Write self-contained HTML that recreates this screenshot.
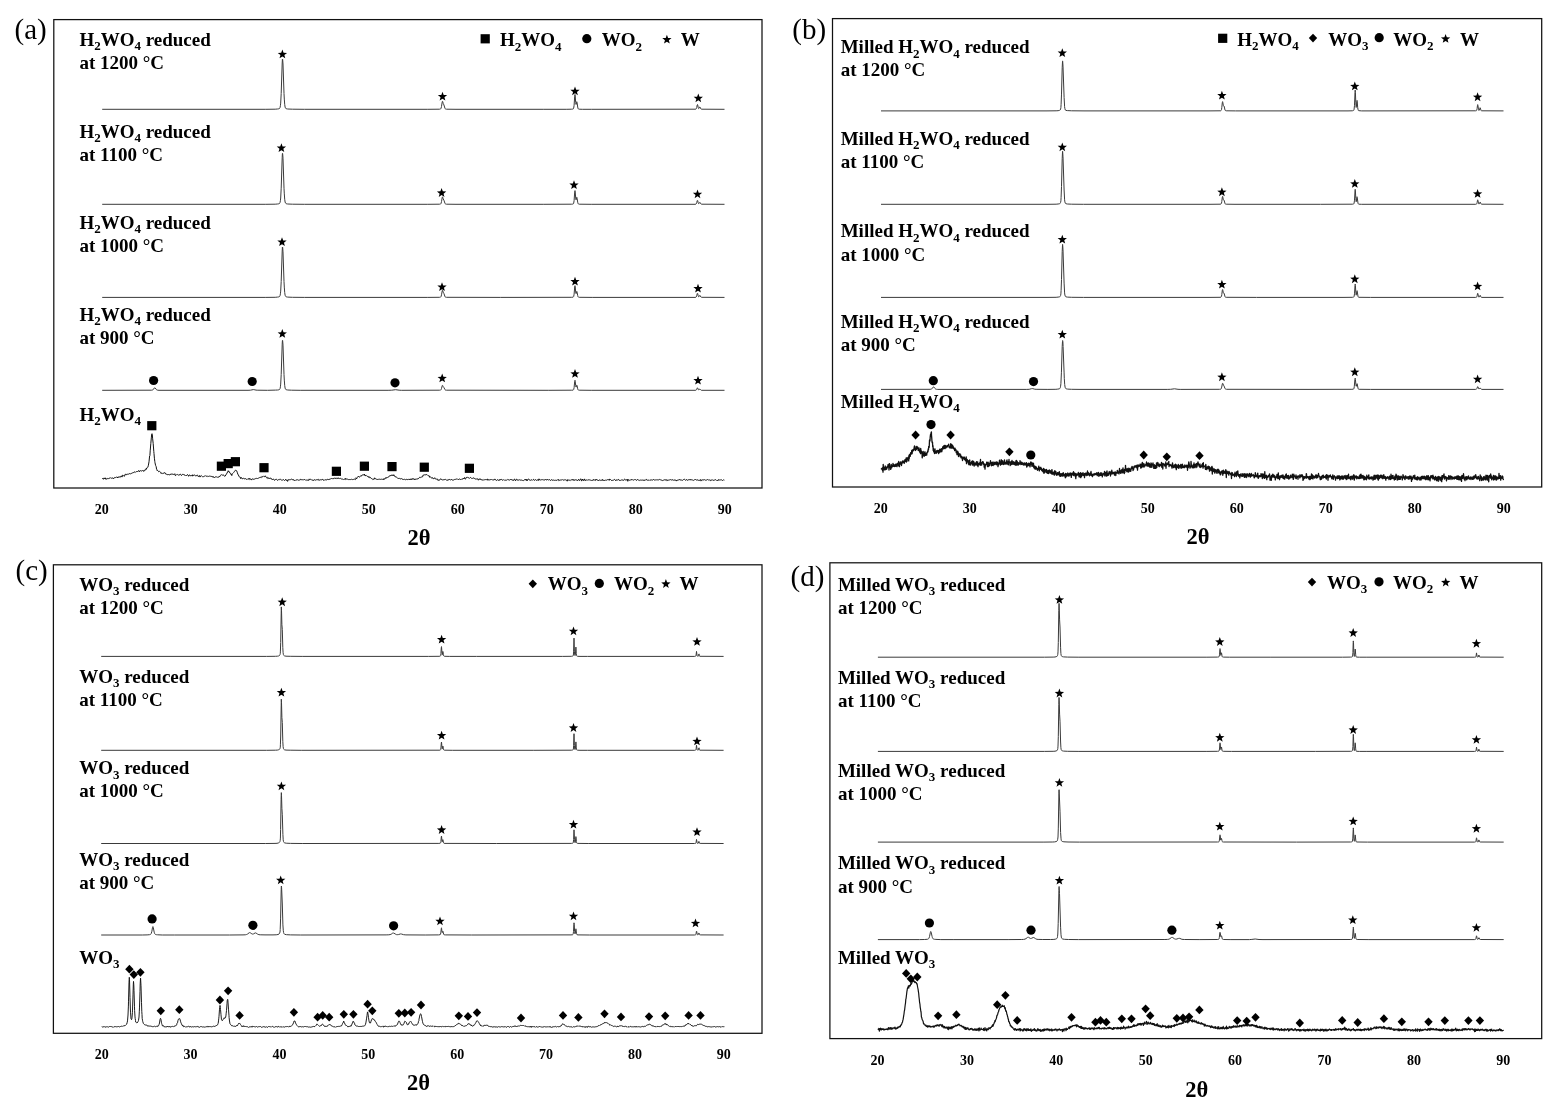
<!DOCTYPE html>
<html><head><meta charset="utf-8"><style>
html,body{margin:0;padding:0;background:#fff;width:1562px;height:1115px;overflow:hidden}
svg{display:block;will-change:transform}
text{font-family:"Liberation Serif",serif;fill:#000}
.lb{font-size:19px;font-weight:bold}
.sb{font-size:13px}
.tk{font-size:14px;font-weight:bold;text-anchor:middle}
.ax{font-size:22.5px;font-weight:bold;text-anchor:middle}
.tag{font-size:29px}
.fr{fill:none;stroke:#111;stroke-width:1.25}
.tr{fill:none;stroke:#3a3a3a;stroke-width:1.0;stroke-linejoin:round}
.tr2{fill:none;stroke:#111;stroke-width:1.2;stroke-linejoin:round}
path,circle,rect{fill:#000}
</style></head><body>
<svg width="1562" height="1115" viewBox="0 0 1562 1115">
<rect class="fr" x="53.8" y="19.6" width="708.2" height="468.4"/>
<text class="tag" x="14.5" y="39.2">(a)</text>
<text class="tk" x="101.8" y="514.0">20</text>
<text class="tk" x="190.8" y="514.0">30</text>
<text class="tk" x="279.8" y="514.0">40</text>
<text class="tk" x="368.8" y="514.0">50</text>
<text class="tk" x="457.8" y="514.0">60</text>
<text class="tk" x="546.8" y="514.0">70</text>
<text class="tk" x="635.8" y="514.0">80</text>
<text class="tk" x="724.8" y="514.0">90</text>
<text class="ax" x="419.0" y="544.7">2θ</text>
<rect x="480.6" y="34.2" width="9.2" height="9.2"/>
<text class="lb" x="500.0" y="46.1">H<tspan class="sb" dy="4.5">2</tspan><tspan dy="-4.5">WO</tspan><tspan class="sb" dy="4.5">4</tspan><tspan dy="-4.5"> </tspan></text>
<circle cx="586.8" cy="38.7" r="4.60"/>
<text class="lb" x="601.7" y="46.1">WO<tspan class="sb" dy="4.5">2</tspan><tspan dy="-4.5"> </tspan></text>
<path d="M666.90,34.70 668.10,37.94 671.56,38.09 668.85,40.23 669.78,43.56 666.90,41.65 664.02,43.56 664.95,40.23 662.24,38.09 665.70,37.94Z"/>
<text class="lb" x="680.8" y="46.1">W</text>
<text class="lb" x="79.4" y="45.5">H<tspan class="sb" dy="4.5">2</tspan><tspan dy="-4.5">WO</tspan><tspan class="sb" dy="4.5">4</tspan><tspan dy="-4.5"> reduced</tspan></text>
<text class="lb" x="79.4" y="68.7">at 1200 °C</text>
<text class="lb" x="79.4" y="137.8">H<tspan class="sb" dy="4.5">2</tspan><tspan dy="-4.5">WO</tspan><tspan class="sb" dy="4.5">4</tspan><tspan dy="-4.5"> reduced</tspan></text>
<text class="lb" x="79.4" y="161.0">at 1100 °C</text>
<text class="lb" x="79.4" y="228.9">H<tspan class="sb" dy="4.5">2</tspan><tspan dy="-4.5">WO</tspan><tspan class="sb" dy="4.5">4</tspan><tspan dy="-4.5"> reduced</tspan></text>
<text class="lb" x="79.4" y="252.1">at 1000 °C</text>
<text class="lb" x="79.4" y="320.5">H<tspan class="sb" dy="4.5">2</tspan><tspan dy="-4.5">WO</tspan><tspan class="sb" dy="4.5">4</tspan><tspan dy="-4.5"> reduced</tspan></text>
<text class="lb" x="79.4" y="343.7">at 900 °C</text>
<text class="lb" x="79.4" y="420.8">H<tspan class="sb" dy="4.5">2</tspan><tspan dy="-4.5">WO</tspan><tspan class="sb" dy="4.5">4</tspan><tspan dy="-4.5"> </tspan></text>
<path class="tr" d="M102.2,109.3 265.2,109.3 275.2,109.2 277.4,109.0 278.8,108.8 279.6,108.4 280.0,107.7 280.4,105.7 280.7,103.1 281.2,93.4 282.2,63.0 282.4,59.4 282.6,59.1 282.7,59.9 283.0,64.0 284.0,93.5 284.3,99.1 284.7,104.3 285.1,107.1 285.5,108.1 285.8,108.5 286.2,108.7 287.7,109.0 292.4,109.2 304.7,109.3 427.2,109.3 439.4,109.2 440.2,109.1 440.6,109.0 440.8,108.7 441.1,108.1 441.5,106.4 442.2,102.1 442.4,101.3 442.6,101.3 442.7,101.6 443.2,103.4 443.9,104.9 445.0,108.4 445.2,108.8 445.5,109.0 446.4,109.2 456.0,109.3 543.2,109.3 566.2,109.3 571.7,109.2 572.7,109.1 573.2,109.0 573.4,108.7 573.7,108.0 574.1,105.3 574.7,96.2 575.0,94.5 575.2,95.8 575.7,102.5 576.0,104.4 576.1,104.5 576.2,104.3 576.6,102.2 576.7,101.8 576.9,101.7 577.1,102.8 577.7,107.0 578.0,108.4 578.4,109.0 579.2,109.2 582.3,109.3 591.7,109.3 695.1,109.2 696.0,109.1 696.3,108.7 696.7,107.6 697.2,105.0 697.5,104.5 697.7,104.9 698.2,107.4 698.6,108.5 698.7,108.6 699.0,108.4 699.6,107.1 699.9,106.9 700.1,107.2 700.9,108.9 701.2,109.1 701.5,109.2 724.5,109.3"/>
<path d="M282.40,49.50 283.60,52.74 287.06,52.89 284.35,55.03 285.28,58.36 282.40,56.45 279.52,58.36 280.45,55.03 277.74,52.89 281.20,52.74Z"/>
<path d="M442.50,91.70 443.70,94.94 447.16,95.09 444.45,97.23 445.38,100.56 442.50,98.65 439.62,100.56 440.55,97.23 437.84,95.09 441.30,94.94Z"/>
<path d="M575.00,86.40 576.20,89.64 579.66,89.79 576.95,91.93 577.88,95.26 575.00,93.35 572.12,95.26 573.05,91.93 570.34,89.79 573.80,89.64Z"/>
<path d="M698.30,93.40 699.50,96.64 702.96,96.79 700.25,98.93 701.18,102.26 698.30,100.35 695.42,102.26 696.35,98.93 693.64,96.79 697.10,96.64Z"/>
<path class="tr" d="M102.2,204.3 265.2,204.3 275.2,204.2 277.4,204.0 278.8,203.8 279.6,203.4 280.0,202.6 280.4,200.7 280.7,198.0 281.2,188.2 282.2,157.3 282.4,153.6 282.6,153.3 282.7,154.1 283.0,158.2 284.0,188.2 284.3,193.9 284.7,199.2 285.1,202.0 285.5,203.1 285.8,203.4 286.2,203.7 287.7,204.0 292.4,204.2 304.7,204.3 427.2,204.3 439.4,204.2 440.2,204.2 440.6,204.0 440.8,203.8 441.1,203.2 441.5,201.6 442.2,197.6 442.4,196.9 442.6,196.9 442.7,197.2 443.2,198.9 443.9,200.2 445.0,203.4 445.2,203.8 445.5,204.0 446.4,204.2 456.0,204.3 543.2,204.3 571.7,204.2 572.7,204.1 573.2,204.0 573.4,203.8 573.7,203.1 574.1,200.6 574.7,192.1 575.0,190.6 575.2,191.8 575.7,198.0 576.0,199.8 576.1,199.9 576.2,199.7 576.6,197.7 576.7,197.3 576.9,197.3 577.1,198.3 577.7,202.2 578.0,203.4 578.4,204.0 579.2,204.2 591.2,204.3 695.1,204.3 696.0,204.1 696.3,203.8 696.7,202.8 697.2,200.7 697.5,200.3 697.7,200.6 698.2,202.8 698.6,203.6 698.7,203.7 699.0,203.6 699.6,202.5 699.9,202.3 700.1,202.5 700.9,203.9 701.2,204.1 701.5,204.2 724.5,204.3"/>
<path d="M281.40,143.20 282.60,146.44 286.06,146.59 283.35,148.73 284.28,152.06 281.40,150.15 278.52,152.06 279.45,148.73 276.74,146.59 280.20,146.44Z"/>
<path d="M441.60,188.10 442.80,191.34 446.26,191.49 443.55,193.63 444.48,196.96 441.60,195.05 438.72,196.96 439.65,193.63 436.94,191.49 440.40,191.34Z"/>
<path d="M574.00,180.20 575.20,183.44 578.66,183.59 575.95,185.73 576.88,189.06 574.00,187.15 571.12,189.06 572.05,185.73 569.34,183.59 572.80,183.44Z"/>
<path d="M697.50,189.40 698.70,192.64 702.16,192.79 699.45,194.93 700.38,198.26 697.50,196.35 694.62,198.26 695.55,194.93 692.84,192.79 696.30,192.64Z"/>
<path class="tr" d="M102.2,297.4 265.2,297.4 275.2,297.3 277.4,297.1 278.8,296.9 279.6,296.5 280.0,295.8 280.4,293.8 280.7,291.1 281.2,281.5 282.2,251.0 282.4,247.3 282.6,247.0 282.7,247.8 283.0,251.9 284.0,281.5 284.3,287.1 284.7,292.4 285.1,295.2 285.5,296.2 285.8,296.6 286.2,296.8 287.7,297.1 292.4,297.3 304.7,297.4 427.2,297.4 439.4,297.3 440.2,297.3 440.6,297.1 440.8,296.9 441.1,296.4 441.5,294.8 442.2,291.0 442.4,290.3 442.6,290.3 442.7,290.6 443.2,292.2 443.9,293.5 445.0,296.6 445.2,297.0 445.5,297.2 446.4,297.3 500.7,297.4 571.7,297.3 573.2,297.1 573.4,296.9 573.7,296.4 574.1,294.2 574.7,287.0 575.0,285.7 575.2,286.7 575.7,292.0 576.0,293.6 576.1,293.6 576.2,293.5 576.6,291.8 576.7,291.5 576.9,291.4 577.1,292.2 577.7,295.6 578.0,296.7 578.4,297.1 579.2,297.3 592.2,297.4 695.1,297.4 696.0,297.2 696.3,296.9 696.7,295.9 697.2,293.7 697.5,293.2 697.7,293.6 698.2,295.8 698.6,296.7 698.7,296.8 699.0,296.7 699.6,295.5 699.9,295.3 700.1,295.5 700.9,297.0 701.2,297.2 701.5,297.3 724.5,297.4"/>
<path d="M282.00,237.20 283.20,240.44 286.66,240.59 283.95,242.73 284.88,246.06 282.00,244.15 279.12,246.06 280.05,242.73 277.34,240.59 280.80,240.44Z"/>
<path d="M442.00,282.20 443.20,285.44 446.66,285.59 443.95,287.73 444.88,291.06 442.00,289.15 439.12,291.06 440.05,287.73 437.34,285.59 440.80,285.44Z"/>
<path d="M575.00,276.70 576.20,279.94 579.66,280.09 576.95,282.23 577.88,285.56 575.00,283.65 572.12,285.56 573.05,282.23 570.34,280.09 573.80,279.94Z"/>
<path d="M698.00,283.70 699.20,286.94 702.66,287.09 699.95,289.23 700.88,292.56 698.00,290.65 695.12,292.56 696.05,289.23 693.34,287.09 696.80,286.94Z"/>
<path class="tr" d="M102.2,390.3 151.4,390.2 152.3,390.1 152.9,389.9 153.4,389.3 154.3,388.0 154.7,387.8 155.2,388.0 156.2,389.4 156.9,390.0 157.7,390.2 159.0,390.3 248.0,390.3 250.4,390.2 253.3,389.6 254.1,389.7 256.0,390.1 257.2,390.2 267.5,390.3 275.6,390.1 277.6,390.0 278.8,389.8 279.6,389.4 280.1,388.5 280.4,386.8 280.7,384.1 281.2,374.5 282.2,344.2 282.4,340.6 282.6,340.3 282.7,341.1 283.0,345.1 284.0,374.6 284.3,380.1 284.7,385.3 285.1,388.1 285.5,389.1 285.8,389.5 286.2,389.7 287.7,390.0 291.5,390.2 300.2,390.3 388.1,390.3 391.7,390.2 395.6,389.7 399.1,390.2 401.3,390.3 439.4,390.2 440.6,390.1 440.8,389.9 441.1,389.6 441.5,388.5 442.2,385.8 442.4,385.3 442.7,385.5 443.2,386.6 443.9,387.5 445.0,389.7 445.5,390.1 446.4,390.2 548.2,390.3 571.7,390.2 573.2,390.1 573.4,389.9 573.7,389.4 574.1,387.6 574.7,381.4 575.0,380.3 575.2,381.2 575.7,385.7 576.0,387.0 576.1,387.1 576.2,386.9 576.6,385.5 576.7,385.2 576.9,385.2 577.1,385.9 577.7,388.8 578.0,389.7 578.4,390.1 579.2,390.2 591.2,390.3 695.1,390.3 696.0,390.2 696.3,390.0 696.7,389.4 697.2,388.1 697.5,387.8 697.7,388.0 698.2,389.3 698.6,389.9 699.0,389.9 699.6,389.1 699.9,389.0 700.1,389.2 700.9,390.1 701.5,390.3 724.5,390.3"/>
<circle cx="153.6" cy="380.5" r="4.60"/>
<circle cx="252.2" cy="381.5" r="4.60"/>
<circle cx="395.0" cy="382.8" r="4.60"/>
<path d="M282.30,329.00 283.50,332.24 286.96,332.39 284.25,334.53 285.18,337.86 282.30,335.95 279.42,337.86 280.35,334.53 277.64,332.39 281.10,332.24Z"/>
<path d="M442.20,373.50 443.40,376.74 446.86,376.89 444.15,379.03 445.08,382.36 442.20,380.45 439.32,382.36 440.25,379.03 437.54,376.89 441.00,376.74Z"/>
<path d="M575.00,369.00 576.20,372.24 579.66,372.39 576.95,374.53 577.88,377.86 575.00,375.95 572.12,377.86 573.05,374.53 570.34,372.39 573.80,372.24Z"/>
<path d="M698.00,375.70 699.20,378.94 702.66,379.09 699.95,381.23 700.88,384.56 698.00,382.65 695.12,384.56 696.05,381.23 693.34,379.09 696.80,378.94Z"/>
<path class="tr2" style="stroke-width:1.00" d="M102.2,478.5 102.8,478.5 103.4,479.3 104.0,477.9 104.6,478.8 105.2,477.8 105.8,479.3 106.4,478.8 107.0,479.3 107.6,478.4 108.2,478.7 108.8,478.4 109.4,478.1 110.0,478.4 110.6,477.7 111.2,478.1 111.8,478.4 112.4,478.1 113.0,477.8 113.6,478.8 114.2,477.8 114.8,477.4 115.4,477.6 116.0,477.2 116.6,477.1 117.2,477.0 117.8,478.0 118.4,476.9 119.0,476.9 119.6,476.9 120.2,477.4 120.8,476.2 121.4,475.9 122.0,477.1 122.6,475.2 123.2,475.5 123.8,475.8 124.4,476.3 125.0,474.7 125.6,473.9 126.2,475.1 126.8,474.3 127.4,474.2 128.0,474.4 128.6,474.1 129.2,473.9 129.8,473.4 130.4,474.0 131.0,473.9 131.6,473.1 132.2,472.7 132.8,473.0 133.4,472.7 134.0,471.9 134.6,472.0 135.2,472.5 135.8,471.8 136.4,471.6 137.0,471.7 137.6,471.5 138.2,471.3 138.8,470.4 139.4,471.9 140.0,471.1 140.6,470.5 141.2,471.2 141.8,470.8 142.4,470.5 143.0,470.9 143.6,471.3 143.8,470.4 144.2,470.8 144.8,470.8 145.4,469.1 146.0,469.0 146.4,469.3 146.6,468.0 147.2,467.9 147.8,467.3 148.4,465.2 149.0,461.8 149.6,456.0 149.9,455.5 150.2,450.8 150.8,443.7 151.4,437.1 151.7,434.1 152.0,433.7 152.3,434.4 152.6,438.2 153.2,443.7 153.8,451.4 154.0,453.5 154.4,458.2 154.8,461.4 155.0,462.8 155.6,465.4 156.2,466.7 156.5,469.0 156.8,469.6 157.2,470.7 157.4,470.3 158.0,470.7 158.6,471.7 159.2,471.2 159.8,471.7 160.4,472.0 160.8,472.7 161.0,473.6 161.6,473.2 162.2,473.6 162.7,473.3 162.8,473.4 163.4,473.2 164.0,473.4 164.6,472.5 164.9,473.1 165.2,473.1 165.8,474.2 166.4,474.2 167.0,474.5 167.6,474.8 168.2,474.0 168.8,474.7 169.4,475.1 170.0,474.3 170.6,474.9 170.8,474.3 171.2,473.7 171.8,474.5 172.4,474.1 173.0,474.6 173.6,474.4 174.2,474.7 174.8,473.7 175.4,475.6 176.0,475.3 176.6,474.6 177.2,474.3 177.8,474.8 178.4,475.1 179.0,475.0 179.6,475.0 180.2,474.0 180.8,474.4 181.4,475.5 182.0,475.1 182.6,474.3 183.2,474.6 183.8,474.4 184.4,474.6 185.0,475.6 185.6,475.0 186.2,475.7 186.8,475.3 187.4,474.5 188.0,475.0 188.6,476.3 189.2,475.0 189.8,474.9 190.4,475.9 191.0,475.5 191.6,475.4 192.2,476.2 192.8,474.7 193.4,475.7 194.0,475.1 194.6,475.0 195.2,475.3 195.8,476.2 196.4,475.7 197.0,474.9 197.6,475.3 198.2,476.6 198.8,476.4 199.4,475.5 200.0,477.1 200.6,475.9 201.2,475.5 201.8,476.1 202.4,476.6 203.0,477.0 203.6,476.7 204.2,476.1 204.8,476.1 205.4,475.7 206.0,476.4 206.6,476.2 207.2,476.6 207.8,476.0 208.4,476.4 209.0,476.2 209.6,476.1 210.2,476.2 210.8,476.3 211.4,476.3 212.0,477.1 212.6,476.9 213.0,476.3 213.2,477.2 213.8,477.1 214.4,477.7 215.0,476.9 215.6,476.9 216.2,476.7 216.8,477.1 217.4,477.3 217.7,477.1 218.0,476.9 218.6,477.2 218.7,476.9 219.2,476.8 219.6,476.0 219.8,476.5 220.4,475.4 221.0,474.8 221.6,474.7 222.2,475.3 222.8,474.9 223.4,475.0 224.0,475.4 224.2,476.0 224.6,476.3 225.2,476.1 225.8,474.9 226.1,474.8 226.4,474.1 227.0,473.1 227.6,471.9 227.8,471.9 228.2,470.7 228.3,471.1 228.8,471.9 229.1,471.5 229.4,472.6 230.0,472.6 230.6,473.8 230.9,474.4 231.2,473.9 231.5,474.2 231.8,475.6 231.9,474.1 232.4,473.9 233.0,473.3 233.6,472.6 234.2,471.6 234.8,471.2 235.1,470.8 235.4,470.2 236.0,470.4 236.4,470.5 236.6,470.7 237.2,472.2 237.8,474.1 238.4,475.0 239.0,476.3 239.6,477.1 240.2,477.2 240.8,478.7 240.9,477.5 241.4,477.7 242.0,478.0 242.6,478.9 243.2,478.4 243.8,478.2 244.4,478.8 245.0,479.2 245.2,478.7 245.6,478.6 246.2,479.3 246.8,479.3 247.4,479.3 248.0,478.6 248.6,479.1 248.9,479.1 249.2,478.2 249.8,479.6 250.4,479.1 251.0,478.9 251.6,480.1 252.2,479.1 252.6,478.7 252.8,479.0 253.4,479.3 254.0,479.4 254.6,479.0 255.2,478.6 255.8,478.6 256.4,478.4 257.0,478.2 257.6,478.6 258.0,478.2 258.2,478.4 258.8,477.8 259.4,477.6 260.0,477.7 260.6,477.3 261.2,477.7 261.8,476.5 262.4,476.8 263.0,476.5 263.6,475.9 264.2,476.8 264.8,476.6 265.4,475.8 266.0,477.2 266.6,477.7 267.2,477.2 267.8,478.6 268.4,478.2 269.0,477.8 269.2,478.7 269.6,478.4 270.2,478.2 270.8,478.0 271.4,479.2 271.6,478.8 272.0,479.5 272.6,479.5 273.2,479.2 273.8,479.2 274.4,480.3 274.8,480.3 275.0,479.9 275.6,479.4 276.2,479.2 276.8,479.5 277.4,480.4 278.0,479.9 278.6,479.6 279.2,479.2 279.8,479.8 280.4,479.3 281.0,479.8 281.6,480.1 282.2,480.3 282.8,479.8 283.4,479.6 284.0,479.9 284.6,480.6 285.2,480.0 285.8,479.2 286.4,480.5 287.0,479.9 287.6,481.4 288.2,479.6 288.8,479.8 289.4,479.7 290.0,480.0 290.6,479.6 291.2,479.2 291.8,479.0 292.4,479.8 293.0,479.6 293.6,479.6 294.2,480.8 294.8,480.2 295.4,480.4 296.0,479.7 296.6,480.0 297.2,479.8 297.8,479.8 298.4,480.2 299.0,480.2 299.6,480.0 300.2,480.0 300.8,479.2 301.4,479.6 302.0,480.1 302.6,479.7 303.2,479.5 303.8,480.1 304.4,479.5 305.0,479.6 305.6,480.3 306.2,479.7 306.8,480.5 307.4,480.1 308.0,480.3 308.6,480.4 309.2,478.9 309.8,479.8 310.4,479.3 311.0,479.7 311.6,479.8 312.2,480.4 312.8,479.8 313.4,480.6 314.0,479.6 314.6,479.8 315.2,479.9 315.8,480.3 316.4,479.8 317.0,479.6 317.6,479.7 318.2,479.2 318.8,480.4 319.4,480.1 320.0,480.0 320.6,479.9 320.8,479.5 321.2,479.6 321.8,480.1 322.4,479.4 323.0,479.3 323.6,480.4 324.2,480.4 324.8,479.7 325.4,479.8 326.0,479.6 326.6,480.1 327.2,479.2 327.8,479.4 328.4,479.5 329.0,479.9 329.6,479.0 330.2,479.1 330.8,478.7 331.4,478.5 332.0,478.5 332.6,478.7 333.2,479.0 333.8,478.2 334.4,478.2 335.0,478.2 335.6,478.5 336.0,478.7 336.2,477.8 336.8,478.5 337.4,478.0 338.0,478.8 338.2,478.0 338.6,478.0 339.2,478.3 339.8,478.6 340.4,478.3 341.0,478.9 341.6,479.0 342.2,479.0 342.8,479.2 343.4,479.5 344.0,478.9 344.6,479.2 345.2,479.3 345.5,478.4 345.8,479.5 346.4,479.0 347.0,479.1 347.6,479.2 348.2,479.5 348.8,479.6 349.4,479.6 350.0,479.1 350.6,479.7 350.9,479.6 351.2,479.2 351.8,479.3 352.4,479.6 353.0,479.3 353.6,479.4 354.2,479.0 354.8,479.3 355.4,479.6 355.8,478.7 356.0,477.7 356.6,478.9 357.2,477.6 357.8,477.0 358.4,476.2 359.0,477.1 359.6,477.0 360.2,476.6 360.8,475.6 361.4,476.1 361.7,475.3 362.0,474.9 362.6,475.0 363.2,475.0 363.6,474.9 363.8,475.0 364.4,474.0 365.0,475.8 365.4,475.0 365.6,475.7 366.2,475.4 366.8,476.1 367.4,476.4 368.0,476.1 368.6,477.3 369.2,477.8 369.3,477.1 369.8,476.8 370.4,477.8 371.0,477.9 371.6,478.6 372.2,478.7 372.8,479.6 373.4,479.3 374.0,478.9 374.2,479.2 374.6,477.8 375.2,478.8 375.8,478.8 376.4,479.2 377.0,479.5 377.4,479.4 377.6,479.7 378.2,479.0 378.8,479.4 379.4,479.2 380.0,479.3 380.6,479.4 380.9,479.1 381.2,479.3 381.8,479.1 382.4,479.4 383.0,478.8 383.6,478.9 383.8,479.8 384.2,478.8 384.8,478.6 385.4,478.6 386.0,477.4 386.1,478.1 386.6,477.9 387.2,477.5 387.8,477.4 388.4,477.0 389.0,476.8 389.6,475.7 390.2,475.9 390.8,475.3 391.1,476.0 391.4,475.4 392.0,474.7 392.6,475.4 392.8,475.0 393.2,476.0 393.7,475.5 393.8,474.7 394.4,475.8 395.0,476.8 395.6,476.8 396.2,476.7 396.8,477.6 397.4,477.9 398.0,478.6 398.5,478.5 398.6,478.3 399.2,478.0 399.8,478.7 400.1,478.8 400.4,478.8 401.0,479.1 401.6,478.5 402.2,479.4 402.8,479.2 403.4,479.5 404.0,479.3 404.6,479.3 405.2,479.5 405.8,479.8 406.4,479.3 406.8,479.6 407.0,479.1 407.6,479.7 408.2,479.5 408.8,478.9 409.4,480.0 410.0,479.1 410.6,479.5 410.8,478.9 411.2,478.7 411.8,479.8 412.4,478.8 413.0,478.5 413.6,479.3 413.8,478.6 414.2,479.2 414.8,480.0 415.4,479.0 416.0,479.2 416.2,479.2 416.6,479.0 417.2,478.7 417.8,479.2 418.2,478.4 418.4,478.5 419.0,478.2 419.6,477.3 420.2,477.7 420.8,477.2 421.4,477.1 422.0,476.8 422.6,476.8 423.2,474.9 423.8,475.2 423.9,475.2 424.4,474.8 425.0,475.2 425.6,474.9 425.8,475.0 426.2,474.2 426.6,474.6 426.8,475.0 427.4,475.1 427.5,475.0 428.0,475.5 428.6,475.8 429.2,475.8 429.8,477.4 430.4,476.7 431.0,477.6 431.6,477.9 432.0,478.3 432.2,477.7 432.8,477.8 433.4,478.7 434.0,478.8 434.6,477.8 434.7,477.7 435.2,478.8 435.8,479.0 436.4,479.1 437.0,479.5 437.6,479.0 438.2,480.6 438.8,479.9 439.4,480.1 440.0,479.7 440.6,478.7 441.2,479.7 441.8,479.4 442.4,479.9 443.0,479.6 443.6,480.0 444.0,479.3 444.2,479.5 444.8,479.7 445.4,479.4 446.0,479.5 446.6,480.0 447.2,480.6 447.8,479.6 448.4,480.1 449.0,479.2 449.6,479.5 450.2,479.9 450.8,480.0 451.4,479.3 452.0,480.0 452.3,479.8 452.6,480.3 453.2,480.1 453.8,479.9 454.4,479.5 455.0,479.8 455.6,479.3 456.2,479.3 456.8,478.8 457.4,479.0 457.6,479.0 458.0,479.5 458.6,479.5 459.2,478.8 459.8,479.3 460.4,479.5 461.0,479.6 461.4,479.1 461.6,479.2 462.2,478.8 462.8,479.3 463.4,478.1 464.0,478.8 464.6,477.5 465.2,479.2 465.8,478.7 466.4,477.3 467.0,477.9 467.3,477.5 467.6,477.3 468.2,477.8 468.8,477.6 469.4,478.4 470.0,477.7 470.6,477.5 471.2,478.0 471.5,478.3 471.8,478.5 472.4,478.5 473.0,477.7 473.6,478.1 474.2,478.5 474.8,478.3 475.4,479.2 476.0,478.8 476.6,479.0 477.0,479.0 477.2,479.2 477.8,478.6 478.4,480.2 479.0,479.1 479.6,479.1 480.2,478.7 480.4,479.5 480.8,479.0 481.4,479.8 482.0,480.2 482.6,480.0 483.2,479.5 483.8,480.3 484.4,479.7 484.6,479.7 485.0,479.8 485.6,479.6 486.2,480.0 486.8,479.3 487.4,479.0 488.0,480.4 488.6,479.5 489.2,479.7 489.8,480.0 490.4,479.7 491.0,479.4 491.4,479.8 491.6,479.5 492.2,480.1 492.8,479.7 493.4,479.8 494.0,480.2 494.6,479.2 495.2,479.2 495.8,480.2 496.4,480.5 497.0,480.0 497.6,479.6 498.2,480.5 498.8,480.1 499.4,480.4 500.0,479.1 500.6,479.9 501.2,479.5 501.8,479.4 502.4,480.2 503.0,480.3 503.6,479.7 504.2,479.8 504.8,480.5 505.4,480.2 506.0,479.9 506.6,480.2 507.2,480.0 507.8,479.4 508.4,479.7 509.0,480.1 509.6,480.2 510.2,479.4 510.8,479.6 511.4,479.7 512.0,479.3 512.6,480.4 513.2,480.2 513.8,480.5 514.4,479.0 515.0,479.6 515.6,480.8 516.2,479.3 516.8,479.1 517.4,480.1 518.0,480.7 518.6,480.2 519.2,479.5 519.8,480.2 520.4,480.1 521.0,480.1 521.6,480.1 522.2,480.3 522.8,480.5 523.4,480.6 524.0,480.4 524.6,479.9 525.2,479.1 525.8,480.2 526.4,479.3 527.0,481.0 527.6,479.5 528.2,479.1 528.8,479.1 529.4,480.1 530.0,480.1 530.6,480.3 531.2,480.1 531.8,479.6 532.4,480.3 533.0,479.7 533.6,479.3 534.2,480.4 534.8,480.2 535.4,479.6 536.0,479.9 536.6,480.4 537.2,480.4 537.8,479.5 538.4,480.5 539.0,478.8 539.6,480.0 540.2,480.1 540.8,479.9 541.4,480.0 542.0,479.3 542.6,479.9 543.2,480.2 543.8,479.6 544.4,480.0 545.0,479.9 545.6,479.0 546.2,479.7 546.8,480.2 547.4,479.3 548.0,480.0 548.6,480.1 549.2,479.4 549.8,479.9 550.4,480.4 551.0,480.3 551.6,479.5 552.2,480.4 552.8,480.1 553.4,480.0 554.0,480.6 554.6,480.3 555.2,480.1 555.8,480.4 556.4,480.3 557.0,480.5 557.6,479.9 558.2,479.2 558.8,480.7 559.4,480.3 560.0,480.2 560.6,480.0 561.2,479.9 561.8,480.0 562.4,479.6 563.0,480.3 563.6,480.0 564.2,479.6 564.8,480.1 565.4,479.8 566.0,480.0 566.6,480.2 567.2,481.2 567.8,479.5 568.4,480.2 569.0,480.3 569.6,480.2 570.2,480.6 570.8,479.8 571.4,479.8 572.0,480.0 572.6,479.4 573.2,480.5 573.8,479.4 574.4,480.2 575.0,480.5 575.6,479.6 576.2,479.9 576.8,479.9 577.4,480.8 578.0,480.1 578.6,479.2 579.2,480.5 579.8,480.4 580.4,479.1 581.0,478.8 581.6,481.1 582.2,480.0 582.8,479.0 583.4,480.5 584.0,480.6 584.6,478.9 585.2,480.6 585.8,480.3 586.4,480.0 587.0,479.7 587.6,480.2 588.2,479.6 588.8,480.1 589.4,479.9 590.0,479.8 590.6,480.2 591.2,480.4 591.8,480.4 592.4,480.2 593.0,480.7 593.6,479.4 594.2,480.0 594.8,480.1 595.4,480.5 596.0,479.0 596.6,479.8 597.2,479.8 597.8,480.1 598.4,481.0 599.0,480.1 599.6,479.9 600.2,480.2 600.8,480.4 601.4,479.9 602.0,480.7 602.6,479.4 603.2,480.5 603.8,480.3 604.4,480.4 605.0,480.7 605.6,479.9 606.2,480.2 606.8,480.1 607.4,479.7 608.0,479.6 608.6,479.6 609.2,480.4 609.8,479.0 610.4,479.4 611.0,480.0 611.6,480.6 612.2,479.9 612.8,480.6 613.4,480.0 614.0,479.8 614.6,479.3 615.2,480.1 615.8,480.8 616.4,480.0 617.0,479.5 617.6,480.3 618.2,479.4 618.8,479.5 619.4,480.5 620.0,480.2 620.6,480.4 621.2,480.1 621.8,479.9 622.4,480.1 623.0,479.8 623.6,480.5 624.2,479.4 624.8,479.1 625.4,479.6 626.0,480.4 626.6,479.8 627.2,479.0 627.8,481.3 628.4,479.6 629.0,479.9 629.6,480.3 630.2,480.2 630.8,479.9 631.4,479.3 632.0,480.2 632.6,479.6 633.2,479.9 633.8,480.3 634.4,479.8 635.0,479.2 635.6,479.7 636.2,480.3 636.8,480.3 637.4,479.4 638.0,480.0 638.6,480.1 639.2,480.5 639.8,480.2 640.4,480.1 641.0,479.9 641.6,480.2 642.2,480.3 642.8,479.9 643.4,479.9 644.0,480.8 644.6,480.0 645.2,479.6 645.8,480.3 646.4,479.4 647.0,479.5 647.6,480.4 648.2,480.0 648.8,480.3 649.4,480.3 650.0,479.7 650.6,480.2 651.2,479.8 651.8,480.1 652.4,480.1 653.0,480.0 653.6,479.4 654.2,480.1 654.8,480.0 655.4,480.2 656.0,479.5 656.6,480.1 657.2,479.9 657.8,479.8 658.4,479.9 659.0,479.9 659.6,479.4 660.2,479.8 660.8,479.8 661.4,480.2 662.0,479.9 662.6,480.6 663.2,480.3 663.8,480.1 664.4,480.1 665.0,479.4 665.6,480.2 666.2,480.6 666.8,479.5 667.4,480.6 668.0,480.3 668.6,480.1 669.2,479.8 669.8,480.0 670.4,479.6 671.0,480.0 671.6,480.0 672.2,480.0 672.8,479.5 673.4,480.4 674.0,479.7 674.6,480.2 675.2,480.3 675.8,479.9 676.4,481.1 677.0,480.0 677.6,480.2 678.2,479.9 678.8,480.1 679.4,479.4 680.0,480.3 680.6,479.8 681.2,479.8 681.8,480.3 682.4,480.4 683.0,479.8 683.6,479.5 684.2,479.1 684.8,479.6 685.4,480.2 686.0,480.3 686.6,479.4 687.2,480.0 687.8,480.5 688.4,479.7 689.0,479.8 689.6,479.6 690.2,480.2 690.8,479.2 691.4,479.9 692.0,480.2 692.6,480.0 693.2,480.4 693.8,480.3 694.4,479.8 695.0,479.6 695.6,479.5 696.2,480.2 696.8,479.9 697.4,480.0 698.0,479.6 698.6,480.5 699.2,480.4 699.8,480.3 700.4,479.5 701.0,481.1 701.6,480.4 702.2,479.5 702.8,480.4 703.4,479.9 704.0,479.7 704.6,479.7 705.2,480.2 705.8,480.1 706.4,480.1 707.0,479.9 707.6,479.5 708.2,480.1 708.8,479.9 709.4,479.9 710.0,480.3 710.6,480.7 711.2,479.7 711.8,480.4 712.4,479.7 713.0,480.4 713.6,480.3 714.2,480.0 714.8,480.1 715.4,479.7 716.0,479.8 716.6,480.4 717.2,480.3 717.8,481.0 718.4,479.6 719.0,479.8 719.6,480.0 720.2,480.0 720.8,479.8 721.4,479.8 722.0,480.0 722.6,480.6 723.2,480.0 723.8,479.7 724.4,480.1"/>
<rect x="147.2" y="421.1" width="9.2" height="9.2"/>
<rect x="216.8" y="461.6" width="9.2" height="9.2"/>
<rect x="223.6" y="459.0" width="9.2" height="9.2"/>
<rect x="230.8" y="457.1" width="9.2" height="9.2"/>
<rect x="259.4" y="463.1" width="9.2" height="9.2"/>
<rect x="331.8" y="466.7" width="9.2" height="9.2"/>
<rect x="359.8" y="461.6" width="9.2" height="9.2"/>
<rect x="387.4" y="462.0" width="9.2" height="9.2"/>
<rect x="419.7" y="462.6" width="9.2" height="9.2"/>
<rect x="464.8" y="463.7" width="9.2" height="9.2"/>
<rect class="fr" x="832.5" y="18.6" width="709.2" height="468.4"/>
<text class="tag" x="792.3" y="39.2">(b)</text>
<text class="tk" x="880.8" y="513.0">20</text>
<text class="tk" x="969.8" y="513.0">30</text>
<text class="tk" x="1058.8" y="513.0">40</text>
<text class="tk" x="1147.8" y="513.0">50</text>
<text class="tk" x="1236.8" y="513.0">60</text>
<text class="tk" x="1325.8" y="513.0">70</text>
<text class="tk" x="1414.8" y="513.0">80</text>
<text class="tk" x="1503.8" y="513.0">90</text>
<text class="ax" x="1198.0" y="543.8">2θ</text>
<rect x="1218.1" y="33.7" width="9.2" height="9.2"/>
<text class="lb" x="1237.2" y="45.7">H<tspan class="sb" dy="4.5">2</tspan><tspan dy="-4.5">WO</tspan><tspan class="sb" dy="4.5">4</tspan><tspan dy="-4.5"> </tspan></text>
<path d="M1313.0,33.7 L1317.2,38.1 L1313.0,42.5 L1308.8,38.1Z"/>
<text class="lb" x="1328.3" y="45.7">WO<tspan class="sb" dy="4.5">3</tspan><tspan dy="-4.5"> </tspan></text>
<circle cx="1379.2" cy="37.7" r="4.60"/>
<text class="lb" x="1393.2" y="45.7">WO<tspan class="sb" dy="4.5">2</tspan><tspan dy="-4.5"> </tspan></text>
<path d="M1445.60,34.00 1446.80,37.24 1450.26,37.39 1447.55,39.53 1448.48,42.86 1445.60,40.95 1442.72,42.86 1443.65,39.53 1440.94,37.39 1444.40,37.24Z"/>
<text class="lb" x="1460.0" y="45.7">W</text>
<text class="lb" x="840.7" y="53.2">Milled H<tspan class="sb" dy="4.5">2</tspan><tspan dy="-4.5">WO</tspan><tspan class="sb" dy="4.5">4</tspan><tspan dy="-4.5"> reduced</tspan></text>
<text class="lb" x="840.7" y="76.4">at 1200 °C</text>
<text class="lb" x="840.7" y="144.6">Milled H<tspan class="sb" dy="4.5">2</tspan><tspan dy="-4.5">WO</tspan><tspan class="sb" dy="4.5">4</tspan><tspan dy="-4.5"> reduced</tspan></text>
<text class="lb" x="840.7" y="167.8">at 1100 °C</text>
<text class="lb" x="840.7" y="237.4">Milled H<tspan class="sb" dy="4.5">2</tspan><tspan dy="-4.5">WO</tspan><tspan class="sb" dy="4.5">4</tspan><tspan dy="-4.5"> reduced</tspan></text>
<text class="lb" x="840.7" y="260.6">at 1000 °C</text>
<text class="lb" x="840.7" y="327.5">Milled H<tspan class="sb" dy="4.5">2</tspan><tspan dy="-4.5">WO</tspan><tspan class="sb" dy="4.5">4</tspan><tspan dy="-4.5"> reduced</tspan></text>
<text class="lb" x="840.7" y="350.7">at 900 °C</text>
<text class="lb" x="840.7" y="407.8">Milled H<tspan class="sb" dy="4.5">2</tspan><tspan dy="-4.5">WO</tspan><tspan class="sb" dy="4.5">4</tspan><tspan dy="-4.5"> </tspan></text>
<path class="tr" d="M881.0,110.9 1047.0,110.9 1056.1,110.8 1058.1,110.7 1059.4,110.4 1059.9,110.2 1060.2,110.0 1060.6,109.2 1060.9,107.6 1061.1,104.3 1061.5,94.1 1062.2,67.7 1062.5,61.7 1062.6,60.9 1062.7,61.5 1063.0,66.1 1064.1,97.4 1064.6,106.7 1064.9,108.6 1065.3,109.9 1065.5,110.2 1065.9,110.4 1067.3,110.6 1071.7,110.8 1084.0,110.9 1209.0,110.9 1220.0,110.8 1220.6,110.8 1221.0,110.6 1221.2,110.4 1221.5,109.7 1221.8,107.4 1222.3,102.7 1222.6,101.6 1222.7,101.8 1222.8,102.3 1223.3,105.5 1223.5,105.9 1223.9,105.9 1224.1,106.1 1225.0,110.0 1225.4,110.6 1226.2,110.8 1235.5,110.9 1332.0,110.9 1348.0,110.9 1352.3,110.8 1353.3,110.6 1353.7,110.4 1353.9,110.1 1354.1,109.1 1354.5,105.3 1355.0,92.4 1355.2,90.1 1355.4,92.3 1355.8,102.8 1356.1,107.2 1356.2,107.5 1356.4,106.6 1356.8,101.7 1357.0,100.4 1357.1,100.5 1357.2,101.2 1357.7,107.7 1358.0,109.3 1358.3,110.4 1358.5,110.6 1359.0,110.7 1361.7,110.9 1370.0,110.9 1475.7,110.8 1476.4,110.7 1476.6,110.5 1476.8,110.1 1477.1,108.5 1477.5,105.3 1477.7,104.6 1477.9,105.3 1478.5,109.5 1478.7,110.3 1479.0,110.5 1479.2,110.4 1479.4,110.1 1479.9,108.2 1480.1,107.7 1480.3,108.0 1481.0,110.4 1481.2,110.7 1481.6,110.8 1503.5,110.9"/>
<path d="M1062.30,48.20 1063.50,51.44 1066.96,51.59 1064.25,53.73 1065.18,57.06 1062.30,55.15 1059.42,57.06 1060.35,53.73 1057.64,51.59 1061.10,51.44Z"/>
<path d="M1221.90,90.70 1223.10,93.94 1226.56,94.09 1223.85,96.23 1224.78,99.56 1221.90,97.65 1219.02,99.56 1219.95,96.23 1217.24,94.09 1220.70,93.94Z"/>
<path d="M1354.80,81.50 1356.00,84.74 1359.46,84.89 1356.75,87.03 1357.68,90.36 1354.80,88.45 1351.92,90.36 1352.85,87.03 1350.14,84.89 1353.60,84.74Z"/>
<path d="M1477.60,92.30 1478.80,95.54 1482.26,95.69 1479.55,97.83 1480.48,101.16 1477.60,99.25 1474.72,101.16 1475.65,97.83 1472.94,95.69 1476.40,95.54Z"/>
<path class="tr" d="M881.0,204.3 1047.0,204.3 1056.1,204.2 1058.1,204.0 1059.4,203.8 1059.9,203.6 1060.2,203.3 1060.6,202.4 1060.9,200.8 1061.1,197.3 1061.5,186.5 1062.2,158.5 1062.5,152.1 1062.6,151.3 1062.7,152.0 1063.0,156.8 1064.1,190.0 1064.6,199.8 1064.9,201.9 1065.3,203.2 1065.5,203.5 1065.9,203.7 1067.3,204.0 1071.7,204.2 1083.5,204.3 1209.0,204.3 1220.0,204.2 1221.0,204.0 1221.2,203.8 1221.5,203.3 1221.8,201.4 1222.3,197.3 1222.6,196.4 1222.7,196.5 1222.8,197.0 1223.3,199.7 1223.5,200.0 1223.9,200.0 1224.1,200.2 1225.0,203.5 1225.4,204.1 1226.2,204.2 1235.0,204.3 1320.5,204.3 1352.3,204.2 1353.3,204.1 1353.7,204.0 1353.9,203.7 1354.1,203.0 1354.5,200.2 1355.0,191.0 1355.2,189.3 1355.4,190.9 1355.8,198.5 1356.1,201.6 1356.2,201.8 1356.4,201.2 1356.8,197.7 1357.0,196.7 1357.1,196.8 1357.2,197.3 1358.0,203.2 1358.3,203.9 1358.5,204.1 1359.0,204.2 1361.7,204.3 1370.0,204.3 1475.7,204.3 1476.4,204.2 1476.6,204.0 1476.8,203.7 1477.1,202.6 1477.5,200.3 1477.7,199.8 1477.9,200.3 1478.5,203.3 1478.7,203.9 1479.0,204.0 1479.2,204.0 1479.4,203.7 1479.9,202.4 1480.1,202.0 1480.3,202.2 1481.0,203.9 1481.2,204.1 1481.6,204.2 1503.5,204.3"/>
<path d="M1062.30,142.40 1063.50,145.64 1066.96,145.79 1064.25,147.93 1065.18,151.26 1062.30,149.35 1059.42,151.26 1060.35,147.93 1057.64,145.79 1061.10,145.64Z"/>
<path d="M1221.90,187.30 1223.10,190.54 1226.56,190.69 1223.85,192.83 1224.78,196.16 1221.90,194.25 1219.02,196.16 1219.95,192.83 1217.24,190.69 1220.70,190.54Z"/>
<path d="M1354.80,179.00 1356.00,182.24 1359.46,182.39 1356.75,184.53 1357.68,187.86 1354.80,185.95 1351.92,187.86 1352.85,184.53 1350.14,182.39 1353.60,182.24Z"/>
<path d="M1477.60,189.00 1478.80,192.24 1482.26,192.39 1479.55,194.53 1480.48,197.86 1477.60,195.95 1474.72,197.86 1475.65,194.53 1472.94,192.39 1476.40,192.24Z"/>
<path class="tr" d="M881.0,297.4 1047.0,297.4 1056.1,297.3 1058.1,297.1 1059.4,296.9 1059.9,296.7 1060.2,296.4 1060.6,295.5 1060.9,293.9 1061.1,290.4 1061.5,279.6 1062.2,251.6 1062.5,245.2 1062.6,244.4 1062.7,245.1 1063.0,249.9 1064.1,283.1 1064.6,292.9 1064.9,295.0 1065.3,296.3 1065.5,296.6 1065.9,296.8 1067.3,297.1 1071.7,297.3 1083.5,297.4 1209.0,297.4 1220.0,297.3 1221.0,297.1 1221.2,296.9 1221.5,296.4 1221.8,294.5 1222.3,290.4 1222.6,289.5 1222.7,289.6 1222.8,290.1 1223.3,292.8 1223.5,293.1 1223.9,293.1 1224.1,293.3 1225.0,296.6 1225.4,297.2 1226.2,297.3 1256.5,297.4 1343.0,297.4 1352.3,297.3 1353.3,297.2 1353.7,297.1 1353.9,296.9 1354.1,296.3 1354.5,293.8 1355.0,285.6 1355.2,284.1 1355.4,285.5 1355.8,292.2 1356.1,295.0 1356.2,295.2 1356.4,294.6 1356.8,291.5 1357.0,290.7 1357.1,290.7 1357.2,291.2 1358.0,296.4 1358.3,297.1 1358.5,297.2 1359.0,297.3 1370.5,297.4 1475.7,297.4 1476.4,297.3 1476.6,297.2 1476.8,296.9 1477.1,295.8 1477.5,293.7 1477.7,293.2 1477.9,293.7 1478.5,296.5 1478.7,297.0 1479.0,297.1 1479.2,297.1 1479.4,296.8 1479.9,295.6 1480.1,295.3 1480.3,295.4 1481.0,297.1 1481.2,297.3 1481.6,297.4 1503.5,297.4"/>
<path d="M1062.30,234.70 1063.50,237.94 1066.96,238.09 1064.25,240.23 1065.18,243.56 1062.30,241.65 1059.42,243.56 1060.35,240.23 1057.64,238.09 1061.10,237.94Z"/>
<path d="M1221.90,279.70 1223.10,282.94 1226.56,283.09 1223.85,285.23 1224.78,288.56 1221.90,286.65 1219.02,288.56 1219.95,285.23 1217.24,283.09 1220.70,282.94Z"/>
<path d="M1354.80,274.30 1356.00,277.54 1359.46,277.69 1356.75,279.83 1357.68,283.16 1354.80,281.25 1351.92,283.16 1352.85,279.83 1350.14,277.69 1353.60,277.54Z"/>
<path d="M1477.60,281.50 1478.80,284.74 1482.26,284.89 1479.55,287.03 1480.48,290.36 1477.60,288.45 1474.72,290.36 1475.65,287.03 1472.94,284.89 1476.40,284.74Z"/>
<path class="tr" d="M881.0,389.4 930.2,389.3 931.2,389.2 931.7,389.0 932.2,388.4 933.2,387.1 933.6,386.9 934.0,387.1 935.0,388.5 935.7,389.1 936.5,389.3 937.8,389.4 1026.8,389.4 1029.2,389.3 1031.5,388.7 1032.1,388.6 1032.9,388.7 1034.8,389.2 1036.1,389.3 1047.9,389.4 1055.9,389.3 1057.8,389.1 1059.1,388.9 1059.5,388.7 1059.9,388.5 1060.3,387.7 1060.6,386.2 1060.9,383.7 1061.4,372.8 1062.2,346.5 1062.5,341.4 1062.6,340.5 1062.7,340.6 1062.9,341.8 1063.1,346.5 1064.1,372.9 1064.3,378.7 1064.7,384.5 1065.1,387.2 1065.5,388.3 1065.8,388.6 1066.2,388.8 1067.7,389.1 1071.4,389.3 1080.0,389.4 1167.2,389.4 1170.6,389.3 1174.5,388.8 1178.0,389.3 1180.2,389.4 1219.6,389.3 1220.8,389.2 1221.1,389.0 1221.3,388.5 1221.7,387.1 1222.4,383.6 1222.5,383.3 1222.7,383.2 1222.9,383.7 1223.5,385.2 1224.1,386.1 1224.8,388.0 1225.2,388.8 1225.7,389.2 1226.5,389.3 1307.0,389.4 1351.9,389.3 1353.5,389.1 1353.7,389.0 1354.0,388.3 1354.3,386.4 1354.9,379.4 1355.2,378.2 1355.4,379.4 1355.9,384.7 1356.1,386.1 1356.3,386.3 1356.4,386.1 1356.9,384.0 1357.0,383.7 1357.1,383.7 1358.1,388.5 1358.4,389.1 1359.2,389.3 1370.5,389.4 1475.4,389.4 1476.3,389.3 1476.6,389.0 1477.0,388.3 1477.5,386.9 1477.7,386.6 1478.0,386.9 1478.6,388.6 1478.8,389.0 1479.0,389.1 1479.3,388.9 1479.9,388.1 1480.1,388.0 1480.4,388.2 1481.1,389.1 1481.5,389.3 1481.8,389.4 1503.5,389.4"/>
<circle cx="933.3" cy="380.7" r="4.60"/>
<circle cx="1033.5" cy="381.6" r="4.60"/>
<path d="M1062.30,329.70 1063.50,332.94 1066.96,333.09 1064.25,335.23 1065.18,338.56 1062.30,336.65 1059.42,338.56 1060.35,335.23 1057.64,333.09 1061.10,332.94Z"/>
<path d="M1221.90,372.30 1223.10,375.54 1226.56,375.69 1223.85,377.83 1224.78,381.16 1221.90,379.25 1219.02,381.16 1219.95,377.83 1217.24,375.69 1220.70,375.54Z"/>
<path d="M1354.80,367.30 1356.00,370.54 1359.46,370.69 1356.75,372.83 1357.68,376.16 1354.80,374.25 1351.92,376.16 1352.85,372.83 1350.14,370.69 1353.60,370.54Z"/>
<path d="M1477.60,374.40 1478.80,377.64 1482.26,377.79 1479.55,379.93 1480.48,383.26 1477.60,381.35 1474.72,383.26 1475.65,379.93 1472.94,377.79 1476.40,377.64Z"/>
<path class="tr2" style="stroke-width:1.30" d="M881.0,469.4 881.2,469.1 881.5,469.0 881.8,468.3 882.0,469.2 882.2,468.9 882.5,470.4 882.8,467.4 883.0,472.2 883.2,464.3 883.5,468.7 883.7,469.8 884.0,468.2 884.2,467.4 884.5,468.3 884.7,469.3 885.0,470.0 885.2,466.0 885.5,468.4 885.7,467.1 886.0,469.4 886.2,467.2 886.5,468.0 886.7,469.2 887.0,467.2 887.2,467.9 887.5,466.4 887.7,467.0 888.0,464.6 888.2,466.0 888.5,466.4 888.7,466.1 889.0,470.0 889.2,463.7 889.5,463.7 889.7,467.1 890.0,467.6 890.2,466.9 890.5,468.2 890.7,469.4 891.0,465.8 891.2,464.5 891.5,466.0 891.7,467.9 892.0,466.7 892.2,465.8 892.5,466.4 892.7,466.3 893.0,463.4 893.2,466.4 893.5,464.5 893.7,465.3 894.0,464.8 894.2,465.6 894.5,466.7 894.7,465.0 895.0,465.5 895.2,466.4 895.5,465.7 895.7,464.1 896.0,466.0 896.2,464.3 896.5,464.4 896.7,465.0 897.0,466.7 897.2,463.3 897.5,463.9 897.7,464.6 898.0,463.1 898.2,464.4 898.5,465.9 898.7,461.5 899.0,464.0 899.2,462.9 899.5,466.6 899.7,464.5 900.0,464.5 900.2,463.3 900.5,462.0 900.7,463.4 901.0,463.7 901.2,463.2 901.5,465.5 901.7,464.0 902.0,461.6 902.2,462.2 902.5,463.0 902.7,460.8 903.0,462.1 903.2,461.3 903.5,462.3 903.7,462.1 904.0,460.9 904.2,463.4 904.5,460.6 904.7,462.2 905.0,459.6 905.2,459.5 905.5,459.8 905.7,459.9 906.0,461.4 906.2,457.9 906.5,462.0 906.7,457.8 907.0,461.3 907.2,459.2 907.5,457.9 907.7,459.5 908.0,457.3 908.2,457.6 908.5,457.4 908.7,460.9 909.0,455.2 909.2,458.8 909.5,455.4 909.7,454.4 910.0,454.3 910.2,456.3 910.5,453.9 910.7,452.6 911.0,454.2 911.2,453.3 911.5,454.0 911.7,450.5 912.0,453.8 912.2,453.0 912.5,449.9 912.7,450.1 913.0,450.9 913.2,449.6 913.5,450.7 913.7,450.1 914.0,449.0 914.2,447.2 914.5,445.8 914.7,448.8 915.0,446.5 915.2,449.7 915.5,450.5 915.7,448.1 916.0,449.1 916.2,449.6 916.5,449.1 916.7,446.4 917.0,446.6 917.2,447.4 917.5,448.3 917.7,447.2 918.0,448.8 918.2,450.5 918.5,448.4 918.7,449.2 919.0,448.0 919.2,449.4 919.5,451.1 919.7,452.0 920.0,450.7 920.2,449.6 920.5,453.7 920.7,448.3 921.0,450.9 921.2,450.7 921.5,452.0 921.7,453.1 922.0,451.9 922.2,457.8 922.5,455.9 922.7,454.4 923.0,452.7 923.2,451.5 923.5,455.5 923.7,455.2 924.0,454.8 924.2,456.3 924.5,455.0 924.7,452.4 925.0,451.8 925.2,454.0 925.4,454.7 925.5,455.4 925.7,454.9 926.0,454.3 926.2,453.3 926.5,455.1 926.7,455.1 927.0,453.0 927.2,452.1 927.5,452.4 927.7,450.9 928.0,451.8 928.2,448.8 928.5,449.6 928.7,446.4 929.0,446.6 929.2,447.3 929.5,440.2 929.7,439.7 930.0,440.9 930.2,437.0 930.5,434.6 930.7,434.5 931.0,433.5 931.2,432.8 931.4,431.9 931.5,435.3 931.7,437.4 932.0,441.8 932.2,442.7 932.5,442.0 932.7,446.6 933.0,445.7 933.2,450.4 933.5,448.3 933.7,451.8 934.0,451.4 934.2,451.0 934.5,453.5 934.7,451.9 935.0,448.9 935.2,453.0 935.5,451.1 935.7,451.8 936.0,452.7 936.2,453.4 936.5,452.5 936.7,450.7 937.0,451.1 937.2,450.3 937.5,451.5 937.7,450.7 938.0,452.6 938.2,450.4 938.5,452.6 938.7,453.7 939.0,451.6 939.2,450.5 939.5,452.3 939.7,449.2 940.0,450.2 940.2,452.0 940.5,450.7 940.7,449.5 941.0,449.2 941.2,448.7 941.5,451.3 941.7,451.8 942.0,450.9 942.2,448.7 942.5,449.0 942.7,447.1 943.0,446.6 943.2,448.9 943.5,448.8 943.7,445.9 944.0,445.8 944.2,447.8 944.5,445.3 944.7,448.6 945.0,448.7 945.2,445.3 945.5,446.3 945.7,447.9 946.0,447.9 946.2,446.4 946.5,446.2 946.7,445.9 947.0,447.0 947.2,447.0 947.5,445.8 947.7,445.4 948.0,445.9 948.2,445.7 948.5,445.4 948.7,444.2 949.0,446.2 949.2,447.3 949.5,446.3 949.7,447.9 950.0,446.8 950.2,447.4 950.5,447.7 950.7,443.7 951.0,447.7 951.2,448.3 951.5,445.3 951.7,444.5 952.0,445.8 952.2,446.9 952.5,448.0 952.7,445.5 953.0,447.7 953.2,446.5 953.5,448.7 953.7,448.4 954.0,449.0 954.2,448.2 954.5,448.6 954.7,450.7 955.0,448.1 955.2,449.9 955.5,449.4 955.7,450.1 956.0,449.7 956.2,452.7 956.5,452.7 956.7,451.2 957.0,454.7 957.2,452.4 957.5,454.6 957.7,451.2 958.0,452.2 958.2,452.4 958.5,456.5 958.7,455.2 959.0,453.6 959.2,454.8 959.5,454.5 959.7,454.8 960.0,453.9 960.2,456.8 960.5,456.3 960.7,454.9 961.0,456.8 961.2,457.8 961.5,457.1 961.7,456.6 962.0,458.1 962.2,458.5 962.5,460.5 962.7,457.2 963.0,458.7 963.2,458.4 963.5,457.9 963.7,458.9 964.0,457.0 964.2,458.0 964.5,457.4 964.7,459.8 965.0,459.1 965.2,458.5 965.5,459.4 965.7,460.9 966.0,459.7 966.2,456.8 966.5,463.7 966.7,460.3 967.0,462.2 967.2,459.5 967.5,460.6 967.7,461.4 968.0,461.8 968.2,460.8 968.5,464.2 968.7,460.7 969.0,461.3 969.2,464.9 969.5,462.2 969.7,459.8 970.0,463.2 970.2,463.1 970.5,464.3 970.7,465.2 971.0,462.7 971.2,464.2 971.5,462.8 971.7,461.5 972.0,461.7 972.2,461.6 972.5,460.8 972.7,465.2 973.0,462.1 973.2,461.3 973.5,463.1 973.7,461.5 974.0,464.8 974.2,466.1 974.5,464.1 974.7,463.3 975.0,463.0 975.2,464.2 975.5,464.8 975.7,465.0 976.0,463.0 976.2,464.0 976.5,461.7 976.7,464.0 977.0,465.1 977.2,465.3 977.5,462.5 977.7,461.8 978.0,466.7 978.2,463.9 978.5,463.6 978.7,464.4 979.0,463.6 979.2,464.8 979.5,464.8 979.7,463.0 980.0,462.1 980.2,463.3 980.5,459.5 980.7,465.3 981.0,463.2 981.2,462.6 981.5,464.7 981.7,465.0 982.0,463.6 982.2,462.8 982.5,461.7 982.7,462.9 983.0,463.0 983.2,461.9 983.5,463.9 983.7,464.6 984.0,463.7 984.2,467.1 984.5,464.2 984.7,464.9 985.0,469.2 985.2,466.5 985.5,464.3 985.7,464.7 986.0,463.9 986.2,464.5 986.5,463.9 986.7,462.1 987.0,462.2 987.2,465.1 987.5,466.5 987.7,464.4 988.0,462.7 988.2,462.3 988.5,466.1 988.7,466.6 989.0,465.6 989.2,463.9 989.5,463.3 989.7,465.4 990.0,463.6 990.2,462.5 990.5,460.7 990.7,463.0 991.0,463.5 991.2,462.6 991.5,465.8 991.7,462.5 992.0,465.3 992.2,464.0 992.5,463.4 992.7,464.8 993.0,461.9 993.2,465.5 993.5,462.9 993.7,463.0 994.0,464.3 994.2,463.9 994.5,462.3 994.7,464.7 995.0,462.1 995.2,463.5 995.5,462.3 995.7,463.2 996.0,464.3 996.2,463.1 996.5,462.0 996.7,464.8 997.0,464.0 997.2,462.1 997.5,462.5 997.7,462.4 998.0,466.7 998.2,463.4 998.5,465.2 998.7,464.0 999.0,464.2 999.2,463.3 999.5,460.1 999.7,462.7 1000.0,463.3 1000.2,461.9 1000.5,465.2 1000.7,463.0 1001.0,462.8 1001.2,459.7 1001.5,464.2 1001.7,464.3 1002.0,460.7 1002.2,460.9 1002.5,464.1 1002.7,460.8 1003.0,463.0 1003.2,462.2 1003.5,464.5 1003.7,462.5 1004.0,463.2 1004.2,462.1 1004.5,459.8 1004.7,462.3 1005.0,464.4 1005.2,462.1 1005.5,462.8 1005.7,462.3 1006.0,463.3 1006.2,463.1 1006.5,464.0 1006.7,460.9 1007.0,459.8 1007.2,463.8 1007.5,461.7 1007.7,462.4 1008.0,464.5 1008.2,461.6 1008.5,464.8 1008.7,462.3 1009.0,459.5 1009.2,462.3 1009.5,462.5 1009.7,462.5 1010.0,462.1 1010.2,465.7 1010.5,464.3 1010.7,463.6 1011.0,461.7 1011.2,462.3 1011.5,463.0 1011.7,464.5 1012.0,460.3 1012.2,464.2 1012.5,464.2 1012.7,463.0 1013.0,463.1 1013.2,461.7 1013.5,462.2 1013.7,464.3 1014.0,463.5 1014.2,464.3 1014.5,463.7 1014.7,462.1 1015.0,464.0 1015.2,465.1 1015.5,465.2 1015.7,463.6 1016.0,460.6 1016.2,463.9 1016.5,460.4 1016.7,465.2 1017.0,461.9 1017.2,461.4 1017.5,464.5 1017.8,463.8 1018.0,463.2 1018.2,465.2 1018.5,462.7 1018.8,464.0 1019.0,463.8 1019.3,464.0 1019.5,464.0 1019.8,464.0 1020.0,460.7 1020.3,462.8 1020.5,463.6 1020.8,462.2 1021.0,464.6 1021.3,463.0 1021.5,462.1 1021.8,464.4 1022.0,462.4 1022.3,462.8 1022.5,463.3 1022.8,463.1 1023.0,464.2 1023.3,465.1 1023.5,463.1 1023.8,464.5 1024.0,463.6 1024.3,464.0 1024.5,462.9 1024.8,465.0 1025.0,463.8 1025.3,463.9 1025.5,463.6 1025.8,463.3 1026.0,465.2 1026.3,464.3 1026.5,462.7 1026.6,466.1 1026.8,467.0 1027.0,463.8 1027.3,465.9 1027.5,463.9 1027.8,465.0 1028.0,465.9 1028.3,463.5 1028.5,463.3 1028.8,464.0 1029.0,465.2 1029.3,465.5 1029.5,463.7 1029.8,464.7 1030.0,466.9 1030.3,464.6 1030.5,462.1 1030.8,464.5 1031.0,462.0 1031.3,462.7 1031.5,462.7 1031.8,465.0 1032.0,466.3 1032.3,465.4 1032.5,465.2 1032.8,463.0 1033.0,466.2 1033.3,466.3 1033.5,463.3 1033.8,467.8 1034.0,465.8 1034.3,465.8 1034.5,467.0 1034.8,468.8 1035.0,466.2 1035.3,468.1 1035.5,469.1 1035.8,467.0 1036.0,469.2 1036.3,467.6 1036.5,467.1 1036.8,468.0 1037.0,468.5 1037.3,469.8 1037.5,470.4 1037.8,469.4 1038.0,468.5 1038.3,468.6 1038.5,468.3 1038.8,466.1 1039.0,469.3 1039.3,470.9 1039.5,467.6 1039.8,469.3 1040.0,469.2 1040.3,469.0 1040.5,467.7 1040.8,467.3 1041.0,469.5 1041.3,469.8 1041.5,468.5 1041.8,470.7 1042.0,469.4 1042.3,470.2 1042.5,469.5 1042.8,471.7 1043.0,470.4 1043.3,470.1 1043.5,468.3 1043.8,473.1 1044.0,471.6 1044.3,473.0 1044.5,469.1 1044.8,470.5 1045.0,470.5 1045.3,469.9 1045.5,471.1 1045.8,471.0 1046.0,472.4 1046.3,472.2 1046.5,469.5 1046.8,472.4 1047.0,471.0 1047.3,473.3 1047.5,472.7 1047.8,472.6 1048.0,470.4 1048.3,471.7 1048.5,473.5 1048.8,471.6 1049.0,473.1 1049.3,470.0 1049.5,470.7 1049.8,471.9 1050.0,471.3 1050.3,470.7 1050.5,473.0 1050.8,472.0 1051.0,472.7 1051.3,472.2 1051.5,473.8 1051.8,469.8 1052.0,469.6 1052.3,473.0 1052.5,474.2 1052.8,472.8 1053.0,473.3 1053.3,472.4 1053.5,474.1 1053.8,473.5 1054.0,471.9 1054.3,475.1 1054.5,472.2 1054.8,470.7 1055.0,474.6 1055.3,473.0 1055.5,473.4 1055.8,471.3 1056.0,473.7 1056.3,473.2 1056.5,473.1 1056.8,475.4 1057.0,473.6 1057.3,474.8 1057.5,472.7 1057.8,473.6 1058.0,472.7 1058.3,474.5 1058.5,474.8 1058.8,474.3 1059.0,473.5 1059.3,471.7 1059.5,473.3 1059.8,476.2 1060.0,474.2 1060.3,474.7 1060.5,476.3 1060.8,473.6 1061.0,473.7 1061.3,474.3 1061.5,475.4 1061.8,476.1 1062.0,474.8 1062.3,473.5 1062.5,474.5 1062.8,474.6 1063.0,476.2 1063.3,472.7 1063.5,474.9 1063.8,474.6 1064.0,475.3 1064.3,474.4 1064.5,475.8 1064.8,474.5 1065.0,474.6 1065.3,477.8 1065.5,473.4 1065.8,477.2 1066.0,475.1 1066.3,474.0 1066.5,476.1 1066.8,474.0 1067.0,474.5 1067.3,473.8 1067.5,475.8 1067.8,473.0 1068.0,474.1 1068.3,473.5 1068.5,475.8 1068.8,476.2 1069.0,476.1 1069.3,473.9 1069.5,474.2 1069.8,473.1 1070.0,475.1 1070.3,473.7 1070.5,474.8 1070.8,473.0 1071.0,474.9 1071.3,477.4 1071.5,474.5 1071.8,474.9 1072.0,473.5 1072.3,473.6 1072.5,474.7 1072.8,472.8 1073.0,473.5 1073.3,475.5 1073.5,471.6 1073.8,475.0 1074.0,472.5 1074.3,473.9 1074.5,475.1 1074.8,473.7 1075.0,476.0 1075.3,473.3 1075.5,475.1 1075.8,478.7 1076.0,475.2 1076.3,474.0 1076.5,475.7 1076.8,475.6 1077.0,473.8 1077.3,475.0 1077.5,474.3 1077.8,474.5 1078.0,474.8 1078.3,472.5 1078.5,474.8 1078.8,474.7 1079.0,476.8 1079.3,474.8 1079.5,473.5 1079.8,475.8 1080.0,476.8 1080.3,477.1 1080.5,472.6 1080.8,477.6 1081.0,474.6 1081.3,473.4 1081.5,476.6 1081.8,475.3 1082.0,473.4 1082.3,475.4 1082.5,474.4 1082.8,474.8 1083.0,472.7 1083.3,474.9 1083.5,475.5 1083.8,474.6 1084.0,474.3 1084.3,473.8 1084.5,477.6 1084.8,474.7 1085.0,473.5 1085.3,473.8 1085.5,475.2 1085.8,474.7 1086.0,473.0 1086.3,474.1 1086.5,474.1 1086.8,475.7 1087.0,474.3 1087.3,473.4 1087.5,471.0 1087.8,475.0 1088.0,474.4 1088.3,472.6 1088.5,474.1 1088.8,473.7 1089.0,475.0 1089.3,474.9 1089.5,475.9 1089.8,473.7 1090.0,473.2 1090.3,475.2 1090.5,473.7 1090.8,472.7 1091.0,471.5 1091.3,473.8 1091.5,475.7 1091.8,474.3 1092.0,475.0 1092.3,475.3 1092.5,476.7 1092.8,474.1 1093.0,475.4 1093.3,474.5 1093.5,474.3 1093.8,474.0 1094.0,475.2 1094.3,473.9 1094.5,474.9 1094.8,474.1 1095.0,473.3 1095.3,474.0 1095.5,473.7 1095.8,474.7 1096.0,473.8 1096.3,474.4 1096.5,473.5 1096.8,472.6 1097.0,475.0 1097.3,475.6 1097.5,475.1 1097.8,473.2 1098.0,473.1 1098.3,474.0 1098.5,472.5 1098.8,476.3 1099.0,474.7 1099.3,474.8 1099.5,473.9 1099.8,474.9 1100.0,475.6 1100.3,473.0 1100.5,472.9 1100.8,474.6 1101.0,475.4 1101.3,473.0 1101.5,475.3 1101.8,475.2 1102.0,473.2 1102.3,476.9 1102.5,473.8 1102.8,474.2 1103.0,475.3 1103.3,474.3 1103.5,474.3 1103.8,473.3 1104.0,473.5 1104.3,473.8 1104.5,471.5 1104.8,475.9 1105.0,473.3 1105.3,474.2 1105.5,472.5 1105.8,474.5 1106.0,473.4 1106.3,476.1 1106.5,471.9 1106.8,473.5 1107.0,471.0 1107.3,474.1 1107.5,475.7 1107.8,473.6 1108.0,474.2 1108.3,475.4 1108.5,474.5 1108.8,473.3 1109.0,471.8 1109.3,473.9 1109.5,473.3 1109.8,473.9 1110.0,471.3 1110.3,472.5 1110.5,476.0 1110.8,472.7 1111.0,472.9 1111.3,474.2 1111.5,472.8 1111.8,470.1 1112.0,473.6 1112.3,473.8 1112.5,472.4 1112.8,473.6 1113.0,472.1 1113.3,473.3 1113.5,472.8 1113.8,473.6 1114.0,474.1 1114.3,472.3 1114.5,475.2 1114.8,472.2 1115.0,472.9 1115.3,471.9 1115.5,472.5 1115.8,475.5 1116.0,472.6 1116.3,472.9 1116.5,472.7 1116.8,472.3 1117.0,473.0 1117.3,470.4 1117.5,473.0 1117.8,470.9 1118.0,473.2 1118.3,472.9 1118.5,472.3 1118.8,471.9 1119.0,473.9 1119.3,471.8 1119.5,468.5 1119.8,471.0 1120.0,472.0 1120.3,471.0 1120.5,472.8 1120.8,473.4 1121.0,470.6 1121.3,470.1 1121.5,471.8 1121.8,471.4 1122.0,469.4 1122.3,472.9 1122.5,470.7 1122.8,471.6 1123.0,467.9 1123.3,472.0 1123.5,470.8 1123.8,472.9 1124.0,470.9 1124.3,473.5 1124.5,469.4 1124.8,472.5 1125.0,469.1 1125.3,470.4 1125.5,465.3 1125.8,469.9 1126.0,470.2 1126.3,469.1 1126.5,469.8 1126.8,471.6 1127.0,469.0 1127.3,468.5 1127.5,471.5 1127.8,469.4 1128.0,470.4 1128.3,472.1 1128.5,469.7 1128.8,468.1 1129.0,468.6 1129.3,468.5 1129.5,469.3 1129.8,471.5 1130.0,470.3 1130.3,469.3 1130.5,471.3 1130.8,471.1 1131.0,468.1 1131.3,469.1 1131.5,468.5 1131.8,467.3 1132.0,466.5 1132.3,466.8 1132.5,468.3 1132.8,468.0 1133.0,470.5 1133.3,468.3 1133.5,469.9 1133.8,468.3 1134.0,466.4 1134.3,467.3 1134.5,467.2 1134.8,465.9 1135.0,466.8 1135.3,467.1 1135.5,466.5 1135.8,465.6 1136.0,466.8 1136.3,466.2 1136.5,466.6 1136.8,467.8 1137.0,465.1 1137.3,465.2 1137.5,470.2 1137.8,465.4 1138.0,465.4 1138.3,465.0 1138.5,466.7 1138.8,465.9 1139.0,466.5 1139.3,466.1 1139.5,465.9 1139.8,465.0 1140.0,464.2 1140.3,464.4 1140.5,466.2 1140.8,468.1 1141.0,464.2 1141.3,464.8 1141.5,467.0 1141.8,467.5 1142.0,464.3 1142.3,462.3 1142.5,465.0 1142.8,465.1 1143.0,466.7 1143.3,464.5 1143.5,466.7 1143.8,463.4 1144.0,467.2 1144.3,465.3 1144.5,465.3 1144.8,464.9 1145.0,466.0 1145.3,465.2 1145.5,464.7 1145.8,464.5 1146.0,464.8 1146.3,463.8 1146.5,462.0 1146.8,465.9 1147.0,464.2 1147.3,463.4 1147.5,466.0 1147.8,464.5 1148.0,464.8 1148.3,462.8 1148.5,466.2 1148.8,464.7 1149.0,465.9 1149.3,463.5 1149.5,467.0 1149.8,464.2 1150.0,466.0 1150.3,465.1 1150.5,465.9 1150.8,467.4 1151.0,462.9 1151.3,465.8 1151.5,463.6 1151.8,464.6 1152.0,467.1 1152.3,464.4 1152.5,465.1 1152.8,464.4 1153.0,463.0 1153.3,464.9 1153.5,464.5 1153.8,468.4 1154.0,464.8 1154.3,464.9 1154.5,464.8 1154.8,466.3 1155.0,468.4 1155.3,465.6 1155.5,466.3 1155.8,465.3 1156.0,468.3 1156.3,466.9 1156.5,463.0 1156.8,467.4 1157.0,464.3 1157.3,463.7 1157.5,464.2 1157.8,462.3 1158.0,464.2 1158.3,465.5 1158.5,465.9 1158.8,465.6 1159.0,463.8 1159.3,466.7 1159.5,464.5 1159.8,464.7 1160.0,464.9 1160.3,464.5 1160.5,465.6 1160.8,465.8 1161.0,465.2 1161.3,464.2 1161.5,462.4 1161.8,467.3 1162.0,465.9 1162.3,463.5 1162.5,464.5 1162.8,469.0 1163.0,465.8 1163.3,464.3 1163.5,464.1 1163.8,463.5 1164.0,464.7 1164.3,464.4 1164.5,465.1 1164.8,466.1 1165.0,464.3 1165.3,465.3 1165.5,465.3 1165.8,462.0 1166.0,468.3 1166.3,463.4 1166.5,464.0 1166.8,464.8 1167.0,464.5 1167.3,464.5 1167.5,464.3 1167.8,462.9 1168.0,464.0 1168.3,464.3 1168.5,463.0 1168.8,461.3 1169.0,466.6 1169.3,465.2 1169.5,464.6 1169.8,465.7 1170.0,465.2 1170.3,464.5 1170.5,465.7 1170.8,465.1 1171.0,465.7 1171.3,465.1 1171.5,466.3 1171.8,466.9 1172.0,468.1 1172.3,465.0 1172.5,462.9 1172.8,465.0 1173.0,466.2 1173.3,466.7 1173.5,467.6 1173.8,465.9 1174.0,466.6 1174.3,465.0 1174.5,466.8 1174.8,465.7 1175.0,467.5 1175.3,466.3 1175.5,464.2 1175.8,466.0 1176.0,467.6 1176.3,469.6 1176.5,465.0 1176.8,465.7 1177.0,467.1 1177.3,466.8 1177.5,467.7 1177.8,466.9 1178.0,466.0 1178.3,464.3 1178.5,465.8 1178.8,468.4 1179.0,467.2 1179.3,467.3 1179.5,467.1 1179.8,465.3 1180.0,466.8 1180.3,466.3 1180.5,467.2 1180.8,464.3 1181.0,468.1 1181.3,467.2 1181.5,465.4 1181.8,468.0 1182.0,467.6 1182.3,464.1 1182.5,466.5 1182.8,465.2 1183.0,466.4 1183.3,467.6 1183.5,466.9 1183.8,466.9 1184.0,466.8 1184.3,466.0 1184.5,467.7 1184.8,465.0 1185.0,466.9 1185.3,466.8 1185.5,466.4 1185.8,466.9 1186.0,466.6 1186.3,465.1 1186.5,467.2 1186.8,466.0 1187.0,465.9 1187.3,466.3 1187.5,470.3 1187.8,465.1 1188.0,465.2 1188.3,467.5 1188.5,464.3 1188.8,461.9 1189.0,462.9 1189.3,464.5 1189.5,466.7 1189.8,465.8 1190.0,468.1 1190.3,466.2 1190.5,467.2 1190.8,466.9 1191.0,461.4 1191.3,464.2 1191.5,464.8 1191.8,465.4 1192.0,466.6 1192.3,467.9 1192.5,467.2 1192.8,467.0 1193.0,467.5 1193.3,464.7 1193.5,465.5 1193.8,467.9 1194.0,462.9 1194.3,467.6 1194.5,467.0 1194.8,465.8 1195.0,466.6 1195.3,464.4 1195.5,465.5 1195.8,465.5 1196.0,467.6 1196.3,463.6 1196.5,464.4 1196.8,466.0 1197.0,466.9 1197.3,463.1 1197.5,465.2 1197.8,463.6 1198.0,461.9 1198.3,463.9 1198.5,463.7 1198.8,464.9 1199.0,465.9 1199.3,466.4 1199.5,465.0 1199.8,467.1 1200.0,464.0 1200.3,467.5 1200.5,467.0 1200.8,465.8 1201.0,466.9 1201.3,466.2 1201.5,466.9 1201.8,465.6 1202.0,464.4 1202.3,466.3 1202.5,463.6 1202.8,465.4 1203.0,468.2 1203.3,462.6 1203.5,467.0 1203.8,466.5 1204.0,465.8 1204.3,466.2 1204.5,466.2 1204.8,466.5 1205.0,466.3 1205.3,468.4 1205.5,469.4 1205.8,464.4 1206.0,466.4 1206.3,468.9 1206.5,467.4 1206.8,469.7 1207.0,468.3 1207.3,466.8 1207.5,468.4 1207.8,467.4 1208.0,468.3 1208.3,466.2 1208.5,467.2 1208.8,469.0 1209.0,466.6 1209.3,466.7 1209.5,471.2 1209.8,470.7 1210.0,468.1 1210.3,469.6 1210.5,468.3 1210.8,469.6 1211.0,467.3 1211.3,470.6 1211.5,469.9 1211.8,467.0 1212.0,466.3 1212.3,474.0 1212.5,467.6 1212.8,470.8 1213.0,469.8 1213.3,471.5 1213.5,469.3 1213.8,470.3 1214.0,468.6 1214.3,469.5 1214.5,470.6 1214.8,473.1 1215.0,469.7 1215.3,469.7 1215.5,471.8 1215.8,471.8 1216.0,469.9 1216.3,471.2 1216.5,472.0 1216.8,471.9 1217.0,473.4 1217.3,469.6 1217.5,469.7 1217.8,469.3 1218.0,471.6 1218.3,469.4 1218.5,472.8 1218.8,470.7 1219.0,470.1 1219.3,472.9 1219.5,471.1 1219.8,473.7 1220.0,471.6 1220.3,474.9 1220.5,473.5 1220.8,474.5 1221.0,472.6 1221.3,473.2 1221.5,471.1 1221.8,472.7 1222.0,472.6 1222.3,470.8 1222.5,471.7 1222.8,475.3 1223.0,471.0 1223.3,470.2 1223.5,473.5 1223.8,471.6 1224.0,473.1 1224.3,472.2 1224.5,473.0 1224.8,471.1 1225.0,473.3 1225.3,473.4 1225.5,473.5 1225.8,469.6 1226.0,470.8 1226.3,477.5 1226.5,471.3 1226.8,472.2 1227.0,471.2 1227.3,473.5 1227.5,471.6 1227.8,472.0 1228.0,473.1 1228.3,473.6 1228.5,472.4 1228.8,475.1 1229.0,471.3 1229.3,473.7 1229.5,472.4 1229.8,472.6 1230.0,473.2 1230.3,473.3 1230.5,473.8 1230.8,474.9 1231.0,473.9 1231.3,475.2 1231.5,478.5 1231.8,472.5 1232.0,474.5 1232.3,475.4 1232.5,473.0 1232.8,474.8 1233.0,474.8 1233.3,475.1 1233.5,474.9 1233.8,474.5 1234.0,475.3 1234.3,474.0 1234.5,476.7 1234.8,474.9 1235.0,472.2 1235.3,474.3 1235.5,475.0 1235.8,473.5 1236.0,474.6 1236.3,476.5 1236.5,473.9 1236.8,471.6 1237.0,475.3 1237.3,474.7 1237.5,474.8 1237.8,470.9 1238.0,473.9 1238.3,473.9 1238.5,476.1 1238.8,475.2 1239.0,476.1 1239.3,474.6 1239.5,474.7 1239.8,477.9 1240.0,475.4 1240.3,475.7 1240.5,474.3 1240.8,475.9 1241.0,473.7 1241.3,475.4 1241.5,475.1 1241.8,476.0 1242.0,476.5 1242.3,476.4 1242.5,476.0 1242.8,473.6 1243.0,474.5 1243.3,475.2 1243.5,475.9 1243.8,474.4 1244.0,476.6 1244.3,473.6 1244.5,477.4 1244.8,476.2 1245.0,475.0 1245.3,476.9 1245.5,474.3 1245.8,474.0 1246.0,475.0 1246.3,477.5 1246.5,475.1 1246.8,475.5 1247.0,473.8 1247.3,474.2 1247.5,475.3 1247.8,473.9 1248.0,476.8 1248.3,475.5 1248.5,474.8 1248.8,475.8 1249.0,476.1 1249.3,475.9 1249.5,473.3 1249.8,474.8 1250.0,475.8 1250.3,477.1 1250.5,474.9 1250.8,476.5 1251.0,474.9 1251.3,473.5 1251.5,476.1 1251.8,475.2 1252.0,475.9 1252.3,475.4 1252.5,475.5 1252.8,475.1 1253.0,474.3 1253.3,475.3 1253.5,475.0 1253.8,476.1 1254.0,477.1 1254.3,477.9 1254.5,475.6 1254.8,476.3 1255.0,476.8 1255.3,472.7 1255.5,474.5 1255.8,475.0 1256.0,475.2 1256.3,476.7 1256.5,475.7 1256.8,476.3 1257.0,476.9 1257.3,475.7 1257.5,473.5 1257.8,473.2 1258.0,477.6 1258.3,478.4 1258.5,476.8 1258.8,476.8 1259.0,475.8 1259.3,476.0 1259.5,476.9 1259.8,475.7 1260.0,476.7 1260.3,476.2 1260.5,476.5 1260.8,476.5 1261.0,473.6 1261.3,474.2 1261.5,475.1 1261.8,474.6 1262.0,475.4 1262.3,478.5 1262.5,473.9 1262.8,475.8 1263.0,477.8 1263.3,474.7 1263.5,474.2 1263.8,477.1 1264.0,476.0 1264.3,475.0 1264.5,478.4 1264.8,471.7 1265.0,476.2 1265.3,476.1 1265.5,477.6 1265.8,476.7 1266.0,477.7 1266.3,475.2 1266.5,475.6 1266.8,479.7 1267.0,476.2 1267.3,476.2 1267.5,477.4 1267.8,477.4 1268.0,476.8 1268.3,477.0 1268.5,475.5 1268.8,476.0 1269.0,475.1 1269.3,475.5 1269.5,473.9 1269.8,475.8 1270.0,480.1 1270.3,476.8 1270.5,477.0 1270.8,478.3 1271.0,478.5 1271.3,480.3 1271.5,475.3 1271.8,477.8 1272.0,475.3 1272.3,476.9 1272.5,475.4 1272.8,474.1 1273.0,476.7 1273.3,477.0 1273.5,475.1 1273.8,475.0 1274.0,475.3 1274.3,475.6 1274.5,477.4 1274.8,476.0 1275.0,476.7 1275.3,479.9 1275.5,478.7 1275.8,477.2 1276.0,478.2 1276.3,476.7 1276.5,477.3 1276.8,475.6 1277.0,474.4 1277.3,476.3 1277.5,475.5 1277.8,478.7 1278.0,477.7 1278.3,472.8 1278.5,478.3 1278.8,478.3 1279.0,476.1 1279.3,478.4 1279.5,479.7 1279.8,477.3 1280.0,476.0 1280.3,477.1 1280.5,477.6 1280.8,477.2 1281.0,475.7 1281.3,477.3 1281.5,476.4 1281.8,477.0 1282.0,475.2 1282.3,475.7 1282.5,477.4 1282.8,477.9 1283.0,475.0 1283.3,478.4 1283.5,476.7 1283.8,477.5 1284.0,476.1 1284.3,479.2 1284.5,477.6 1284.8,478.9 1285.0,476.2 1285.3,476.9 1285.5,476.2 1285.8,474.5 1286.0,477.4 1286.3,473.8 1286.5,476.3 1286.8,477.4 1287.0,478.4 1287.3,476.3 1287.5,475.7 1287.8,478.0 1288.0,476.2 1288.3,476.8 1288.5,475.4 1288.8,479.2 1289.0,477.6 1289.3,478.6 1289.5,477.7 1289.8,477.9 1290.0,476.5 1290.3,477.9 1290.5,475.1 1290.8,477.1 1291.0,476.4 1291.3,476.1 1291.5,477.2 1291.8,476.3 1292.0,477.7 1292.3,474.1 1292.5,476.4 1292.8,475.8 1293.0,477.0 1293.3,479.4 1293.5,476.6 1293.8,474.1 1294.0,476.3 1294.3,475.6 1294.5,476.1 1294.8,476.1 1295.0,476.7 1295.3,478.0 1295.5,476.8 1295.8,476.7 1296.0,475.0 1296.3,478.7 1296.5,476.3 1296.8,477.1 1297.0,477.0 1297.3,476.1 1297.5,477.3 1297.8,476.3 1298.0,479.3 1298.3,476.0 1298.5,476.1 1298.8,476.0 1299.0,476.0 1299.3,476.8 1299.5,475.8 1299.8,477.9 1300.0,474.7 1300.3,476.6 1300.5,477.0 1300.8,475.6 1301.0,476.1 1301.3,476.5 1301.5,476.0 1301.8,474.6 1302.0,476.7 1302.3,475.0 1302.5,475.9 1302.8,477.7 1303.0,480.4 1303.3,476.4 1303.5,479.3 1303.8,477.0 1304.0,478.0 1304.3,478.5 1304.5,476.6 1304.8,476.7 1305.0,477.8 1305.3,477.6 1305.5,477.0 1305.8,476.8 1306.0,478.0 1306.3,473.6 1306.5,474.0 1306.8,478.0 1307.0,476.9 1307.3,477.2 1307.5,476.6 1307.8,477.3 1308.0,476.7 1308.3,477.6 1308.5,478.2 1308.8,477.0 1309.0,479.2 1309.3,476.8 1309.5,476.4 1309.8,479.7 1310.0,476.6 1310.3,476.8 1310.5,479.1 1310.8,476.1 1311.0,477.6 1311.3,478.2 1311.5,473.8 1311.8,475.6 1312.0,478.2 1312.3,478.5 1312.5,475.0 1312.8,477.2 1313.0,478.8 1313.3,476.7 1313.5,477.7 1313.8,475.8 1314.0,477.4 1314.3,476.3 1314.5,476.6 1314.8,478.1 1315.0,476.8 1315.3,477.2 1315.5,476.3 1315.8,474.8 1316.0,476.8 1316.3,475.0 1316.5,478.0 1316.8,476.2 1317.0,477.7 1317.3,475.4 1317.5,477.2 1317.8,477.6 1318.0,476.5 1318.3,475.2 1318.5,473.5 1318.8,475.8 1319.0,475.9 1319.3,475.9 1319.5,476.7 1319.8,476.8 1320.0,478.1 1320.3,479.7 1320.5,477.7 1320.8,479.5 1321.0,476.6 1321.3,479.3 1321.5,476.6 1321.8,477.1 1322.0,478.5 1322.3,475.3 1322.5,476.3 1322.8,476.0 1323.0,476.5 1323.3,475.1 1323.5,477.9 1323.8,476.0 1324.0,476.7 1324.3,477.3 1324.5,477.0 1324.8,477.3 1325.0,476.7 1325.3,477.2 1325.5,477.9 1325.8,475.4 1326.0,476.3 1326.3,479.0 1326.5,474.6 1326.8,475.4 1327.0,477.2 1327.3,477.3 1327.5,477.7 1327.8,475.1 1328.0,480.3 1328.3,476.4 1328.5,477.2 1328.8,476.5 1329.0,476.2 1329.3,475.7 1329.5,476.2 1329.8,477.1 1330.0,476.1 1330.3,475.0 1330.5,476.0 1330.8,476.4 1331.0,476.4 1331.3,477.0 1331.5,477.8 1331.8,478.8 1332.0,477.2 1332.3,476.1 1332.5,477.9 1332.8,474.8 1333.0,477.1 1333.3,479.3 1333.5,478.4 1333.8,477.9 1334.0,476.2 1334.3,475.8 1334.5,476.5 1334.8,476.4 1335.0,476.6 1335.3,477.3 1335.5,480.1 1335.8,477.6 1336.0,477.4 1336.3,478.2 1336.5,477.7 1336.8,477.3 1337.0,476.2 1337.3,477.1 1337.5,478.7 1337.8,475.9 1338.0,476.4 1338.3,477.9 1338.5,476.6 1338.8,478.3 1339.0,475.6 1339.3,476.1 1339.5,476.3 1339.8,479.9 1340.0,476.9 1340.3,477.5 1340.5,479.0 1340.8,476.4 1341.0,478.8 1341.3,476.2 1341.5,477.0 1341.8,476.2 1342.0,477.6 1342.3,479.1 1342.5,476.8 1342.8,476.0 1343.0,478.0 1343.3,477.0 1343.5,479.1 1343.8,477.6 1344.0,478.3 1344.3,475.7 1344.5,477.8 1344.8,477.2 1345.0,476.7 1345.3,476.6 1345.5,478.4 1345.8,475.5 1346.0,477.8 1346.3,479.7 1346.5,478.5 1346.8,476.0 1347.0,479.1 1347.3,475.6 1347.5,477.1 1347.8,478.1 1348.0,477.7 1348.3,477.7 1348.5,474.1 1348.8,478.5 1349.0,476.7 1349.3,477.9 1349.5,478.1 1349.8,477.6 1350.0,477.7 1350.3,479.1 1350.5,476.3 1350.8,479.8 1351.0,477.9 1351.3,476.5 1351.5,477.7 1351.8,476.5 1352.0,476.1 1352.3,478.7 1352.5,479.2 1352.8,477.5 1353.0,478.0 1353.3,475.6 1353.5,477.6 1353.8,474.6 1354.0,478.9 1354.3,480.1 1354.5,478.1 1354.8,475.9 1355.0,477.7 1355.3,476.4 1355.5,477.2 1355.8,476.1 1356.0,477.8 1356.3,475.8 1356.5,477.2 1356.8,478.9 1357.0,477.7 1357.3,476.7 1357.5,478.2 1357.8,477.7 1358.0,477.3 1358.3,477.2 1358.5,478.5 1358.8,477.3 1359.0,478.4 1359.3,476.0 1359.5,478.5 1359.8,475.2 1360.0,477.8 1360.3,478.1 1360.5,474.4 1360.8,478.3 1361.0,474.1 1361.3,476.7 1361.5,477.9 1361.8,477.3 1362.0,475.7 1362.3,478.2 1362.5,476.2 1362.8,476.8 1363.0,475.3 1363.3,477.0 1363.5,476.1 1363.8,479.8 1364.0,477.6 1364.3,476.4 1364.5,478.4 1364.8,479.6 1365.0,477.7 1365.3,477.0 1365.5,477.4 1365.8,477.9 1366.0,478.9 1366.3,479.3 1366.5,479.8 1366.8,475.1 1367.0,478.1 1367.3,476.8 1367.5,476.5 1367.8,477.4 1368.0,478.0 1368.3,478.5 1368.5,476.2 1368.8,474.9 1369.0,477.3 1369.3,479.2 1369.5,478.0 1369.8,478.8 1370.0,478.0 1370.3,477.4 1370.5,477.2 1370.8,477.3 1371.0,478.6 1371.3,477.1 1371.5,478.8 1371.8,477.0 1372.0,476.8 1372.3,477.2 1372.5,477.7 1372.8,478.1 1373.0,480.1 1373.3,479.5 1373.5,477.8 1373.8,476.4 1374.0,475.7 1374.3,475.2 1374.5,479.3 1374.8,475.7 1375.0,477.2 1375.3,479.1 1375.5,476.3 1375.8,475.7 1376.0,475.2 1376.3,477.4 1376.5,476.0 1376.8,478.2 1377.0,475.9 1377.3,475.5 1377.5,478.9 1377.8,474.9 1378.0,474.9 1378.3,480.2 1378.5,475.4 1378.8,478.8 1379.0,477.6 1379.3,476.0 1379.5,478.4 1379.8,476.6 1380.0,476.2 1380.3,477.2 1380.5,475.1 1380.8,477.5 1381.0,475.7 1381.3,476.9 1381.5,477.9 1381.8,475.2 1382.0,477.0 1382.3,477.6 1382.5,478.1 1382.8,478.7 1383.0,478.0 1383.3,475.3 1383.5,476.1 1383.8,474.7 1384.0,476.7 1384.3,478.4 1384.5,477.5 1384.8,477.5 1385.0,476.5 1385.3,476.8 1385.5,478.2 1385.8,480.1 1386.0,477.2 1386.3,478.3 1386.5,478.4 1386.8,477.3 1387.0,478.3 1387.3,477.2 1387.5,476.8 1387.8,478.2 1388.0,476.8 1388.3,477.9 1388.5,478.2 1388.8,477.9 1389.0,479.6 1389.3,478.8 1389.5,476.1 1389.8,476.4 1390.0,478.3 1390.3,476.6 1390.5,479.5 1390.8,476.7 1391.0,474.2 1391.3,478.9 1391.5,478.6 1391.8,477.2 1392.0,477.6 1392.3,475.6 1392.5,476.4 1392.8,478.5 1393.0,475.3 1393.3,478.1 1393.5,478.3 1393.8,477.8 1394.0,478.4 1394.3,480.0 1394.5,477.8 1394.8,476.6 1395.0,476.1 1395.3,478.0 1395.5,479.4 1395.8,476.6 1396.0,474.2 1396.3,477.2 1396.5,474.9 1396.8,476.0 1397.0,477.8 1397.3,480.2 1397.5,479.3 1397.8,476.1 1398.0,479.0 1398.3,476.9 1398.5,475.8 1398.8,479.5 1399.0,478.7 1399.3,476.3 1399.5,478.8 1399.8,479.4 1400.0,477.1 1400.3,479.3 1400.5,476.6 1400.8,477.5 1401.0,476.2 1401.3,476.6 1401.5,477.0 1401.8,477.8 1402.0,478.1 1402.3,479.9 1402.5,478.3 1402.8,477.1 1403.0,474.6 1403.3,476.7 1403.5,478.0 1403.8,476.2 1404.0,477.6 1404.3,477.0 1404.5,477.1 1404.8,479.3 1405.0,479.5 1405.3,478.0 1405.5,475.9 1405.8,476.0 1406.0,476.4 1406.3,476.7 1406.5,477.8 1406.8,478.4 1407.0,477.7 1407.3,477.8 1407.5,477.5 1407.8,476.6 1408.0,477.3 1408.3,479.1 1408.5,476.8 1408.8,476.8 1409.0,476.7 1409.3,478.9 1409.5,477.0 1409.8,475.9 1410.0,477.6 1410.3,476.6 1410.5,478.6 1410.8,477.8 1411.0,476.2 1411.3,477.6 1411.5,481.4 1411.8,479.3 1412.0,477.3 1412.3,479.3 1412.5,477.7 1412.8,477.2 1413.0,477.8 1413.3,476.0 1413.5,475.8 1413.8,476.8 1414.0,477.2 1414.3,478.9 1414.5,477.8 1414.8,475.2 1415.0,478.2 1415.3,479.1 1415.5,478.3 1415.8,478.1 1416.0,477.8 1416.3,479.5 1416.5,479.0 1416.8,477.9 1417.0,477.1 1417.3,479.9 1417.5,477.1 1417.8,476.8 1418.0,479.5 1418.3,477.3 1418.5,477.6 1418.8,478.5 1419.0,478.5 1419.3,478.1 1419.5,477.9 1419.8,480.0 1420.0,477.2 1420.3,477.4 1420.5,478.2 1420.8,478.8 1421.0,480.0 1421.3,477.8 1421.5,476.4 1421.8,478.9 1422.0,478.1 1422.3,476.6 1422.5,476.3 1422.8,476.7 1423.0,478.7 1423.3,478.2 1423.5,478.4 1423.8,477.4 1424.0,476.1 1424.3,478.9 1424.5,477.4 1424.8,476.3 1425.0,476.9 1425.3,478.6 1425.5,479.1 1425.8,479.7 1426.0,479.1 1426.3,476.7 1426.5,479.1 1426.8,475.6 1427.0,476.7 1427.3,476.1 1427.5,479.0 1427.8,477.9 1428.0,479.8 1428.3,475.6 1428.5,477.8 1428.8,478.1 1429.0,479.5 1429.3,477.9 1429.5,477.8 1429.8,477.3 1430.0,480.8 1430.3,478.4 1430.5,476.5 1430.8,475.9 1431.0,475.7 1431.3,477.9 1431.5,476.8 1431.8,477.4 1432.0,475.7 1432.3,477.4 1432.5,477.3 1432.8,478.9 1433.0,475.2 1433.2,478.6 1433.5,476.4 1433.8,477.7 1434.0,477.7 1434.2,477.5 1434.5,479.8 1434.8,479.9 1435.0,477.8 1435.2,477.9 1435.5,476.3 1435.7,479.0 1436.0,479.0 1436.2,479.1 1436.5,480.7 1436.7,477.3 1437.0,480.2 1437.2,478.3 1437.5,477.0 1437.7,478.4 1438.0,480.7 1438.2,481.4 1438.5,477.0 1438.7,476.4 1439.0,478.3 1439.2,476.9 1439.5,479.1 1439.7,477.0 1440.0,477.5 1440.2,480.6 1440.5,477.3 1440.7,477.8 1441.0,478.6 1441.2,478.9 1441.5,476.8 1441.7,481.6 1442.0,475.6 1442.2,475.7 1442.5,479.2 1442.7,476.6 1443.0,477.5 1443.2,475.4 1443.5,476.8 1443.7,476.9 1444.0,474.0 1444.2,477.4 1444.5,479.0 1444.7,476.6 1445.0,476.5 1445.2,478.0 1445.5,477.8 1445.7,477.1 1446.0,476.7 1446.2,478.6 1446.5,480.8 1446.7,478.2 1447.0,477.8 1447.2,478.2 1447.5,477.9 1447.7,478.9 1448.0,477.3 1448.2,477.7 1448.5,479.2 1448.7,475.7 1449.0,476.0 1449.2,479.4 1449.5,478.5 1449.7,476.4 1450.0,477.5 1450.2,478.0 1450.5,475.9 1450.7,476.8 1451.0,479.5 1451.2,476.5 1451.5,476.5 1451.7,476.8 1452.0,477.6 1452.2,476.9 1452.5,479.0 1452.7,478.0 1453.0,477.4 1453.2,477.3 1453.5,478.5 1453.7,478.0 1454.0,477.8 1454.2,479.0 1454.5,478.8 1454.7,476.9 1455.0,477.8 1455.2,476.6 1455.5,478.4 1455.7,477.9 1456.0,477.9 1456.2,477.2 1456.5,479.0 1456.7,476.2 1457.0,478.2 1457.2,477.6 1457.5,479.3 1457.7,475.8 1458.0,476.3 1458.2,478.5 1458.5,475.9 1458.7,479.7 1459.0,478.7 1459.2,479.8 1459.5,477.4 1459.7,476.6 1460.0,477.9 1460.2,479.4 1460.5,479.7 1460.7,479.1 1461.0,477.5 1461.2,476.4 1461.5,481.4 1461.7,477.6 1462.0,475.4 1462.2,477.3 1462.5,475.7 1462.7,478.3 1463.0,477.9 1463.2,476.9 1463.5,473.7 1463.7,475.7 1464.0,476.4 1464.2,479.3 1464.5,477.9 1464.7,478.7 1465.0,480.7 1465.2,478.8 1465.5,477.0 1465.7,477.2 1466.0,478.9 1466.2,477.8 1466.5,476.7 1466.7,479.8 1467.0,478.5 1467.2,477.3 1467.5,478.8 1467.7,478.1 1468.0,476.4 1468.2,478.0 1468.5,475.8 1468.7,476.8 1469.0,478.8 1469.2,477.7 1469.5,478.0 1469.7,479.2 1470.0,477.6 1470.2,478.3 1470.5,478.7 1470.7,476.9 1471.0,479.5 1471.2,477.9 1471.5,478.2 1471.7,478.4 1472.0,477.8 1472.2,476.8 1472.5,479.3 1472.7,478.3 1473.0,478.1 1473.2,478.5 1473.5,479.1 1473.7,476.2 1474.0,478.8 1474.2,477.9 1474.5,477.1 1474.7,477.8 1475.0,475.5 1475.2,477.7 1475.5,476.9 1475.7,474.7 1476.0,476.3 1476.2,476.5 1476.5,478.3 1476.7,478.9 1477.0,478.4 1477.2,478.4 1477.5,476.9 1477.7,479.0 1478.0,478.5 1478.2,477.6 1478.5,476.5 1478.7,478.5 1479.0,479.0 1479.2,478.7 1479.5,477.8 1479.7,480.7 1480.0,478.5 1480.2,475.0 1480.5,478.7 1480.7,477.4 1481.0,476.8 1481.2,476.4 1481.5,480.5 1481.7,480.0 1482.0,477.9 1482.2,478.0 1482.5,479.1 1482.7,479.8 1483.0,477.9 1483.2,480.1 1483.5,476.8 1483.7,479.9 1484.0,477.4 1484.2,476.5 1484.5,478.1 1484.7,479.1 1485.0,479.0 1485.2,478.1 1485.5,479.8 1485.7,477.0 1486.0,475.1 1486.2,478.0 1486.5,479.0 1486.7,475.6 1487.0,478.4 1487.2,480.2 1487.5,475.3 1487.7,479.8 1488.0,476.4 1488.2,478.3 1488.5,479.0 1488.7,481.8 1489.0,477.8 1489.2,475.5 1489.5,477.1 1489.7,476.4 1490.0,475.5 1490.2,475.9 1490.5,478.1 1490.7,474.0 1491.0,476.4 1491.2,477.0 1491.5,476.2 1491.7,479.8 1492.0,477.7 1492.2,477.5 1492.5,477.8 1492.7,477.6 1493.0,478.9 1493.2,476.7 1493.5,475.4 1493.7,480.0 1494.0,478.4 1494.2,479.7 1494.5,477.9 1494.7,476.0 1495.0,476.3 1495.2,479.0 1495.5,475.9 1495.7,475.9 1496.0,477.4 1496.2,480.2 1496.5,476.9 1496.7,479.9 1497.0,478.9 1497.2,479.1 1497.5,477.2 1497.7,478.7 1498.0,478.0 1498.2,477.9 1498.5,478.9 1498.7,478.2 1499.0,473.4 1499.2,477.3 1499.5,478.0 1499.7,478.3 1500.0,475.8 1500.2,475.6 1500.5,475.8 1500.7,480.2 1501.0,477.7 1501.2,477.3 1501.5,477.2 1501.7,477.4 1502.0,478.3 1502.2,476.0 1502.5,477.9 1502.7,476.4 1503.0,478.4 1503.2,479.1 1503.5,480.1"/>
<path d="M915.6,430.6 L919.8,435.0 L915.6,439.4 L911.4,435.0Z"/>
<circle cx="931.0" cy="424.6" r="4.60"/>
<path d="M950.6,430.6 L954.8,435.0 L950.6,439.4 L946.4,435.0Z"/>
<path d="M1009.4,447.4 L1013.6,451.8 L1009.4,456.2 L1005.2,451.8Z"/>
<circle cx="1030.8" cy="455.0" r="4.60"/>
<path d="M1143.7,450.6 L1147.9,455.0 L1143.7,459.4 L1139.5,455.0Z"/>
<path d="M1166.8,452.4 L1171.0,456.8 L1166.8,461.2 L1162.6,456.8Z"/>
<path d="M1199.5,451.3 L1203.7,455.7 L1199.5,460.1 L1195.3,455.7Z"/>
<rect class="fr" x="53.4" y="564.8" width="708.6" height="468.5"/>
<text class="tag" x="15.5" y="579.5">(c)</text>
<text class="tk" x="101.7" y="1059.2">20</text>
<text class="tk" x="190.6" y="1059.2">30</text>
<text class="tk" x="279.4" y="1059.2">40</text>
<text class="tk" x="368.3" y="1059.2">50</text>
<text class="tk" x="457.2" y="1059.2">60</text>
<text class="tk" x="546.1" y="1059.2">70</text>
<text class="tk" x="635.0" y="1059.2">80</text>
<text class="tk" x="723.8" y="1059.2">90</text>
<text class="ax" x="418.6" y="1090.3">2θ</text>
<path d="M532.8,579.4 L537.0,583.8 L532.8,588.2 L528.6,583.8Z"/>
<text class="lb" x="547.7" y="590.2">WO<tspan class="sb" dy="4.5">3</tspan><tspan dy="-4.5"> </tspan></text>
<circle cx="599.3" cy="583.4" r="4.60"/>
<text class="lb" x="614.0" y="590.2">WO<tspan class="sb" dy="4.5">2</tspan><tspan dy="-4.5"> </tspan></text>
<path d="M665.90,579.10 667.10,582.34 670.56,582.49 667.85,584.63 668.78,587.96 665.90,586.05 663.02,587.96 663.95,584.63 661.24,582.49 664.70,582.34Z"/>
<text class="lb" x="679.6" y="590.2">W</text>
<text class="lb" x="79.2" y="590.7">WO<tspan class="sb" dy="4.5">3</tspan><tspan dy="-4.5"> reduced</tspan></text>
<text class="lb" x="79.2" y="613.9">at 1200 °C</text>
<text class="lb" x="79.2" y="682.8">WO<tspan class="sb" dy="4.5">3</tspan><tspan dy="-4.5"> reduced</tspan></text>
<text class="lb" x="79.2" y="706.0">at 1100 °C</text>
<text class="lb" x="79.2" y="774.2">WO<tspan class="sb" dy="4.5">3</tspan><tspan dy="-4.5"> reduced</tspan></text>
<text class="lb" x="79.2" y="797.4">at 1000 °C</text>
<text class="lb" x="79.2" y="865.8">WO<tspan class="sb" dy="4.5">3</tspan><tspan dy="-4.5"> reduced</tspan></text>
<text class="lb" x="79.2" y="889.0">at 900 °C</text>
<text class="lb" x="79.2" y="963.6">WO<tspan class="sb" dy="4.5">3</tspan><tspan dy="-4.5"> </tspan></text>
<path class="tr" d="M101.2,656.4 266.7,656.4 275.4,656.3 277.3,656.2 278.5,656.0 279.0,655.8 279.5,655.5 280.0,654.6 280.3,653.3 280.4,651.1 280.7,642.5 281.2,613.2 281.3,606.9 281.5,610.3 281.9,624.7 282.3,629.4 282.8,647.7 283.1,652.7 283.4,654.6 283.7,655.3 284.1,655.6 284.5,655.9 286.0,656.2 290.2,656.3 302.2,656.4 428.7,656.4 439.1,656.3 440.3,656.1 440.5,655.9 440.7,655.5 440.9,653.6 441.3,647.7 441.5,646.6 441.6,647.7 442.0,653.4 442.2,654.8 442.3,654.8 442.4,654.3 442.8,651.4 443.0,651.8 443.4,654.8 443.6,655.8 443.9,656.1 444.7,656.3 449.7,656.4 476.7,656.4 562.7,656.4 571.4,656.3 572.4,656.2 572.9,656.0 573.2,655.6 573.4,655.0 573.6,651.2 574.0,638.1 574.4,651.2 574.7,654.9 574.9,655.5 575.1,655.6 575.2,655.4 575.4,654.8 575.9,647.1 576.3,653.7 576.5,655.4 576.6,655.8 576.8,656.0 577.6,656.3 580.0,656.4 587.7,656.4 694.7,656.4 695.6,656.2 695.9,655.9 696.1,655.0 696.5,651.4 697.1,655.7 697.3,656.1 697.6,656.2 698.1,656.2 698.4,656.1 698.5,655.6 698.8,654.1 699.0,653.9 699.4,655.9 699.7,656.3 700.0,656.3 723.6,656.4"/>
<path d="M282.20,597.30 283.40,600.54 286.86,600.69 284.15,602.83 285.08,606.16 282.20,604.25 279.32,606.16 280.25,602.83 277.54,600.69 281.00,600.54Z"/>
<path d="M441.60,634.70 442.80,637.94 446.26,638.09 443.55,640.23 444.48,643.56 441.60,641.65 438.72,643.56 439.65,640.23 436.94,638.09 440.40,637.94Z"/>
<path d="M573.50,626.40 574.70,629.64 578.16,629.79 575.45,631.93 576.38,635.26 573.50,633.35 570.62,635.26 571.55,631.93 568.84,629.79 572.30,629.64Z"/>
<path d="M697.00,637.00 698.20,640.24 701.66,640.39 698.95,642.53 699.88,645.86 697.00,643.95 694.12,645.86 695.05,642.53 692.34,640.39 695.80,640.24Z"/>
<path class="tr" d="M101.2,750.3 266.7,750.3 275.4,750.2 277.3,750.1 278.5,749.8 279.0,749.6 279.5,749.3 279.7,749.0 280.0,748.5 280.3,747.2 280.4,744.8 280.7,736.0 281.2,705.8 281.3,699.2 281.5,702.7 281.9,717.6 282.3,722.4 282.8,741.3 283.1,746.5 283.4,748.4 283.7,749.2 284.1,749.5 284.5,749.8 286.0,750.1 290.2,750.2 301.2,750.3 439.1,750.2 440.3,750.1 440.5,749.9 440.7,749.5 440.9,747.9 441.3,743.0 441.5,742.0 441.6,742.9 442.0,747.8 442.2,748.9 442.3,748.9 442.4,748.5 442.8,746.0 443.0,746.4 443.4,748.9 443.6,749.8 443.9,750.1 444.7,750.2 452.7,750.3 533.2,750.3 571.4,750.2 572.4,750.1 572.9,749.9 573.2,749.6 573.4,749.0 573.6,745.6 574.0,733.7 574.4,745.5 574.7,749.0 574.9,749.5 575.1,749.6 575.2,749.4 575.4,748.9 575.9,741.9 576.3,747.9 576.5,749.4 576.6,749.8 576.8,750.0 577.6,750.2 580.0,750.3 587.7,750.3 694.7,750.3 695.6,750.1 695.9,749.8 696.1,748.9 696.5,745.3 697.1,749.6 697.3,750.0 697.6,750.1 698.1,750.1 698.4,750.0 698.5,749.5 698.8,748.0 699.0,747.8 699.4,749.8 699.7,750.2 700.0,750.2 723.6,750.3"/>
<path d="M281.40,687.70 282.60,690.94 286.06,691.09 283.35,693.23 284.28,696.56 281.40,694.65 278.52,696.56 279.45,693.23 276.74,691.09 280.20,690.94Z"/>
<path d="M441.60,730.70 442.80,733.94 446.26,734.09 443.55,736.23 444.48,739.56 441.60,737.65 438.72,739.56 439.65,736.23 436.94,734.09 440.40,733.94Z"/>
<path d="M573.50,723.10 574.70,726.34 578.16,726.49 575.45,728.63 576.38,731.96 573.50,730.05 570.62,731.96 571.55,728.63 568.84,726.49 572.30,726.34Z"/>
<path d="M697.00,736.50 698.20,739.74 701.66,739.89 698.95,742.03 699.88,745.36 697.00,743.45 694.12,745.36 695.05,742.03 692.34,739.89 695.80,739.74Z"/>
<path class="tr" d="M101.2,843.5 265.7,843.5 275.0,843.4 277.0,843.3 278.3,843.0 279.3,842.5 279.6,842.2 279.9,841.7 280.2,840.4 280.4,838.1 280.6,829.4 281.1,799.5 281.3,792.6 281.4,792.9 281.5,795.3 281.9,808.4 282.3,814.8 282.9,834.4 283.2,839.8 283.5,841.6 283.9,842.4 284.3,842.7 284.8,842.9 286.2,843.2 290.7,843.4 302.2,843.5 438.9,843.4 440.3,843.2 440.5,843.0 440.7,842.7 440.9,841.4 441.3,836.9 441.5,836.0 441.6,836.8 442.0,841.1 442.2,841.8 442.3,841.9 442.3,841.7 442.7,839.9 442.8,839.6 442.9,839.7 443.4,842.2 443.6,843.0 443.9,843.3 444.9,843.4 496.7,843.5 571.3,843.4 572.2,843.3 572.8,843.2 573.1,843.0 573.3,842.4 573.6,839.6 574.0,829.8 574.5,839.6 574.8,842.3 574.9,842.7 575.0,842.8 575.2,842.7 575.3,842.3 575.9,836.6 576.0,837.2 576.4,841.4 576.6,842.7 576.7,843.0 576.9,843.2 577.7,843.4 588.2,843.5 694.5,843.5 695.5,843.4 695.9,843.1 696.1,842.3 696.5,839.4 697.1,842.6 697.3,843.2 697.6,843.4 698.1,843.4 698.3,843.2 698.9,841.4 699.5,843.2 699.7,843.4 700.1,843.4 723.6,843.5"/>
<path d="M281.40,781.40 282.60,784.64 286.06,784.79 283.35,786.93 284.28,790.26 281.40,788.35 278.52,790.26 279.45,786.93 276.74,784.79 280.20,784.64Z"/>
<path d="M441.60,825.10 442.80,828.34 446.26,828.49 443.55,830.63 444.48,833.96 441.60,832.05 438.72,833.96 439.65,830.63 436.94,828.49 440.40,828.34Z"/>
<path d="M573.50,819.70 574.70,822.94 578.16,823.09 575.45,825.23 576.38,828.56 573.50,826.65 570.62,828.56 571.55,825.23 568.84,823.09 572.30,822.94Z"/>
<path d="M697.00,827.20 698.20,830.44 701.66,830.59 698.95,832.73 699.88,836.06 697.00,834.15 694.12,836.06 695.05,832.73 692.34,830.59 695.80,830.44Z"/>
<path class="tr" d="M101.2,935.0 142.3,935.0 147.1,934.9 149.5,934.7 150.2,934.5 150.7,934.3 151.1,933.8 151.3,933.3 151.9,931.2 152.5,927.4 152.7,926.8 152.8,926.6 152.9,926.5 153.1,926.7 153.3,927.7 154.2,932.2 154.7,933.7 155.1,934.2 155.6,934.5 156.4,934.7 157.7,934.8 162.3,935.0 174.7,935.0 229.6,935.0 243.0,934.9 245.3,934.8 246.6,934.5 247.6,934.0 249.1,932.8 249.7,932.6 250.3,932.8 251.8,933.8 252.6,934.1 253.5,933.9 255.0,933.0 255.6,932.9 256.1,933.1 257.4,934.0 258.1,934.4 259.0,934.7 260.2,934.8 265.0,934.9 273.0,934.9 276.2,934.8 278.0,934.5 279.0,934.0 279.6,933.3 280.0,932.0 280.2,929.6 280.6,918.1 281.2,889.6 281.3,886.5 281.4,886.0 281.6,887.6 282.3,904.0 282.9,924.9 283.3,930.7 283.6,932.6 283.8,933.3 284.0,933.7 284.3,934.0 284.9,934.4 286.6,934.7 290.7,934.9 300.7,935.0 386.1,934.9 388.8,934.8 390.1,934.6 391.2,934.2 392.7,933.1 393.3,933.0 393.9,933.2 395.8,934.3 396.4,934.6 397.2,934.7 398.4,934.6 400.2,934.0 400.8,933.9 401.4,934.0 403.6,934.7 405.9,934.9 425.2,935.0 438.6,934.9 440.0,934.7 440.3,934.6 440.5,934.2 440.8,932.9 441.3,928.6 441.5,927.8 441.6,928.6 442.0,931.8 442.2,932.5 442.3,932.6 442.4,932.4 442.7,931.5 442.9,931.2 443.7,934.4 444.1,934.8 445.2,934.9 471.7,935.0 571.0,934.9 572.1,934.8 572.7,934.7 573.0,934.4 573.2,933.9 573.5,931.5 573.9,924.2 574.0,922.8 574.2,924.2 574.6,931.4 574.9,933.8 575.0,933.9 575.1,933.9 575.3,933.4 575.8,929.4 575.9,928.8 576.5,933.3 576.7,934.3 577.0,934.7 578.0,934.9 589.7,935.0 694.3,935.0 695.4,934.9 695.8,934.6 696.0,933.9 696.4,931.5 696.5,931.1 696.7,931.5 697.2,934.2 697.4,934.7 697.7,934.8 698.0,934.8 698.3,934.6 698.9,933.0 699.1,933.2 699.6,934.6 699.8,934.9 700.2,934.9 723.6,935.0"/>
<circle cx="152.1" cy="918.9" r="4.60"/>
<circle cx="252.9" cy="925.3" r="4.60"/>
<circle cx="393.6" cy="925.8" r="4.60"/>
<path d="M280.70,875.40 281.90,878.64 285.36,878.79 282.65,880.93 283.58,884.26 280.70,882.35 277.82,884.26 278.75,880.93 276.04,878.79 279.50,878.64Z"/>
<path d="M440.00,916.40 441.20,919.64 444.66,919.79 441.95,921.93 442.88,925.26 440.00,923.35 437.12,925.26 438.05,921.93 435.34,919.79 438.80,919.64Z"/>
<path d="M573.50,911.40 574.70,914.64 578.16,914.79 575.45,916.93 576.38,920.26 573.50,918.35 570.62,920.26 571.55,916.93 568.84,914.79 572.30,914.64Z"/>
<path d="M695.50,918.50 696.70,921.74 700.16,921.89 697.45,924.03 698.38,927.36 695.50,925.45 692.62,927.36 693.55,924.03 690.84,921.89 694.30,921.74Z"/>
<path class="tr2" style="stroke-width:0.95" d="M102.0,1026.4 102.5,1027.2 103.0,1026.9 103.5,1026.7 104.0,1027.1 104.5,1026.6 105.0,1027.4 105.5,1027.0 106.0,1026.8 106.5,1027.0 107.0,1026.5 107.5,1027.0 108.0,1027.1 108.5,1027.1 109.0,1027.0 109.5,1026.5 110.0,1026.9 110.5,1026.5 111.0,1026.9 111.5,1026.6 112.0,1026.6 112.5,1027.0 113.0,1027.3 113.5,1027.2 114.0,1026.7 114.5,1026.7 115.0,1026.5 115.5,1026.6 116.0,1026.8 116.5,1026.8 117.0,1026.6 117.5,1026.7 118.0,1026.3 118.5,1026.5 119.0,1026.9 119.5,1026.9 120.0,1026.6 120.5,1026.5 121.0,1026.5 121.5,1026.2 122.0,1026.0 122.5,1026.3 123.0,1025.8 123.5,1026.1 124.0,1025.5 124.5,1025.7 125.0,1025.9 125.5,1025.3 126.0,1024.7 126.5,1024.3 126.8,1023.4 127.0,1023.5 127.2,1022.5 127.5,1020.9 128.0,1015.0 128.4,1006.1 128.5,1001.2 129.0,982.2 129.3,977.3 129.5,979.7 130.0,997.6 130.5,1012.2 131.0,1018.7 131.3,1019.2 131.5,1019.7 131.8,1018.9 132.0,1017.8 132.4,1012.7 132.5,1010.1 133.0,994.9 133.3,984.8 133.5,981.4 133.8,985.0 134.0,990.5 134.5,1006.8 134.6,1010.4 135.0,1016.9 135.2,1018.5 135.5,1020.4 135.7,1022.1 136.0,1022.4 136.5,1022.8 137.0,1022.3 137.2,1022.9 137.5,1022.4 137.7,1022.0 138.0,1021.8 138.5,1020.4 139.0,1017.0 139.3,1011.8 139.5,1007.1 140.0,991.4 140.2,983.9 140.5,978.1 140.6,978.5 141.0,985.7 141.5,1002.7 141.8,1011.7 142.0,1014.5 142.2,1018.4 142.5,1020.2 142.8,1021.7 143.0,1022.0 143.2,1023.3 143.5,1023.5 144.0,1024.0 144.2,1024.2 144.5,1024.7 145.0,1025.1 145.1,1025.1 145.5,1025.0 146.0,1025.1 146.3,1024.9 146.5,1025.3 147.0,1025.7 147.5,1025.6 147.8,1026.3 148.0,1026.1 148.5,1025.9 149.0,1026.1 149.5,1026.1 150.0,1026.0 150.5,1026.1 151.0,1025.9 151.5,1026.2 151.8,1026.6 152.0,1026.3 152.5,1026.8 153.0,1026.4 153.5,1026.6 154.0,1026.6 154.4,1026.3 154.5,1026.2 155.0,1026.6 155.5,1026.7 156.0,1026.5 156.5,1026.4 157.0,1025.7 157.5,1026.1 157.7,1026.5 158.0,1026.4 158.3,1026.0 158.5,1025.5 158.7,1025.5 159.0,1024.6 159.1,1024.4 159.5,1023.0 160.0,1019.6 160.2,1018.9 160.5,1018.3 160.9,1019.2 161.0,1019.9 161.5,1022.8 161.7,1023.6 162.0,1024.5 162.2,1025.1 162.5,1026.0 162.9,1025.8 163.0,1026.0 163.5,1025.8 164.0,1026.2 164.2,1027.0 164.5,1027.1 165.0,1026.5 165.5,1027.1 166.0,1026.8 166.5,1026.8 167.0,1026.6 167.1,1027.0 167.5,1026.3 168.0,1027.0 168.5,1026.7 169.0,1026.7 169.5,1026.2 170.0,1027.3 170.5,1026.9 171.0,1026.7 171.5,1026.6 172.0,1026.8 172.5,1026.4 173.0,1026.6 173.5,1026.7 174.0,1026.2 174.5,1026.1 175.0,1026.4 175.3,1025.8 175.5,1025.6 176.0,1025.5 176.5,1025.2 176.7,1024.7 177.0,1023.4 177.5,1022.8 178.0,1020.4 178.5,1019.2 178.9,1018.7 179.0,1018.7 179.1,1018.6 179.5,1018.7 179.8,1018.7 180.0,1019.3 180.5,1021.2 181.0,1022.9 181.1,1023.1 181.5,1023.8 182.0,1025.0 182.5,1025.8 182.9,1025.1 183.0,1026.3 183.5,1026.6 184.0,1026.5 184.2,1026.2 184.5,1026.4 185.0,1026.5 185.5,1027.1 186.0,1026.7 186.5,1026.8 187.0,1026.9 187.5,1026.7 188.0,1026.5 188.5,1026.3 189.0,1026.6 189.5,1026.9 190.0,1027.0 190.2,1026.3 190.5,1026.7 191.0,1026.8 191.5,1027.0 192.0,1026.7 192.5,1026.7 193.0,1026.8 193.5,1026.9 194.0,1026.8 194.5,1026.6 195.0,1026.7 195.5,1026.8 196.0,1026.6 196.5,1026.7 197.0,1026.7 197.5,1026.4 198.0,1027.2 198.5,1026.8 199.0,1027.0 199.5,1027.3 200.0,1026.9 200.5,1026.6 201.0,1026.8 201.5,1026.6 202.0,1026.7 202.5,1027.0 203.0,1026.6 203.5,1026.9 204.0,1026.8 204.5,1027.1 205.0,1026.9 205.5,1027.0 205.8,1026.9 206.0,1026.6 206.5,1026.7 207.0,1026.5 207.5,1026.4 208.0,1027.2 208.5,1026.4 209.0,1027.0 209.5,1026.6 210.0,1026.4 210.5,1026.6 211.0,1026.8 211.5,1026.8 212.0,1026.8 212.5,1026.5 212.7,1026.6 213.0,1026.3 213.5,1026.2 214.0,1026.6 214.5,1026.5 214.7,1026.2 215.0,1026.2 215.5,1026.0 216.0,1026.0 216.5,1025.5 217.0,1025.5 217.5,1024.9 218.0,1023.7 218.2,1023.2 218.5,1020.9 218.8,1018.2 219.0,1016.3 219.5,1009.2 219.7,1007.6 220.0,1005.4 220.2,1006.1 220.3,1007.4 220.5,1009.5 221.0,1014.7 221.3,1018.0 221.5,1019.7 221.9,1020.4 222.0,1020.2 222.5,1020.5 223.0,1019.4 223.5,1019.1 224.0,1018.3 224.3,1017.7 224.5,1018.4 225.0,1017.8 225.5,1017.7 225.9,1015.9 226.0,1015.0 226.2,1013.2 226.5,1010.5 227.0,1003.8 227.2,1000.8 227.5,999.5 227.8,999.4 228.0,1002.1 228.5,1009.2 229.0,1015.8 229.1,1017.5 229.5,1021.0 230.0,1023.8 230.5,1024.5 231.0,1024.9 231.3,1025.1 231.5,1025.7 232.0,1026.1 232.5,1025.8 232.7,1025.7 233.0,1025.7 233.5,1026.3 234.0,1025.9 234.5,1026.2 235.0,1026.1 235.5,1026.6 236.0,1025.7 236.5,1025.7 236.9,1025.7 237.0,1026.0 237.5,1025.2 237.6,1025.4 238.0,1024.5 238.5,1023.5 238.8,1023.4 239.0,1023.8 239.4,1023.2 239.5,1023.1 239.9,1023.6 240.0,1023.6 240.5,1024.5 241.0,1025.2 241.1,1025.5 241.5,1025.8 242.0,1026.7 242.5,1025.9 243.0,1026.7 243.5,1025.7 244.0,1026.7 244.5,1026.4 245.0,1026.5 245.5,1026.5 246.0,1026.8 246.5,1026.6 247.0,1026.9 247.5,1026.7 248.0,1027.0 248.5,1027.4 249.0,1026.9 249.5,1026.9 250.0,1026.6 250.5,1026.8 251.0,1026.7 251.5,1026.5 251.8,1026.6 252.0,1027.3 252.5,1026.3 253.0,1026.4 253.5,1026.5 254.0,1026.8 254.5,1026.7 255.0,1026.9 255.5,1026.9 256.0,1026.8 256.5,1026.5 257.0,1026.7 257.5,1027.1 258.0,1027.1 258.5,1026.7 259.0,1027.0 259.5,1026.6 260.0,1026.6 260.5,1026.5 261.0,1027.1 261.5,1027.3 262.0,1026.9 262.5,1027.0 263.0,1027.0 263.5,1026.8 264.0,1026.3 264.5,1027.1 265.0,1026.9 265.5,1027.2 266.0,1026.8 266.5,1026.7 267.0,1027.4 267.5,1027.3 268.0,1027.0 268.5,1026.5 269.0,1026.7 269.5,1026.6 270.0,1026.9 270.5,1026.8 271.0,1026.8 271.5,1027.0 272.0,1026.5 272.5,1026.4 273.0,1026.8 273.5,1027.0 274.0,1026.9 274.5,1027.3 275.0,1026.7 275.5,1026.7 276.0,1026.8 276.5,1026.6 277.0,1027.0 277.5,1026.9 278.0,1027.2 278.5,1026.4 279.0,1026.5 279.5,1027.1 280.0,1026.9 280.5,1026.8 281.0,1026.9 281.5,1027.0 282.0,1026.6 282.5,1027.1 283.0,1027.0 283.5,1026.8 284.0,1026.8 284.5,1027.1 285.0,1026.8 285.5,1026.6 286.0,1026.4 286.5,1026.6 287.0,1026.8 287.5,1026.5 288.0,1026.6 288.5,1027.0 289.0,1026.5 289.2,1026.8 289.5,1026.7 290.0,1025.9 290.5,1026.6 290.8,1026.3 291.0,1026.0 291.3,1026.0 291.5,1025.8 291.9,1025.6 292.0,1025.4 292.5,1025.0 292.7,1024.5 293.0,1024.0 293.5,1022.8 294.0,1021.1 294.3,1021.1 294.5,1021.0 295.0,1021.1 295.5,1022.9 296.0,1023.9 296.3,1024.4 296.5,1024.9 297.0,1025.3 297.5,1026.1 298.0,1026.6 298.5,1026.8 299.0,1026.6 299.5,1026.7 299.8,1026.6 300.0,1026.1 300.5,1026.6 301.0,1026.6 301.5,1026.9 302.0,1026.7 302.5,1026.7 303.0,1027.1 303.5,1026.9 304.0,1026.9 304.5,1026.5 305.0,1026.7 305.5,1026.5 306.0,1027.0 306.5,1026.7 307.0,1026.6 307.5,1026.7 308.0,1026.7 308.5,1027.1 309.0,1027.2 309.5,1027.0 310.0,1026.8 310.5,1027.2 311.0,1027.0 311.5,1027.0 312.0,1026.6 312.5,1026.7 313.0,1026.8 313.5,1026.3 313.8,1026.4 314.0,1026.8 314.5,1026.1 314.6,1026.6 315.0,1026.3 315.2,1026.1 315.5,1025.8 316.0,1025.3 316.5,1025.1 316.7,1024.2 317.0,1024.3 317.2,1024.4 317.5,1024.4 318.0,1024.8 318.5,1025.3 319.0,1025.9 319.5,1026.4 320.0,1026.1 320.5,1025.9 320.8,1025.6 321.0,1025.9 321.5,1024.8 322.0,1024.6 322.5,1024.2 323.0,1024.4 323.5,1025.3 324.0,1026.0 324.4,1026.0 324.5,1026.3 325.0,1026.3 325.3,1026.4 325.5,1026.2 326.0,1026.2 326.1,1026.8 326.5,1026.3 327.0,1025.7 327.5,1026.0 328.0,1025.6 328.5,1024.9 329.0,1025.0 329.5,1024.6 330.0,1024.1 330.2,1024.7 330.5,1024.9 331.0,1025.6 331.5,1025.8 332.0,1026.2 332.5,1026.3 333.0,1026.5 333.2,1026.5 333.5,1026.8 334.0,1026.7 334.5,1026.8 335.0,1026.8 335.5,1027.3 336.0,1026.6 336.5,1026.8 337.0,1026.3 337.5,1026.5 338.0,1026.8 338.5,1026.4 339.0,1026.6 339.5,1026.4 340.0,1026.4 340.5,1026.1 340.8,1026.2 341.0,1026.3 341.5,1025.9 342.0,1024.8 342.2,1024.6 342.5,1023.5 343.0,1023.1 343.3,1022.0 343.5,1022.0 343.7,1021.1 344.0,1022.2 344.2,1022.5 344.5,1022.7 345.0,1024.3 345.2,1024.4 345.5,1025.2 345.7,1025.3 346.0,1025.7 346.3,1025.6 346.5,1025.5 347.0,1026.1 347.5,1026.3 348.0,1027.1 348.5,1026.3 349.0,1026.9 349.5,1026.3 350.0,1026.0 350.2,1026.1 350.5,1026.2 350.8,1025.7 351.0,1026.2 351.5,1025.0 352.0,1024.1 352.5,1022.7 352.9,1021.9 353.0,1022.2 353.1,1021.3 353.3,1021.6 353.5,1021.5 353.8,1021.8 354.0,1022.4 354.5,1023.2 355.0,1025.0 355.2,1025.2 355.5,1025.5 356.0,1026.1 356.5,1026.0 356.9,1026.3 357.0,1026.4 357.5,1026.1 358.0,1026.5 358.5,1026.5 359.0,1026.4 359.5,1026.5 360.0,1026.8 360.5,1026.4 361.0,1027.0 361.5,1026.4 362.0,1026.4 362.5,1026.2 363.0,1026.2 363.5,1026.1 364.0,1025.8 364.5,1025.9 365.0,1025.3 365.5,1024.3 366.0,1022.1 366.5,1018.9 367.0,1015.5 367.2,1014.1 367.5,1011.9 367.8,1012.5 368.0,1013.8 368.5,1017.7 369.0,1020.9 369.5,1022.8 369.8,1023.0 370.0,1023.1 370.5,1023.0 371.0,1021.3 371.5,1019.9 372.0,1019.1 372.3,1018.6 372.5,1018.8 373.0,1018.5 373.5,1019.0 374.0,1020.1 374.5,1020.0 375.0,1020.9 375.5,1021.6 376.0,1022.2 376.5,1023.2 377.0,1024.5 377.5,1024.9 378.0,1025.8 378.5,1026.1 378.6,1026.3 379.0,1026.0 379.5,1026.3 380.0,1026.4 380.5,1026.7 381.0,1026.8 381.5,1026.6 382.0,1026.6 382.5,1026.3 383.0,1026.8 383.5,1027.1 384.0,1025.9 384.5,1026.9 385.0,1026.4 385.5,1026.2 386.0,1026.4 386.5,1026.5 387.0,1026.7 387.5,1026.8 388.0,1026.3 388.5,1026.6 389.0,1026.6 389.5,1026.3 390.0,1026.1 390.5,1026.4 390.6,1026.5 391.0,1026.2 391.5,1026.2 392.0,1026.5 392.5,1026.4 393.0,1026.5 393.5,1026.2 394.0,1025.7 394.5,1025.9 395.0,1026.4 395.5,1025.7 395.7,1025.9 396.0,1025.7 396.5,1025.1 397.0,1025.1 397.5,1024.3 398.0,1022.8 398.5,1021.5 399.0,1020.9 399.5,1021.4 400.0,1022.5 400.5,1023.8 400.9,1024.4 401.0,1024.2 401.3,1025.1 401.5,1025.2 401.8,1025.1 402.0,1025.2 402.5,1025.1 403.0,1024.7 403.2,1024.8 403.5,1024.0 403.7,1024.1 404.0,1023.5 404.5,1021.8 404.7,1021.3 405.0,1021.6 405.3,1021.7 405.5,1021.5 406.0,1022.0 406.5,1022.6 407.0,1024.5 407.5,1024.7 407.9,1024.5 408.0,1024.3 408.3,1024.6 408.5,1023.9 408.7,1023.3 409.0,1023.6 409.5,1022.4 410.0,1021.6 410.5,1021.1 411.0,1021.6 411.5,1022.6 412.0,1023.4 412.3,1024.2 412.5,1024.0 413.0,1024.8 413.5,1025.1 414.0,1025.1 414.5,1025.2 415.0,1025.0 415.5,1025.1 416.0,1024.5 416.3,1025.2 416.5,1025.1 417.0,1024.8 417.5,1024.3 418.0,1023.3 418.2,1023.0 418.5,1021.3 418.9,1020.7 419.0,1019.2 419.5,1017.0 420.0,1014.5 420.3,1014.3 420.5,1013.8 420.8,1013.9 421.0,1014.3 421.5,1016.4 422.0,1019.0 422.2,1020.1 422.5,1021.5 422.8,1022.9 423.0,1023.4 423.5,1024.4 424.0,1024.6 424.5,1025.2 425.0,1025.3 425.1,1025.8 425.5,1025.7 426.0,1026.0 426.5,1026.5 427.0,1025.7 427.5,1026.0 428.0,1026.0 428.5,1025.7 429.0,1026.4 429.5,1026.3 430.0,1026.0 430.5,1026.0 431.0,1026.4 431.5,1026.3 432.0,1025.9 432.5,1026.1 433.0,1026.5 433.5,1025.9 434.0,1026.4 434.5,1026.8 435.0,1025.9 435.5,1026.5 436.0,1026.1 436.5,1026.5 437.0,1026.3 437.5,1026.6 438.0,1026.4 438.5,1026.8 439.0,1026.2 439.5,1026.8 440.0,1027.0 440.5,1026.3 441.0,1026.8 441.5,1026.8 442.0,1026.8 442.5,1026.3 443.0,1026.7 443.5,1026.6 444.0,1026.7 444.5,1026.6 445.0,1026.1 445.5,1026.4 445.7,1026.9 446.0,1026.7 446.5,1026.5 447.0,1026.4 447.5,1026.5 448.0,1026.9 448.5,1026.3 449.0,1026.5 449.5,1026.6 450.0,1026.7 450.1,1026.7 450.5,1027.0 451.0,1026.2 451.5,1026.6 452.0,1026.9 452.5,1026.6 452.7,1026.7 453.0,1026.6 453.5,1026.6 454.0,1026.5 454.5,1026.3 455.0,1025.6 455.5,1025.5 456.0,1025.3 456.5,1024.6 457.0,1024.2 457.5,1024.2 457.9,1023.8 458.0,1024.1 458.5,1023.2 458.8,1023.4 459.0,1023.4 459.5,1023.7 459.7,1023.7 460.0,1023.8 460.5,1024.2 461.0,1024.7 461.5,1025.4 462.0,1025.2 462.3,1026.0 462.5,1025.7 463.0,1025.8 463.5,1026.3 463.9,1026.2 464.0,1026.2 464.5,1026.2 465.0,1025.8 465.5,1025.8 466.0,1025.7 466.5,1025.6 467.0,1025.1 467.5,1024.5 468.0,1024.3 468.3,1023.7 468.5,1024.1 468.8,1023.6 469.0,1024.1 469.5,1024.2 470.0,1024.5 470.5,1024.6 471.0,1025.4 471.3,1026.0 471.5,1025.2 472.0,1025.6 472.5,1026.3 472.8,1026.2 473.0,1025.5 473.5,1025.4 474.0,1025.5 474.5,1024.7 475.0,1023.9 475.2,1023.8 475.5,1023.2 476.0,1022.3 476.5,1021.1 477.0,1021.0 477.2,1020.9 477.5,1020.8 477.9,1021.3 478.0,1021.4 478.5,1022.1 479.0,1022.9 479.3,1023.5 479.5,1024.2 480.0,1024.8 480.5,1025.6 480.6,1024.8 481.0,1025.6 481.3,1025.7 481.5,1025.9 482.0,1026.1 482.5,1026.2 483.0,1025.7 483.5,1026.0 484.0,1026.0 484.5,1025.2 485.0,1025.6 485.5,1025.4 486.0,1025.6 486.1,1025.3 486.5,1025.2 486.8,1025.4 487.0,1025.5 487.5,1025.2 488.0,1026.0 488.5,1026.2 488.6,1026.3 489.0,1026.1 489.5,1026.6 489.7,1026.4 490.0,1026.5 490.5,1026.8 491.0,1026.2 491.5,1026.8 492.0,1026.7 492.5,1027.0 493.0,1027.1 493.2,1027.2 493.5,1026.8 494.0,1026.5 494.5,1027.2 495.0,1026.5 495.5,1027.2 496.0,1027.0 496.5,1026.9 497.0,1026.9 497.5,1027.1 498.0,1027.2 498.5,1026.6 499.0,1026.7 499.5,1026.9 500.0,1027.1 500.5,1027.0 501.0,1026.9 501.5,1026.6 502.0,1026.9 502.5,1026.7 503.0,1026.9 503.5,1026.9 504.0,1026.7 504.5,1026.8 505.0,1026.7 505.3,1026.4 505.5,1026.7 506.0,1027.4 506.5,1027.2 507.0,1026.8 507.5,1026.5 508.0,1026.7 508.5,1026.5 509.0,1027.2 509.5,1027.2 510.0,1026.9 510.5,1026.5 511.0,1026.8 511.5,1027.1 512.0,1027.0 512.5,1026.6 513.0,1026.8 513.5,1026.4 513.8,1026.8 514.0,1026.2 514.5,1026.1 515.0,1026.1 515.5,1025.9 516.0,1026.9 516.5,1026.5 516.7,1026.6 517.0,1026.2 517.5,1026.3 518.0,1026.2 518.5,1025.8 519.0,1026.3 519.5,1025.8 520.0,1025.8 520.5,1025.4 521.0,1025.4 521.5,1025.5 522.0,1025.6 522.5,1025.5 523.0,1025.1 523.5,1025.5 524.0,1026.0 524.5,1025.9 525.0,1026.4 525.5,1026.0 526.0,1025.9 526.5,1026.6 526.8,1026.4 527.0,1026.4 527.5,1026.7 528.0,1026.5 528.5,1026.7 529.0,1026.6 529.5,1026.8 530.0,1026.5 530.5,1027.2 531.0,1026.0 531.5,1027.3 532.0,1027.0 532.5,1026.5 533.0,1027.1 533.5,1026.6 534.0,1027.0 534.5,1026.7 535.0,1026.7 535.5,1027.3 536.0,1026.7 536.5,1026.6 537.0,1026.8 537.5,1027.1 538.0,1026.8 538.5,1026.9 539.0,1026.7 539.5,1026.5 540.0,1026.3 540.5,1026.9 541.0,1027.2 541.5,1027.0 542.0,1027.2 542.5,1027.1 543.0,1026.9 543.5,1026.8 544.0,1027.2 544.5,1026.6 545.0,1026.5 545.5,1026.9 546.0,1026.9 546.5,1026.9 547.0,1026.7 547.5,1026.8 548.0,1027.0 548.5,1027.0 549.0,1026.4 549.5,1026.8 550.0,1026.7 550.5,1026.6 551.0,1027.4 551.5,1026.9 552.0,1027.6 552.5,1026.9 553.0,1026.4 553.5,1026.9 554.0,1026.6 554.5,1026.7 555.0,1026.6 555.5,1026.4 556.0,1026.8 556.5,1027.2 557.0,1026.6 557.3,1026.9 557.5,1026.6 558.0,1027.1 558.5,1026.7 559.0,1026.8 559.5,1026.6 560.0,1026.4 560.2,1026.5 560.5,1026.0 561.0,1026.1 561.1,1025.4 561.5,1025.5 562.0,1024.7 562.5,1023.8 563.0,1024.1 563.2,1023.9 563.5,1024.3 563.8,1024.6 564.0,1024.3 564.5,1025.0 565.0,1025.3 565.5,1025.9 565.8,1025.9 566.0,1026.4 566.5,1026.2 566.7,1026.3 567.0,1026.6 567.5,1026.7 567.8,1026.5 568.0,1026.5 568.5,1026.4 569.0,1026.4 569.5,1026.8 570.0,1026.7 570.5,1026.8 571.0,1026.7 571.5,1026.9 572.0,1026.8 572.5,1027.3 573.0,1027.0 573.5,1026.6 573.8,1026.7 574.0,1026.7 574.5,1026.9 575.0,1026.7 575.2,1026.5 575.5,1026.8 576.0,1026.1 576.5,1026.2 577.0,1026.6 577.5,1026.1 578.0,1025.7 578.5,1026.2 579.0,1025.9 579.5,1026.1 580.0,1026.3 580.5,1026.2 581.0,1026.5 581.2,1026.6 581.5,1026.1 582.0,1026.8 582.5,1026.8 582.9,1026.8 583.0,1026.4 583.5,1026.9 584.0,1026.6 584.5,1027.0 585.0,1026.7 585.5,1027.4 586.0,1026.4 586.5,1027.2 587.0,1026.7 587.5,1027.4 588.0,1026.2 588.5,1026.2 589.0,1026.8 589.5,1026.8 590.0,1026.8 590.5,1026.7 591.0,1026.6 591.5,1027.3 592.0,1027.0 592.5,1026.9 593.0,1026.7 593.5,1026.9 594.0,1026.8 594.5,1027.0 595.0,1026.7 595.5,1026.8 596.0,1026.8 596.5,1026.7 596.8,1026.6 597.0,1026.2 597.5,1026.4 598.0,1025.8 598.5,1025.7 599.0,1025.4 599.5,1025.9 600.0,1025.4 600.5,1024.7 601.0,1025.0 601.5,1024.4 602.0,1024.2 602.5,1023.8 603.0,1023.4 603.5,1023.5 604.0,1022.7 604.5,1023.0 604.7,1022.4 605.0,1022.1 605.5,1022.7 606.0,1022.3 606.5,1022.6 606.7,1022.8 607.0,1023.1 607.5,1023.1 608.0,1023.4 608.5,1023.9 609.0,1024.2 609.5,1024.3 609.8,1025.2 610.0,1025.3 610.5,1024.8 611.0,1025.0 611.5,1025.5 612.0,1025.7 612.5,1025.7 613.0,1026.3 613.3,1026.5 613.5,1026.3 614.0,1025.9 614.5,1026.2 615.0,1026.4 615.5,1026.3 615.6,1026.3 616.0,1026.4 616.5,1026.8 617.0,1026.5 617.5,1026.2 617.8,1027.0 618.0,1026.5 618.5,1026.6 619.0,1026.1 619.5,1025.9 620.0,1025.9 620.5,1025.8 621.0,1025.6 621.5,1025.7 621.8,1026.1 622.0,1025.9 622.5,1026.2 623.0,1026.1 623.5,1026.9 624.0,1026.4 624.3,1026.6 624.5,1026.4 625.0,1026.6 625.5,1026.3 626.0,1026.6 626.5,1026.7 627.0,1026.6 627.5,1027.2 628.0,1026.7 628.5,1026.9 629.0,1026.5 629.5,1027.2 630.0,1026.5 630.5,1026.4 631.0,1026.8 631.5,1026.8 632.0,1027.1 632.5,1026.8 633.0,1027.1 633.5,1026.8 634.0,1027.0 634.5,1026.7 635.0,1026.6 635.5,1027.2 635.7,1026.5 636.0,1027.0 636.5,1026.7 637.0,1026.4 637.5,1027.0 638.0,1027.1 638.5,1026.7 639.0,1026.8 639.5,1026.8 640.0,1026.7 640.5,1027.0 641.0,1026.7 641.5,1026.7 642.0,1026.4 642.5,1026.3 642.7,1026.7 643.0,1026.9 643.5,1026.7 644.0,1026.4 644.3,1026.5 644.5,1026.1 645.0,1026.4 645.5,1026.4 646.0,1025.8 646.5,1025.3 647.0,1025.0 647.5,1024.9 648.0,1024.9 648.5,1024.7 649.0,1024.8 649.5,1024.0 650.0,1024.4 650.3,1024.5 650.5,1024.7 651.0,1024.7 651.5,1025.2 652.0,1026.2 652.5,1025.8 653.0,1025.7 653.5,1026.0 654.0,1026.1 654.5,1026.8 655.0,1026.2 655.5,1026.7 655.8,1026.7 656.0,1026.5 656.5,1027.1 657.0,1026.4 657.5,1026.4 658.0,1027.0 658.5,1026.5 659.0,1026.4 659.5,1026.6 660.0,1026.6 660.5,1026.4 661.0,1025.9 661.3,1026.1 661.5,1026.2 662.0,1025.8 662.5,1024.9 663.0,1025.2 663.5,1024.9 664.0,1024.2 664.5,1023.9 665.0,1024.0 665.3,1023.6 665.5,1023.6 666.0,1024.6 666.3,1023.9 666.5,1024.7 667.0,1024.6 667.5,1024.6 668.0,1025.3 668.5,1025.8 669.0,1025.9 669.5,1026.4 670.0,1026.3 670.5,1026.2 670.7,1026.7 671.0,1026.5 671.5,1026.6 672.0,1026.8 672.5,1026.7 673.0,1026.3 673.5,1026.9 674.0,1026.6 674.5,1027.0 675.0,1026.5 675.5,1026.5 676.0,1026.1 676.5,1026.6 677.0,1026.2 677.5,1026.5 678.0,1027.0 678.5,1026.4 679.0,1027.0 679.5,1026.6 680.0,1026.5 680.4,1026.5 680.5,1026.6 681.0,1026.4 681.5,1026.6 682.0,1026.8 682.5,1026.4 683.0,1025.9 683.5,1026.0 684.0,1026.5 684.5,1025.8 685.0,1025.9 685.3,1025.3 685.5,1025.5 686.0,1024.3 686.5,1024.7 687.0,1024.1 687.5,1023.7 688.0,1024.0 688.3,1023.2 688.5,1023.8 689.0,1023.7 689.2,1024.0 689.5,1024.0 690.0,1024.5 690.5,1024.5 691.0,1025.3 691.5,1025.5 691.7,1025.0 692.0,1025.8 692.5,1026.0 693.0,1026.1 693.3,1026.2 693.5,1026.3 694.0,1026.0 694.5,1025.9 695.0,1025.3 695.5,1025.8 696.0,1025.7 696.5,1025.7 697.0,1024.8 697.5,1024.4 698.0,1024.6 698.5,1024.6 699.0,1024.0 699.5,1024.2 700.0,1024.0 700.1,1024.2 700.5,1024.1 701.0,1024.3 701.3,1024.2 701.5,1024.3 702.0,1024.7 702.5,1024.9 703.0,1025.1 703.5,1025.4 704.0,1026.0 704.5,1025.7 705.0,1025.9 705.5,1026.3 706.0,1026.2 706.5,1026.3 707.0,1026.9 707.5,1026.8 708.0,1026.7 708.5,1026.6 709.0,1026.6 709.5,1026.7 710.0,1026.8 710.5,1026.9 711.0,1027.3 711.5,1027.0 712.0,1026.8 712.1,1026.9 712.5,1026.8 713.0,1026.8 713.5,1026.7 714.0,1026.8 714.5,1026.5 715.0,1027.1 715.5,1027.0 716.0,1027.0 716.5,1026.8 717.0,1026.8 717.5,1026.6 718.0,1026.7 718.5,1026.8 719.0,1026.6 719.5,1026.6 720.0,1026.9 720.5,1026.9 721.0,1027.3 721.5,1026.8 722.0,1026.7 722.5,1026.6 723.0,1027.0 723.5,1026.7 724.0,1026.7 724.4,1026.7"/>
<path d="M129.4,964.8 L133.6,969.2 L129.4,973.6 L125.2,969.2Z"/>
<path d="M133.8,970.2 L138.0,974.6 L133.8,979.0 L129.6,974.6Z"/>
<path d="M140.4,967.9 L144.6,972.3 L140.4,976.7 L136.2,972.3Z"/>
<path d="M160.8,1006.4 L165.0,1010.8 L160.8,1015.2 L156.6,1010.8Z"/>
<path d="M179.3,1005.3 L183.5,1009.7 L179.3,1014.1 L175.1,1009.7Z"/>
<path d="M219.9,995.6 L224.1,1000.0 L219.9,1004.4 L215.7,1000.0Z"/>
<path d="M228.1,986.4 L232.3,990.8 L228.1,995.2 L223.9,990.8Z"/>
<path d="M239.6,1011.0 L243.8,1015.4 L239.6,1019.8 L235.4,1015.4Z"/>
<path d="M293.9,1007.9 L298.1,1012.3 L293.9,1016.7 L289.7,1012.3Z"/>
<path d="M317.6,1012.8 L321.8,1017.2 L317.6,1021.6 L313.4,1017.2Z"/>
<path d="M322.7,1011.0 L326.9,1015.4 L322.7,1019.8 L318.5,1015.4Z"/>
<path d="M329.2,1012.8 L333.4,1017.2 L329.2,1021.6 L325.0,1017.2Z"/>
<path d="M343.8,1009.9 L348.0,1014.3 L343.8,1018.7 L339.6,1014.3Z"/>
<path d="M353.4,1009.9 L357.6,1014.3 L353.4,1018.7 L349.2,1014.3Z"/>
<path d="M367.6,999.8 L371.8,1004.2 L367.6,1008.6 L363.4,1004.2Z"/>
<path d="M372.3,1006.4 L376.5,1010.8 L372.3,1015.2 L368.1,1010.8Z"/>
<path d="M398.8,1008.9 L403.0,1013.3 L398.8,1017.7 L394.6,1013.3Z"/>
<path d="M404.8,1008.6 L409.0,1013.0 L404.8,1017.4 L400.6,1013.0Z"/>
<path d="M411.1,1007.9 L415.3,1012.3 L411.1,1016.7 L406.9,1012.3Z"/>
<path d="M421.0,1000.6 L425.2,1005.0 L421.0,1009.4 L416.8,1005.0Z"/>
<path d="M458.8,1011.4 L463.0,1015.8 L458.8,1020.2 L454.6,1015.8Z"/>
<path d="M468.0,1012.0 L472.2,1016.4 L468.0,1020.8 L463.8,1016.4Z"/>
<path d="M477.0,1008.2 L481.2,1012.6 L477.0,1017.0 L472.8,1012.6Z"/>
<path d="M521.0,1013.6 L525.2,1018.0 L521.0,1022.4 L516.8,1018.0Z"/>
<path d="M563.0,1011.0 L567.2,1015.4 L563.0,1019.8 L558.8,1015.4Z"/>
<path d="M578.4,1013.0 L582.6,1017.4 L578.4,1021.8 L574.2,1017.4Z"/>
<path d="M604.5,1009.4 L608.7,1013.8 L604.5,1018.2 L600.3,1013.8Z"/>
<path d="M621.0,1012.5 L625.2,1016.9 L621.0,1021.3 L616.8,1016.9Z"/>
<path d="M649.0,1012.2 L653.2,1016.6 L649.0,1021.0 L644.8,1016.6Z"/>
<path d="M665.2,1011.4 L669.4,1015.8 L665.2,1020.2 L661.0,1015.8Z"/>
<path d="M688.6,1011.0 L692.8,1015.4 L688.6,1019.8 L684.4,1015.4Z"/>
<path d="M700.5,1011.0 L704.7,1015.4 L700.5,1019.8 L696.3,1015.4Z"/>
<rect class="fr" x="829.9" y="562.8" width="711.8" height="475.8"/>
<text class="tag" x="790.6" y="586.3">(d)</text>
<text class="tk" x="877.5" y="1064.8">20</text>
<text class="tk" x="966.9" y="1064.8">30</text>
<text class="tk" x="1056.3" y="1064.8">40</text>
<text class="tk" x="1145.7" y="1064.8">50</text>
<text class="tk" x="1235.1" y="1064.8">60</text>
<text class="tk" x="1324.5" y="1064.8">70</text>
<text class="tk" x="1413.9" y="1064.8">80</text>
<text class="tk" x="1503.3" y="1064.8">90</text>
<text class="ax" x="1196.7" y="1096.9">2θ</text>
<path d="M1312.0,577.7 L1316.2,582.1 L1312.0,586.5 L1307.8,582.1Z"/>
<text class="lb" x="1327.0" y="588.6">WO<tspan class="sb" dy="4.5">3</tspan><tspan dy="-4.5"> </tspan></text>
<circle cx="1379.0" cy="581.8" r="4.60"/>
<text class="lb" x="1393.0" y="588.6">WO<tspan class="sb" dy="4.5">2</tspan><tspan dy="-4.5"> </tspan></text>
<path d="M1445.70,577.60 1446.90,580.84 1450.36,580.99 1447.65,583.13 1448.58,586.46 1445.70,584.55 1442.82,586.46 1443.75,583.13 1441.04,580.99 1444.50,580.84Z"/>
<text class="lb" x="1459.4" y="588.6">W</text>
<text class="lb" x="837.9" y="590.9">Milled WO<tspan class="sb" dy="4.5">3</tspan><tspan dy="-4.5"> reduced</tspan></text>
<text class="lb" x="837.9" y="614.1">at 1200 °C</text>
<text class="lb" x="837.9" y="683.8">Milled WO<tspan class="sb" dy="4.5">3</tspan><tspan dy="-4.5"> reduced</tspan></text>
<text class="lb" x="837.9" y="707.0">at 1100 °C</text>
<text class="lb" x="837.9" y="776.6">Milled WO<tspan class="sb" dy="4.5">3</tspan><tspan dy="-4.5"> reduced</tspan></text>
<text class="lb" x="837.9" y="799.8">at 1000 °C</text>
<text class="lb" x="837.9" y="869.3">Milled WO<tspan class="sb" dy="4.5">3</tspan><tspan dy="-4.5"> reduced</tspan></text>
<text class="lb" x="837.9" y="892.5">at 900 °C</text>
<text class="lb" x="837.9" y="963.7">Milled WO<tspan class="sb" dy="4.5">3</tspan><tspan dy="-4.5"> </tspan></text>
<path class="tr" d="M877.9,657.2 1044.4,657.2 1053.1,657.1 1055.0,657.0 1056.2,656.7 1057.1,656.3 1057.5,655.6 1057.8,654.3 1058.0,651.9 1058.3,642.5 1058.8,610.5 1059.0,603.3 1059.1,603.6 1059.2,606.0 1059.6,619.9 1060.0,627.0 1060.6,647.8 1060.9,653.5 1061.1,655.0 1061.3,655.7 1061.5,656.1 1061.8,656.4 1062.3,656.6 1063.6,656.9 1067.7,657.1 1078.9,657.2 1206.9,657.2 1217.6,657.1 1218.8,656.9 1219.1,656.7 1219.2,656.3 1219.5,654.8 1219.9,649.6 1220.0,648.6 1220.2,649.5 1220.6,654.5 1220.8,655.3 1220.8,655.4 1220.9,655.3 1221.3,653.0 1221.4,652.8 1221.5,652.8 1222.0,655.7 1222.2,656.6 1222.5,657.0 1223.3,657.1 1229.4,657.2 1270.9,657.2 1342.4,657.2 1350.7,657.1 1351.7,657.0 1352.2,656.8 1352.5,656.5 1352.6,656.0 1352.9,652.7 1353.2,642.7 1353.3,640.9 1353.5,642.7 1353.8,652.6 1354.1,655.9 1354.2,656.4 1354.3,656.5 1354.5,656.3 1354.6,655.9 1355.2,649.0 1355.3,649.7 1355.7,654.7 1355.9,656.3 1356.1,656.9 1356.9,657.1 1359.3,657.2 1366.9,657.2 1474.7,657.2 1475.5,657.1 1475.9,656.8 1476.1,656.0 1476.5,652.9 1477.1,656.3 1477.3,656.9 1477.6,657.1 1478.1,657.1 1478.3,656.9 1478.9,655.0 1479.5,656.9 1479.7,657.1 1480.1,657.1 1503.7,657.2"/>
<path d="M1059.40,595.00 1060.60,598.24 1064.06,598.39 1061.35,600.53 1062.28,603.86 1059.40,601.95 1056.52,603.86 1057.45,600.53 1054.74,598.39 1058.20,598.24Z"/>
<path d="M1219.80,637.10 1221.00,640.34 1224.46,640.49 1221.75,642.63 1222.68,645.96 1219.80,644.05 1216.92,645.96 1217.85,642.63 1215.14,640.49 1218.60,640.34Z"/>
<path d="M1353.20,628.10 1354.40,631.34 1357.86,631.49 1355.15,633.63 1356.08,636.96 1353.20,635.05 1350.32,636.96 1351.25,633.63 1348.54,631.49 1352.00,631.34Z"/>
<path d="M1476.40,638.80 1477.60,642.04 1481.06,642.19 1478.35,644.33 1479.28,647.66 1476.40,645.75 1473.52,647.66 1474.45,644.33 1471.74,642.19 1475.20,642.04Z"/>
<path class="tr" d="M877.9,751.4 1044.4,751.4 1053.1,751.3 1055.0,751.2 1056.2,750.9 1057.1,750.5 1057.5,749.8 1057.8,748.5 1058.0,746.1 1058.3,736.7 1058.8,704.6 1059.0,697.4 1059.1,697.7 1059.2,700.1 1059.6,714.1 1060.0,721.2 1060.6,742.0 1060.9,747.7 1061.1,749.2 1061.3,749.9 1061.5,750.3 1061.8,750.6 1062.3,750.8 1063.6,751.1 1067.7,751.3 1078.9,751.4 1206.9,751.4 1217.6,751.3 1218.8,751.1 1219.1,750.9 1219.2,750.5 1219.5,749.0 1219.9,743.8 1220.0,742.8 1220.2,743.7 1220.6,748.7 1220.8,749.5 1220.8,749.6 1220.9,749.5 1221.3,747.2 1221.4,747.0 1221.5,747.0 1222.0,749.9 1222.2,750.8 1222.5,751.2 1223.3,751.3 1231.4,751.4 1315.4,751.4 1350.7,751.3 1351.7,751.2 1352.2,751.0 1352.5,750.7 1352.6,750.2 1352.9,746.6 1353.2,736.2 1353.3,734.3 1353.5,736.2 1353.8,746.6 1354.1,750.1 1354.2,750.5 1354.3,750.6 1354.5,750.5 1354.6,750.0 1355.2,742.8 1355.3,743.6 1355.7,748.8 1355.9,750.4 1356.1,751.1 1356.9,751.3 1359.3,751.4 1366.9,751.4 1474.7,751.4 1475.5,751.3 1475.9,751.0 1476.1,750.2 1476.5,747.1 1477.1,750.5 1477.3,751.1 1477.6,751.3 1478.1,751.3 1478.3,751.1 1478.9,749.2 1479.5,751.1 1479.7,751.3 1480.1,751.3 1503.7,751.4"/>
<path d="M1059.40,688.60 1060.60,691.84 1064.06,691.99 1061.35,694.13 1062.28,697.46 1059.40,695.55 1056.52,697.46 1057.45,694.13 1054.74,691.99 1058.20,691.84Z"/>
<path d="M1219.80,732.80 1221.00,736.04 1224.46,736.19 1221.75,738.33 1222.68,741.66 1219.80,739.75 1216.92,741.66 1217.85,738.33 1215.14,736.19 1218.60,736.04Z"/>
<path d="M1353.20,725.10 1354.40,728.34 1357.86,728.49 1355.15,730.63 1356.08,733.96 1353.20,732.05 1350.32,733.96 1351.25,730.63 1348.54,728.49 1352.00,728.34Z"/>
<path d="M1476.40,734.90 1477.60,738.14 1481.06,738.29 1478.35,740.43 1479.28,743.76 1476.40,741.85 1473.52,743.76 1474.45,740.43 1471.74,738.29 1475.20,738.14Z"/>
<path class="tr" d="M877.9,842.1 1043.9,842.1 1052.8,842.0 1054.7,841.9 1056.0,841.6 1056.9,841.2 1057.4,840.6 1057.7,839.3 1058.0,837.0 1058.3,828.1 1058.9,793.1 1059.0,789.9 1059.1,789.7 1060.0,811.2 1060.6,832.5 1061.0,838.2 1061.2,839.9 1061.4,840.6 1061.6,841.0 1061.9,841.3 1062.4,841.5 1063.9,841.8 1068.0,842.0 1079.4,842.1 1217.5,842.0 1218.7,841.9 1219.0,841.7 1219.2,841.4 1219.4,840.1 1219.9,835.6 1220.0,834.8 1220.2,835.6 1220.6,839.0 1220.7,840.0 1220.8,840.1 1220.9,840.1 1221.4,838.3 1221.6,838.7 1222.0,840.6 1222.2,841.5 1222.6,841.9 1223.5,842.0 1296.4,842.1 1350.6,842.0 1351.5,841.9 1352.1,841.8 1352.4,841.5 1352.5,841.1 1352.8,838.1 1353.2,829.5 1353.3,827.9 1353.5,829.5 1353.8,838.1 1354.1,840.9 1354.4,841.3 1354.6,840.8 1355.1,835.6 1355.2,834.9 1355.9,841.2 1356.2,841.8 1357.0,842.0 1367.4,842.1 1474.6,842.1 1475.5,842.0 1475.8,841.7 1476.0,840.9 1476.4,838.3 1476.5,837.8 1476.7,838.3 1477.1,841.2 1477.3,841.8 1477.6,841.9 1478.1,841.9 1478.3,841.8 1478.9,839.9 1479.1,840.2 1479.5,841.7 1479.7,841.9 1480.1,842.0 1503.7,842.1"/>
<path d="M1059.40,777.90 1060.60,781.14 1064.06,781.29 1061.35,783.43 1062.28,786.76 1059.40,784.85 1056.52,786.76 1057.45,783.43 1054.74,781.29 1058.20,781.14Z"/>
<path d="M1219.80,821.70 1221.00,824.94 1224.46,825.09 1221.75,827.23 1222.68,830.56 1219.80,828.65 1216.92,830.56 1217.85,827.23 1215.14,825.09 1218.60,824.94Z"/>
<path d="M1353.20,816.50 1354.40,819.74 1357.86,819.89 1355.15,822.03 1356.08,825.36 1353.20,823.45 1350.32,825.36 1351.25,822.03 1348.54,819.89 1352.00,819.74Z"/>
<path d="M1476.40,823.80 1477.60,827.04 1481.06,827.19 1478.35,829.33 1479.28,832.66 1476.40,830.75 1473.52,832.66 1474.45,829.33 1471.74,827.19 1475.20,827.04Z"/>
<path class="tr" d="M877.9,939.6 919.6,939.6 924.7,939.5 927.1,939.3 927.8,939.2 928.3,938.9 928.7,938.6 929.0,938.1 929.5,936.6 930.4,932.3 930.7,931.5 930.9,931.6 931.1,932.1 932.1,936.5 932.4,937.6 932.7,938.3 933.1,938.8 933.7,939.1 934.5,939.3 935.9,939.4 940.8,939.6 953.9,939.6 1008.1,939.6 1021.3,939.5 1023.6,939.4 1025.0,939.1 1026.0,938.6 1027.5,937.4 1028.2,937.2 1028.7,937.4 1030.1,938.3 1030.7,938.5 1031.5,938.3 1033.0,937.6 1033.7,937.5 1034.1,937.7 1035.4,938.6 1036.1,939.0 1037.0,939.3 1038.1,939.4 1042.8,939.5 1050.6,939.5 1053.9,939.4 1055.7,939.1 1056.3,938.9 1056.7,938.6 1057.3,937.8 1057.5,936.7 1057.8,934.0 1058.2,923.3 1058.9,890.6 1059.0,887.3 1059.1,886.5 1059.5,893.4 1060.6,927.2 1061.0,934.8 1061.3,937.0 1061.5,937.9 1061.8,938.4 1062.2,938.7 1062.7,939.0 1064.3,939.3 1068.4,939.5 1078.4,939.6 1164.9,939.5 1167.6,939.4 1168.9,939.2 1169.9,938.7 1171.4,937.5 1172.0,937.3 1172.7,937.5 1174.5,938.8 1175.1,939.0 1175.8,939.2 1176.9,939.0 1178.6,938.4 1179.1,938.3 1179.8,938.4 1181.9,939.3 1184.3,939.5 1199.9,939.6 1217.2,939.5 1218.5,939.4 1218.8,939.2 1219.0,938.9 1219.3,937.6 1219.8,933.1 1220.0,932.3 1220.2,932.9 1220.8,936.5 1220.9,936.7 1221.0,936.7 1221.3,935.9 1221.5,935.8 1221.7,936.3 1222.1,938.2 1222.4,939.1 1222.8,939.4 1223.7,939.5 1230.1,939.6 1249.4,939.6 1251.9,939.4 1255.2,939.0 1259.0,939.5 1263.0,939.6 1350.3,939.5 1351.9,939.3 1352.2,939.1 1352.4,938.7 1352.7,936.1 1353.2,928.6 1353.3,927.2 1353.5,928.6 1353.9,936.0 1354.2,938.1 1354.4,938.4 1354.5,938.1 1355.2,933.3 1355.4,933.9 1355.8,937.7 1356.1,938.9 1356.4,939.3 1357.2,939.5 1368.9,939.6 1474.3,939.6 1475.3,939.5 1475.7,939.2 1475.9,938.5 1476.4,936.2 1476.5,935.8 1476.7,936.2 1477.2,938.8 1477.4,939.2 1477.7,939.4 1478.0,939.4 1478.2,939.2 1478.9,937.7 1479.1,937.8 1479.7,939.3 1479.9,939.5 1480.3,939.5 1503.7,939.6"/>
<circle cx="929.4" cy="923.0" r="4.60"/>
<circle cx="1031.0" cy="930.2" r="4.60"/>
<circle cx="1171.9" cy="930.2" r="4.60"/>
<path d="M1059.40,875.70 1060.60,878.94 1064.06,879.09 1061.35,881.23 1062.28,884.56 1059.40,882.65 1056.52,884.56 1057.45,881.23 1054.74,879.09 1058.20,878.94Z"/>
<path d="M1219.80,920.70 1221.00,923.94 1224.46,924.09 1221.75,926.23 1222.68,929.56 1219.80,927.65 1216.92,929.56 1217.85,926.23 1215.14,924.09 1218.60,923.94Z"/>
<path d="M1352.80,915.20 1354.00,918.44 1357.46,918.59 1354.75,920.73 1355.68,924.06 1352.80,922.15 1349.92,924.06 1350.85,920.73 1348.14,918.59 1351.60,918.44Z"/>
<path d="M1476.40,922.90 1477.60,926.14 1481.06,926.29 1478.35,928.43 1479.28,931.76 1476.40,929.85 1473.52,931.76 1474.45,928.43 1471.74,926.29 1475.20,926.14Z"/>
<path class="tr2" style="stroke-width:1.20" d="M877.9,1028.7 878.2,1029.3 878.5,1029.6 878.8,1028.4 879.1,1029.2 879.4,1031.1 879.7,1028.7 880.0,1029.1 880.3,1029.6 880.6,1028.1 880.9,1029.4 881.2,1030.0 881.5,1029.3 881.8,1028.7 882.1,1029.4 882.4,1028.8 882.7,1029.5 883.0,1029.3 883.3,1029.2 883.6,1028.8 883.9,1030.2 884.2,1029.4 884.5,1029.7 884.8,1029.4 885.1,1029.1 885.4,1029.5 885.7,1029.3 886.0,1029.3 886.3,1029.3 886.6,1028.9 886.9,1029.2 887.2,1029.2 887.5,1029.7 887.8,1028.6 888.1,1029.7 888.4,1027.5 888.7,1028.3 889.0,1028.9 889.3,1028.5 889.6,1029.1 889.9,1027.5 890.2,1027.9 890.5,1027.7 890.8,1028.7 891.1,1029.5 891.4,1027.9 891.7,1028.2 892.0,1027.9 892.3,1029.0 892.6,1028.8 892.9,1028.8 893.2,1027.9 893.5,1028.1 893.8,1027.9 894.1,1027.9 894.4,1028.0 894.7,1028.4 895.0,1027.0 895.3,1028.9 895.6,1028.1 895.9,1029.2 896.2,1028.7 896.5,1028.0 896.8,1028.1 897.1,1028.4 897.4,1027.1 897.7,1028.2 898.0,1027.5 898.3,1027.6 898.6,1027.0 898.9,1027.2 899.2,1026.5 899.5,1026.3 899.8,1026.9 900.1,1027.0 900.4,1026.4 900.7,1025.0 901.0,1025.4 901.3,1024.6 901.6,1024.3 901.9,1023.3 902.2,1022.5 902.5,1022.1 902.8,1020.5 903.1,1019.4 903.4,1017.6 903.7,1015.6 904.0,1014.0 904.3,1011.2 904.6,1010.1 904.9,1007.5 905.2,1005.0 905.5,1003.2 905.8,999.4 906.1,998.3 906.4,995.7 906.7,993.2 907.0,990.6 907.1,990.6 907.3,989.2 907.6,987.7 907.9,987.3 908.1,986.9 908.2,986.0 908.5,986.1 908.8,988.1 909.1,985.3 909.4,986.2 909.7,985.7 910.0,985.4 910.3,985.9 910.6,984.3 910.9,983.6 911.0,984.5 911.2,984.3 911.5,983.2 911.8,983.3 912.1,981.7 912.4,981.5 912.7,980.0 912.9,981.7 913.0,980.4 913.3,980.6 913.6,981.1 913.9,980.6 914.2,981.5 914.5,981.7 914.8,982.6 915.1,981.5 915.4,982.4 915.7,982.6 916.0,982.5 916.3,982.6 916.6,983.9 916.9,983.4 917.2,984.5 917.5,986.5 917.8,988.0 918.1,989.4 918.4,991.6 918.7,993.5 919.0,997.0 919.3,999.3 919.6,1002.7 919.9,1003.8 920.2,1007.1 920.5,1008.8 920.8,1011.2 921.1,1012.5 921.4,1016.9 921.7,1017.3 922.0,1018.8 922.3,1019.8 922.6,1020.1 922.9,1020.9 923.2,1021.8 923.5,1023.6 923.8,1023.3 924.1,1024.2 924.4,1024.7 924.7,1024.9 925.0,1024.9 925.3,1025.1 925.6,1025.6 925.8,1025.6 925.9,1025.0 926.2,1026.4 926.5,1026.4 926.7,1026.4 926.8,1026.3 927.1,1025.8 927.4,1027.1 927.7,1025.8 928.0,1025.9 928.3,1025.9 928.6,1026.8 928.9,1026.6 929.2,1025.8 929.5,1026.3 929.8,1026.1 930.1,1027.1 930.4,1027.1 930.7,1026.3 931.0,1026.5 931.3,1026.6 931.6,1027.0 931.9,1026.9 932.2,1026.7 932.5,1026.6 932.8,1026.3 933.1,1026.0 933.4,1026.7 933.7,1027.0 934.0,1027.3 934.3,1026.0 934.6,1026.4 934.9,1025.8 935.2,1026.0 935.5,1025.5 935.8,1025.8 936.1,1025.3 936.4,1025.6 936.7,1026.0 937.0,1024.9 937.3,1025.1 937.6,1024.9 937.9,1025.6 938.1,1025.3 938.2,1025.1 938.5,1025.1 938.8,1025.6 939.1,1026.3 939.4,1024.9 939.5,1025.4 939.7,1025.2 940.0,1024.7 940.3,1024.5 940.6,1025.0 940.9,1025.1 941.1,1025.4 941.2,1025.2 941.5,1025.1 941.8,1026.7 942.1,1024.6 942.4,1025.1 942.7,1026.9 943.0,1026.5 943.3,1026.2 943.6,1026.1 943.9,1027.8 944.2,1027.0 944.5,1026.5 944.8,1027.2 945.1,1028.2 945.4,1027.4 945.7,1027.4 946.0,1027.5 946.3,1027.8 946.6,1027.1 946.9,1027.6 947.2,1028.0 947.5,1029.2 947.8,1027.0 948.1,1027.8 948.4,1027.1 948.7,1029.6 949.0,1027.2 949.3,1027.3 949.6,1028.3 949.9,1028.4 950.2,1027.0 950.5,1028.7 950.8,1028.1 951.1,1028.1 951.4,1027.6 951.7,1026.6 952.0,1029.0 952.3,1026.8 952.6,1027.0 952.9,1026.8 953.2,1027.5 953.5,1026.4 953.8,1026.2 954.1,1026.8 954.4,1026.7 954.7,1026.1 955.0,1026.1 955.3,1026.2 955.6,1025.6 955.9,1025.1 956.2,1025.2 956.5,1025.9 956.8,1025.7 957.1,1025.6 957.4,1025.4 957.7,1024.7 958.0,1024.7 958.3,1024.8 958.6,1024.2 958.9,1024.1 959.1,1024.2 959.2,1024.9 959.5,1024.8 959.8,1025.3 960.1,1025.9 960.4,1025.6 960.7,1025.5 961.0,1025.4 961.3,1025.4 961.6,1026.2 961.9,1026.2 962.2,1027.0 962.5,1026.4 962.8,1026.9 963.1,1026.3 963.4,1027.9 963.7,1026.8 964.0,1027.2 964.3,1028.1 964.6,1027.3 964.9,1028.7 965.2,1029.5 965.5,1027.4 965.8,1028.5 966.1,1029.4 966.4,1029.2 966.7,1027.9 967.0,1028.3 967.3,1028.8 967.6,1027.9 967.9,1027.8 968.2,1028.7 968.3,1029.0 968.5,1028.8 968.8,1029.7 969.1,1029.2 969.4,1029.4 969.7,1029.8 970.0,1029.6 970.3,1028.6 970.6,1028.9 970.9,1029.2 971.2,1028.3 971.5,1029.2 971.8,1029.1 972.1,1028.9 972.4,1029.5 972.7,1029.0 973.0,1030.3 973.3,1030.1 973.6,1029.6 973.9,1029.6 974.2,1029.8 974.5,1028.9 974.8,1030.1 975.1,1029.7 975.4,1030.0 975.7,1030.2 976.0,1028.5 976.3,1030.1 976.6,1030.3 976.9,1029.7 977.2,1029.5 977.5,1029.3 977.8,1030.2 978.1,1028.3 978.4,1028.8 978.7,1029.0 979.0,1031.0 979.3,1027.8 979.6,1029.2 979.9,1029.9 980.2,1030.0 980.5,1030.0 980.8,1029.4 981.1,1028.0 981.4,1028.8 981.7,1029.2 982.0,1029.5 982.3,1029.4 982.6,1029.6 982.9,1029.6 983.2,1030.0 983.5,1028.4 983.8,1029.9 984.1,1030.6 984.4,1029.8 984.7,1030.0 985.0,1027.7 985.3,1029.7 985.6,1029.2 985.9,1029.3 986.2,1030.5 986.5,1029.1 986.8,1030.9 987.1,1028.4 987.4,1029.4 987.7,1029.2 988.0,1029.3 988.3,1029.6 988.4,1029.0 988.6,1029.1 988.9,1027.7 989.2,1027.8 989.5,1028.1 989.8,1028.6 990.1,1028.8 990.4,1027.3 990.7,1027.6 991.0,1027.5 991.3,1027.3 991.6,1026.9 991.9,1026.0 992.2,1025.6 992.5,1026.4 992.8,1024.7 993.1,1026.1 993.4,1024.8 993.7,1024.0 994.0,1023.8 994.2,1022.7 994.3,1022.3 994.6,1022.3 994.9,1020.6 995.2,1021.6 995.5,1020.1 995.8,1019.6 996.1,1019.0 996.4,1018.1 996.7,1017.0 997.0,1015.2 997.3,1015.3 997.6,1014.5 997.9,1013.3 998.2,1012.2 998.5,1011.7 998.8,1010.8 999.1,1009.4 999.4,1009.1 999.7,1008.1 1000.0,1007.5 1000.3,1007.5 1000.5,1007.0 1000.6,1007.3 1000.9,1006.4 1001.2,1007.1 1001.5,1006.0 1001.8,1006.3 1001.9,1005.8 1002.1,1006.2 1002.4,1005.2 1002.7,1006.5 1003.0,1006.5 1003.3,1006.5 1003.5,1006.2 1003.6,1006.1 1003.9,1006.2 1004.2,1005.7 1004.5,1007.4 1004.7,1007.5 1004.8,1008.6 1005.1,1008.2 1005.3,1007.8 1005.4,1009.1 1005.7,1010.8 1006.0,1011.4 1006.3,1011.0 1006.6,1012.5 1006.9,1014.4 1007.2,1014.7 1007.5,1016.3 1007.8,1017.1 1008.1,1018.9 1008.4,1019.1 1008.7,1021.6 1009.0,1021.6 1009.3,1021.7 1009.6,1023.5 1009.9,1023.7 1010.2,1024.7 1010.3,1025.7 1010.5,1025.1 1010.8,1025.9 1011.1,1026.3 1011.4,1026.9 1011.7,1026.3 1012.0,1027.2 1012.3,1027.6 1012.6,1027.8 1012.9,1027.6 1013.2,1028.4 1013.5,1029.0 1013.8,1029.4 1014.1,1029.2 1014.4,1030.2 1014.7,1028.7 1015.0,1028.9 1015.3,1028.7 1015.6,1029.0 1015.9,1030.2 1016.2,1029.3 1016.5,1030.4 1016.8,1029.7 1017.1,1029.8 1017.4,1029.2 1017.7,1029.6 1018.0,1029.4 1018.3,1030.2 1018.6,1029.0 1018.9,1029.7 1019.2,1029.6 1019.5,1029.6 1019.8,1028.5 1020.1,1030.8 1020.4,1028.9 1020.7,1030.7 1021.0,1029.2 1021.3,1029.9 1021.6,1029.8 1021.9,1030.0 1022.2,1030.2 1022.5,1030.3 1022.8,1031.1 1023.1,1029.4 1023.4,1030.6 1023.7,1030.6 1024.0,1028.6 1024.3,1029.5 1024.6,1028.9 1024.9,1029.8 1025.2,1029.3 1025.5,1030.3 1025.8,1029.1 1026.1,1030.7 1026.4,1030.3 1026.7,1030.8 1027.0,1028.5 1027.3,1029.3 1027.6,1029.6 1027.9,1029.7 1028.2,1030.4 1028.5,1028.8 1028.8,1030.3 1029.1,1030.0 1029.4,1030.3 1029.7,1029.5 1030.0,1029.8 1030.3,1029.9 1030.5,1030.6 1030.6,1029.5 1030.9,1028.8 1031.2,1029.9 1031.5,1031.3 1031.8,1030.5 1032.1,1030.6 1032.4,1030.0 1032.7,1030.4 1033.0,1029.9 1033.3,1029.3 1033.6,1030.0 1033.9,1029.4 1034.2,1030.3 1034.5,1028.7 1034.8,1029.6 1035.1,1030.5 1035.4,1030.0 1035.7,1029.8 1036.0,1031.2 1036.3,1030.3 1036.6,1030.2 1036.9,1031.0 1037.2,1029.8 1037.5,1030.2 1037.8,1028.7 1038.1,1029.8 1038.4,1030.2 1038.7,1029.4 1039.0,1030.5 1039.3,1030.7 1039.6,1030.1 1039.9,1029.6 1040.2,1029.3 1040.5,1030.8 1040.8,1031.5 1041.1,1030.2 1041.4,1030.6 1041.7,1030.9 1042.0,1030.0 1042.3,1030.8 1042.6,1029.5 1042.9,1029.6 1043.2,1031.1 1043.5,1029.5 1043.8,1030.5 1044.1,1028.8 1044.4,1029.1 1044.7,1030.6 1045.0,1029.7 1045.3,1029.3 1045.6,1029.4 1045.9,1029.2 1046.2,1030.1 1046.5,1029.8 1046.8,1029.3 1047.1,1028.7 1047.4,1028.8 1047.7,1030.0 1048.0,1029.4 1048.3,1030.2 1048.6,1029.2 1048.9,1030.1 1049.2,1029.2 1049.5,1029.4 1049.8,1030.8 1050.1,1030.3 1050.4,1029.9 1050.7,1030.1 1051.0,1029.4 1051.3,1029.0 1051.6,1030.7 1051.9,1030.9 1052.2,1030.6 1052.5,1030.7 1052.8,1029.3 1053.1,1030.3 1053.4,1030.0 1053.7,1030.2 1054.0,1030.1 1054.3,1029.5 1054.6,1030.1 1054.9,1029.3 1055.2,1029.5 1055.5,1029.9 1055.8,1028.9 1056.1,1029.3 1056.4,1029.7 1056.7,1030.3 1057.0,1030.9 1057.3,1030.3 1057.6,1029.7 1057.9,1029.3 1058.2,1029.7 1058.5,1029.8 1058.8,1030.1 1059.1,1029.2 1059.4,1028.9 1059.7,1029.3 1060.0,1029.6 1060.3,1030.4 1060.6,1029.6 1060.9,1029.7 1061.2,1029.9 1061.5,1029.5 1061.8,1029.6 1062.1,1029.5 1062.4,1031.7 1062.7,1029.4 1063.0,1029.5 1063.3,1029.2 1063.4,1030.1 1063.6,1030.5 1063.9,1031.1 1064.2,1029.8 1064.5,1028.9 1064.8,1028.9 1065.1,1029.1 1065.4,1029.0 1065.7,1028.8 1066.0,1030.6 1066.2,1028.2 1066.3,1029.4 1066.6,1029.6 1066.9,1029.1 1067.2,1029.1 1067.5,1029.3 1067.8,1028.8 1068.1,1028.6 1068.3,1028.1 1068.4,1028.2 1068.7,1027.5 1069.0,1027.0 1069.3,1028.1 1069.6,1028.7 1069.9,1027.3 1070.2,1026.3 1070.5,1027.5 1070.8,1027.4 1071.1,1026.7 1071.4,1026.3 1071.7,1026.2 1072.0,1026.6 1072.3,1026.5 1072.6,1025.7 1072.9,1025.8 1073.2,1025.5 1073.5,1025.5 1073.8,1025.6 1074.1,1025.7 1074.4,1025.5 1074.7,1025.7 1075.0,1025.2 1075.3,1024.9 1075.6,1025.7 1075.9,1025.7 1076.2,1025.7 1076.5,1025.2 1076.6,1026.8 1076.8,1024.6 1077.1,1025.9 1077.4,1025.9 1077.7,1025.3 1078.0,1026.2 1078.3,1026.6 1078.6,1026.1 1078.9,1026.9 1079.2,1027.0 1079.5,1027.3 1079.7,1026.6 1079.8,1027.4 1080.1,1026.7 1080.4,1027.6 1080.7,1026.4 1081.0,1028.5 1081.3,1026.6 1081.6,1026.3 1081.9,1028.3 1082.2,1027.5 1082.5,1028.3 1082.8,1028.2 1082.9,1027.5 1083.1,1028.1 1083.4,1029.2 1083.7,1027.9 1084.0,1028.9 1084.3,1027.8 1084.6,1029.2 1084.9,1028.0 1085.2,1028.7 1085.5,1028.5 1085.8,1027.6 1086.1,1028.6 1086.4,1028.7 1086.7,1028.4 1087.0,1028.7 1087.3,1028.8 1087.6,1028.6 1087.9,1029.1 1088.2,1028.2 1088.5,1028.3 1088.8,1028.3 1089.1,1028.1 1089.4,1027.8 1089.7,1029.4 1090.0,1028.1 1090.3,1028.2 1090.6,1029.3 1090.9,1028.3 1091.2,1028.5 1091.5,1028.6 1091.8,1028.0 1092.1,1028.7 1092.4,1028.1 1092.7,1028.7 1093.0,1028.4 1093.3,1028.8 1093.6,1029.2 1093.9,1029.7 1094.2,1027.4 1094.5,1028.7 1094.8,1028.4 1095.1,1028.9 1095.4,1028.6 1095.7,1028.4 1096.0,1028.1 1096.3,1028.2 1096.6,1028.8 1096.9,1028.3 1097.2,1027.8 1097.5,1028.6 1097.8,1028.1 1098.1,1028.2 1098.4,1027.4 1098.7,1028.2 1099.0,1028.5 1099.3,1027.4 1099.6,1028.7 1099.9,1028.9 1100.2,1028.4 1100.5,1028.7 1100.8,1028.7 1101.1,1028.8 1101.4,1028.6 1101.7,1028.8 1102.0,1028.1 1102.3,1028.3 1102.6,1028.5 1102.9,1028.2 1103.2,1028.6 1103.5,1028.9 1103.8,1028.5 1104.1,1027.7 1104.4,1028.9 1104.7,1028.4 1105.0,1027.7 1105.3,1028.4 1105.6,1028.5 1105.9,1028.8 1106.2,1028.6 1106.5,1028.5 1106.8,1028.9 1107.1,1028.3 1107.4,1027.8 1107.7,1027.8 1108.0,1028.1 1108.3,1027.7 1108.6,1028.6 1108.9,1028.6 1109.2,1027.2 1109.5,1028.0 1109.8,1028.4 1110.1,1027.5 1110.4,1028.6 1110.7,1028.4 1111.0,1027.9 1111.3,1028.0 1111.6,1028.8 1111.9,1029.1 1112.2,1028.6 1112.5,1029.5 1112.8,1029.4 1113.1,1029.4 1113.4,1027.6 1113.7,1027.8 1114.0,1029.0 1114.1,1027.5 1114.3,1027.9 1114.6,1028.6 1114.9,1028.2 1115.2,1027.9 1115.5,1028.0 1115.8,1027.7 1116.1,1028.3 1116.4,1028.0 1116.7,1028.3 1117.0,1029.1 1117.3,1028.5 1117.6,1027.4 1117.9,1028.2 1118.2,1028.4 1118.5,1027.6 1118.8,1028.8 1119.1,1028.0 1119.4,1028.4 1119.7,1028.1 1120.0,1027.7 1120.3,1028.6 1120.4,1027.6 1120.6,1029.1 1120.9,1028.0 1121.2,1027.0 1121.5,1028.4 1121.8,1028.2 1122.1,1028.7 1122.4,1027.7 1122.7,1028.3 1123.0,1027.7 1123.3,1028.4 1123.6,1026.2 1123.9,1027.2 1124.2,1027.1 1124.5,1027.5 1124.8,1027.6 1125.1,1029.1 1125.4,1028.1 1125.7,1027.7 1126.0,1027.8 1126.3,1027.0 1126.6,1027.8 1126.9,1028.0 1127.2,1027.6 1127.5,1027.8 1127.8,1026.8 1128.1,1027.6 1128.4,1026.2 1128.7,1027.3 1129.0,1027.9 1129.3,1027.2 1129.6,1027.0 1129.9,1027.1 1130.2,1026.7 1130.5,1027.4 1130.8,1026.8 1131.1,1026.8 1131.4,1027.3 1131.7,1026.6 1132.0,1026.9 1132.3,1026.1 1132.6,1026.7 1132.9,1026.0 1133.2,1025.4 1133.5,1026.2 1133.8,1024.7 1134.1,1026.5 1134.4,1026.3 1134.7,1025.2 1135.0,1026.1 1135.3,1025.4 1135.6,1025.7 1135.9,1025.6 1136.2,1025.5 1136.5,1025.8 1136.8,1025.0 1137.1,1024.5 1137.4,1025.5 1137.7,1023.9 1138.0,1024.6 1138.3,1024.1 1138.6,1024.9 1138.9,1023.5 1139.2,1023.7 1139.5,1024.1 1139.8,1024.7 1140.1,1023.4 1140.4,1025.0 1140.7,1023.7 1141.0,1023.7 1141.3,1024.7 1141.6,1024.9 1141.9,1023.5 1142.2,1023.7 1142.5,1023.3 1142.8,1023.5 1143.1,1023.5 1143.4,1025.4 1143.7,1023.2 1144.0,1023.1 1144.3,1022.5 1144.6,1022.2 1144.9,1024.2 1145.2,1023.2 1145.5,1023.3 1145.8,1023.2 1146.1,1022.9 1146.4,1021.4 1146.7,1022.4 1147.0,1024.4 1147.3,1023.0 1147.6,1023.9 1147.9,1022.7 1148.2,1022.1 1148.5,1023.2 1148.8,1023.3 1149.1,1024.1 1149.4,1023.3 1149.7,1023.0 1150.0,1023.1 1150.3,1023.4 1150.6,1022.3 1150.7,1023.1 1150.9,1023.8 1151.2,1024.2 1151.5,1024.1 1151.8,1023.8 1152.1,1023.5 1152.4,1024.3 1152.7,1023.4 1153.0,1024.7 1153.3,1024.3 1153.6,1023.5 1153.9,1024.7 1154.2,1023.6 1154.5,1025.3 1154.8,1024.7 1155.1,1025.1 1155.4,1024.9 1155.7,1024.8 1156.0,1025.8 1156.3,1024.6 1156.6,1025.0 1156.9,1025.6 1157.2,1023.5 1157.5,1026.0 1157.8,1025.3 1158.1,1025.2 1158.4,1026.4 1158.5,1025.4 1158.7,1025.7 1159.0,1025.1 1159.3,1025.9 1159.6,1026.6 1159.9,1026.1 1160.2,1025.9 1160.5,1025.6 1160.8,1027.1 1161.1,1026.3 1161.4,1027.1 1161.7,1027.2 1161.9,1026.0 1162.0,1026.1 1162.3,1026.5 1162.6,1025.2 1162.9,1026.5 1163.2,1026.4 1163.5,1025.9 1163.8,1026.6 1164.1,1025.8 1164.4,1026.3 1164.7,1026.3 1165.0,1026.3 1165.3,1026.6 1165.6,1026.0 1165.9,1028.0 1166.2,1027.6 1166.5,1027.0 1166.8,1026.8 1167.1,1027.4 1167.4,1026.1 1167.7,1026.5 1168.0,1026.3 1168.3,1027.9 1168.6,1026.0 1168.9,1025.4 1169.2,1026.9 1169.5,1026.4 1169.8,1027.3 1170.1,1026.8 1170.4,1027.3 1170.7,1026.0 1171.0,1025.8 1171.1,1026.3 1171.3,1027.6 1171.6,1025.6 1171.9,1025.9 1172.2,1026.2 1172.5,1026.3 1172.8,1025.9 1173.1,1025.7 1173.4,1025.3 1173.7,1026.3 1174.0,1026.0 1174.1,1026.1 1174.3,1026.5 1174.6,1024.7 1174.9,1024.9 1175.2,1025.5 1175.5,1025.2 1175.8,1025.3 1176.1,1025.2 1176.4,1024.1 1176.7,1024.9 1177.0,1025.2 1177.3,1024.6 1177.6,1024.8 1177.9,1024.2 1178.2,1024.4 1178.5,1024.3 1178.8,1023.9 1179.1,1023.5 1179.4,1023.3 1179.7,1024.3 1180.0,1023.5 1180.3,1023.8 1180.6,1023.2 1180.9,1023.5 1181.2,1024.0 1181.5,1023.1 1181.8,1022.9 1182.1,1023.5 1182.4,1023.5 1182.7,1022.7 1183.0,1023.4 1183.3,1022.0 1183.6,1022.5 1183.9,1022.7 1184.2,1021.7 1184.5,1021.5 1184.8,1021.1 1185.1,1020.9 1185.4,1021.8 1185.7,1022.4 1186.0,1021.8 1186.3,1021.0 1186.6,1021.0 1186.9,1022.1 1187.2,1019.1 1187.5,1021.5 1187.8,1022.8 1188.1,1021.4 1188.4,1021.7 1188.7,1020.7 1189.0,1021.7 1189.3,1020.9 1189.6,1020.0 1189.9,1020.4 1190.2,1020.4 1190.5,1020.1 1190.8,1020.4 1191.1,1020.7 1191.4,1021.0 1191.7,1021.5 1192.0,1020.2 1192.3,1019.7 1192.6,1021.8 1192.9,1021.4 1193.2,1021.4 1193.5,1021.5 1193.8,1021.0 1194.1,1020.0 1194.4,1021.8 1194.7,1021.9 1195.0,1021.0 1195.3,1021.2 1195.6,1021.3 1195.9,1022.2 1196.2,1020.8 1196.5,1021.6 1196.8,1022.8 1197.1,1022.7 1197.4,1022.2 1197.7,1023.1 1198.0,1023.4 1198.3,1022.2 1198.6,1021.9 1198.9,1023.0 1199.2,1023.3 1199.5,1023.1 1199.8,1023.1 1200.1,1023.3 1200.4,1023.9 1200.7,1023.6 1201.0,1023.9 1201.3,1022.6 1201.6,1023.9 1201.9,1023.8 1202.2,1023.8 1202.5,1023.5 1202.8,1024.2 1203.1,1024.5 1203.4,1024.4 1203.7,1024.0 1204.0,1024.7 1204.3,1026.1 1204.6,1025.2 1204.9,1024.1 1205.2,1025.7 1205.3,1025.3 1205.5,1024.9 1205.8,1025.5 1206.1,1025.9 1206.4,1026.1 1206.7,1025.8 1207.0,1025.4 1207.3,1025.5 1207.6,1025.6 1207.9,1026.2 1208.2,1025.8 1208.5,1026.1 1208.8,1026.0 1209.1,1026.3 1209.4,1025.8 1209.7,1026.0 1210.0,1026.2 1210.3,1026.9 1210.6,1027.6 1210.9,1027.2 1211.2,1025.9 1211.5,1027.1 1211.8,1026.1 1212.1,1026.3 1212.4,1027.5 1212.7,1027.4 1213.0,1026.9 1213.3,1027.2 1213.6,1027.9 1213.9,1027.1 1214.2,1028.0 1214.5,1027.3 1214.8,1026.8 1215.1,1027.9 1215.4,1026.6 1215.7,1028.4 1216.0,1027.9 1216.3,1028.1 1216.6,1027.8 1216.9,1028.1 1217.2,1026.9 1217.5,1028.2 1217.8,1028.9 1218.1,1028.6 1218.4,1028.6 1218.7,1026.7 1219.0,1028.5 1219.3,1028.6 1219.6,1028.3 1219.9,1029.0 1220.2,1028.2 1220.5,1028.4 1220.8,1027.3 1221.1,1027.4 1221.4,1028.5 1221.7,1027.8 1222.0,1028.8 1222.3,1027.6 1222.6,1028.7 1222.9,1028.0 1223.2,1026.3 1223.5,1028.3 1223.8,1028.4 1224.1,1027.8 1224.4,1029.0 1224.7,1028.5 1225.0,1028.0 1225.3,1028.1 1225.6,1027.5 1225.9,1028.6 1226.2,1028.4 1226.5,1026.0 1226.8,1029.0 1227.1,1028.0 1227.4,1027.6 1227.7,1028.4 1228.0,1028.5 1228.3,1028.2 1228.6,1027.9 1228.9,1028.2 1229.2,1026.4 1229.5,1026.8 1229.8,1027.5 1230.1,1027.0 1230.4,1026.8 1230.7,1027.7 1231.0,1028.3 1231.3,1027.8 1231.6,1026.7 1231.9,1027.6 1232.2,1026.6 1232.5,1026.8 1232.8,1027.3 1233.1,1026.5 1233.4,1025.7 1233.7,1027.2 1234.0,1026.1 1234.3,1026.9 1234.6,1026.4 1234.9,1026.9 1235.2,1026.2 1235.5,1027.2 1235.8,1026.1 1236.1,1026.5 1236.4,1026.3 1236.7,1026.2 1237.0,1027.5 1237.3,1025.7 1237.6,1025.9 1237.9,1026.1 1238.2,1026.0 1238.5,1026.6 1238.8,1026.9 1239.1,1026.9 1239.4,1026.2 1239.7,1025.3 1240.0,1026.2 1240.3,1026.0 1240.6,1026.2 1240.9,1025.4 1241.2,1025.4 1241.5,1026.5 1241.8,1026.9 1242.1,1025.3 1242.4,1025.2 1242.7,1025.6 1243.0,1025.7 1243.3,1025.3 1243.6,1024.7 1243.9,1026.0 1244.2,1025.7 1244.5,1025.6 1244.8,1025.8 1245.1,1024.4 1245.4,1025.5 1245.7,1024.8 1246.0,1025.7 1246.3,1024.6 1246.6,1025.7 1246.9,1024.1 1247.0,1025.3 1247.2,1026.1 1247.5,1024.6 1247.8,1024.6 1248.1,1025.0 1248.4,1024.8 1248.7,1024.4 1249.0,1025.7 1249.3,1025.9 1249.6,1025.0 1249.9,1025.8 1250.2,1025.9 1250.5,1024.8 1250.8,1025.5 1251.1,1026.0 1251.4,1025.7 1251.7,1024.5 1252.0,1025.3 1252.3,1025.4 1252.6,1024.5 1252.9,1025.6 1253.2,1025.5 1253.5,1025.2 1253.8,1026.2 1254.1,1026.0 1254.4,1025.2 1254.7,1025.7 1255.0,1025.6 1255.3,1026.8 1255.6,1025.7 1255.9,1026.6 1256.2,1025.4 1256.5,1026.9 1256.8,1025.3 1257.1,1027.4 1257.4,1026.4 1257.7,1026.6 1258.0,1027.7 1258.3,1027.3 1258.6,1027.3 1258.9,1027.3 1259.2,1026.3 1259.5,1026.4 1259.8,1027.9 1260.1,1026.7 1260.4,1026.6 1260.7,1027.7 1261.0,1028.3 1261.3,1028.0 1261.6,1026.9 1261.9,1026.7 1262.2,1027.6 1262.5,1027.9 1262.8,1028.1 1263.1,1028.9 1263.4,1028.1 1263.7,1028.2 1264.0,1027.6 1264.3,1027.9 1264.6,1029.1 1264.9,1027.0 1265.2,1028.1 1265.5,1028.6 1265.8,1027.9 1266.1,1028.3 1266.4,1027.7 1266.7,1028.4 1267.0,1029.5 1267.3,1028.4 1267.6,1028.9 1267.9,1028.3 1268.2,1028.7 1268.5,1028.5 1268.8,1028.7 1269.1,1028.7 1269.4,1028.4 1269.7,1029.3 1270.0,1028.8 1270.3,1028.9 1270.6,1029.6 1270.9,1028.1 1271.2,1029.2 1271.5,1028.2 1271.8,1029.2 1272.1,1028.7 1272.4,1028.6 1272.7,1029.7 1273.0,1027.7 1273.3,1030.1 1273.6,1028.5 1273.9,1028.9 1274.2,1029.2 1274.5,1029.5 1274.8,1029.0 1275.1,1029.2 1275.4,1029.1 1275.7,1029.7 1276.0,1029.4 1276.3,1028.9 1276.6,1029.2 1276.9,1028.6 1277.2,1029.1 1277.5,1030.0 1277.8,1029.3 1278.1,1029.5 1278.4,1028.7 1278.7,1029.2 1279.0,1029.2 1279.3,1030.6 1279.6,1029.7 1279.9,1029.7 1280.2,1029.5 1280.5,1030.0 1280.8,1029.1 1281.1,1029.5 1281.4,1028.6 1281.7,1030.4 1282.0,1030.4 1282.3,1030.3 1282.6,1029.3 1282.9,1029.3 1283.2,1029.9 1283.5,1030.0 1283.8,1029.3 1284.1,1030.9 1284.4,1028.8 1284.7,1029.5 1285.0,1029.8 1285.3,1029.0 1285.6,1029.3 1285.9,1030.1 1286.2,1030.1 1286.5,1030.2 1286.8,1029.6 1287.1,1029.5 1287.4,1028.8 1287.7,1029.6 1288.0,1028.5 1288.3,1029.7 1288.6,1031.1 1288.9,1030.1 1289.2,1030.7 1289.5,1030.3 1289.8,1028.8 1290.1,1029.6 1290.4,1029.8 1290.7,1029.9 1291.0,1029.0 1291.3,1028.7 1291.6,1029.6 1291.9,1029.1 1292.2,1028.8 1292.5,1029.9 1292.8,1029.5 1293.1,1030.6 1293.4,1029.7 1293.7,1030.3 1294.0,1030.2 1294.3,1030.1 1294.6,1029.9 1294.9,1028.6 1295.2,1029.9 1295.5,1028.8 1295.8,1029.9 1296.1,1029.5 1296.4,1030.0 1296.7,1030.9 1297.0,1030.0 1297.3,1029.7 1297.6,1029.7 1297.9,1029.6 1298.2,1030.3 1298.5,1030.0 1298.8,1029.3 1299.1,1030.4 1299.4,1030.0 1299.7,1031.1 1300.0,1029.5 1300.3,1030.0 1300.6,1030.8 1300.9,1029.7 1301.2,1030.7 1301.5,1030.0 1301.8,1030.0 1302.1,1030.2 1302.4,1029.5 1302.7,1029.9 1303.0,1029.8 1303.3,1030.2 1303.6,1030.6 1303.9,1029.2 1304.2,1030.5 1304.5,1030.3 1304.8,1030.0 1305.1,1031.3 1305.4,1030.4 1305.7,1029.6 1306.0,1029.5 1306.3,1030.2 1306.6,1030.2 1306.9,1029.5 1307.0,1030.7 1307.2,1029.5 1307.5,1030.2 1307.8,1029.0 1308.1,1030.5 1308.4,1030.8 1308.7,1029.7 1309.0,1030.0 1309.3,1030.5 1309.6,1030.3 1309.9,1029.0 1310.2,1030.0 1310.5,1030.2 1310.8,1029.9 1311.1,1030.4 1311.4,1030.1 1311.7,1030.9 1312.0,1029.8 1312.3,1030.3 1312.6,1029.2 1312.9,1029.1 1313.2,1029.9 1313.5,1029.7 1313.8,1029.8 1314.1,1030.4 1314.4,1029.9 1314.7,1029.0 1315.0,1029.5 1315.3,1029.7 1315.6,1030.1 1315.9,1031.2 1316.2,1029.3 1316.5,1029.3 1316.8,1030.3 1317.1,1029.8 1317.4,1029.9 1317.7,1029.1 1318.0,1030.3 1318.3,1030.4 1318.6,1030.0 1318.9,1030.0 1319.2,1030.3 1319.5,1030.6 1319.8,1029.9 1320.1,1030.2 1320.4,1031.0 1320.7,1029.0 1321.0,1029.7 1321.3,1030.4 1321.6,1029.8 1321.9,1030.4 1322.2,1029.2 1322.5,1029.9 1322.8,1029.9 1323.1,1029.6 1323.4,1031.1 1323.7,1030.7 1324.0,1029.4 1324.3,1030.6 1324.6,1030.8 1324.9,1030.3 1325.2,1029.6 1325.5,1030.6 1325.8,1029.1 1326.1,1029.1 1326.4,1030.8 1326.7,1030.1 1327.0,1030.4 1327.3,1030.8 1327.6,1029.9 1327.9,1029.6 1328.2,1030.3 1328.5,1030.3 1328.8,1029.8 1329.1,1029.6 1329.4,1029.0 1329.7,1029.7 1330.0,1029.6 1330.3,1029.5 1330.6,1030.1 1330.9,1030.4 1331.2,1029.6 1331.5,1030.4 1331.8,1029.7 1332.1,1029.7 1332.4,1029.9 1332.7,1029.8 1333.0,1030.0 1333.3,1029.9 1333.6,1029.4 1333.9,1029.8 1334.2,1030.4 1334.5,1029.7 1334.8,1029.3 1335.1,1029.6 1335.4,1030.1 1335.7,1028.6 1336.0,1029.6 1336.3,1029.2 1336.6,1030.0 1336.9,1029.1 1337.2,1029.4 1337.5,1029.4 1337.8,1029.1 1338.1,1029.0 1338.4,1029.9 1338.7,1028.7 1339.0,1028.9 1339.3,1029.1 1339.6,1029.1 1339.9,1029.2 1340.2,1029.3 1340.5,1028.6 1340.8,1028.9 1341.1,1030.1 1341.4,1029.1 1341.7,1030.0 1342.0,1029.8 1342.3,1028.7 1342.6,1028.6 1342.9,1029.5 1343.2,1028.3 1343.5,1029.0 1343.8,1028.3 1344.1,1029.0 1344.4,1029.2 1344.7,1027.1 1345.0,1029.4 1345.3,1030.0 1345.6,1029.2 1345.9,1028.2 1346.2,1028.8 1346.5,1028.7 1346.8,1030.1 1347.1,1029.9 1347.4,1029.6 1347.7,1030.5 1348.0,1030.2 1348.3,1028.8 1348.6,1029.4 1348.9,1029.3 1349.2,1029.5 1349.5,1030.0 1349.8,1029.1 1350.1,1030.0 1350.4,1030.6 1350.7,1030.8 1351.0,1030.5 1351.3,1029.6 1351.6,1030.2 1351.9,1029.3 1352.2,1029.4 1352.5,1029.6 1352.8,1029.4 1353.1,1029.3 1353.4,1028.5 1353.7,1030.2 1354.0,1030.3 1354.3,1029.6 1354.6,1029.6 1354.9,1029.7 1355.2,1030.9 1355.5,1030.0 1355.8,1030.5 1356.1,1030.1 1356.4,1029.5 1356.7,1029.4 1357.0,1030.0 1357.3,1029.3 1357.6,1029.6 1357.9,1030.3 1358.2,1029.3 1358.5,1030.0 1358.8,1030.0 1359.1,1029.2 1359.4,1030.2 1359.7,1030.3 1360.0,1030.3 1360.3,1029.6 1360.6,1029.2 1360.9,1030.7 1361.2,1029.8 1361.5,1030.6 1361.8,1029.6 1362.1,1030.4 1362.4,1029.5 1362.7,1029.9 1363.0,1030.0 1363.3,1030.0 1363.6,1029.4 1363.9,1029.1 1364.2,1030.6 1364.3,1030.5 1364.5,1029.4 1364.8,1028.7 1365.1,1029.7 1365.4,1029.4 1365.7,1029.4 1366.0,1028.9 1366.3,1030.1 1366.6,1029.3 1366.9,1029.4 1367.2,1029.5 1367.5,1029.6 1367.8,1029.4 1368.1,1028.0 1368.4,1028.7 1368.7,1030.3 1369.0,1029.6 1369.3,1029.4 1369.6,1030.0 1369.9,1029.2 1370.2,1028.9 1370.5,1029.3 1370.8,1028.4 1370.9,1027.7 1371.1,1030.0 1371.4,1029.3 1371.7,1028.8 1372.0,1028.5 1372.3,1028.7 1372.6,1028.8 1372.9,1028.9 1373.2,1028.4 1373.5,1027.9 1373.8,1028.2 1374.1,1028.0 1374.4,1027.0 1374.7,1028.0 1375.0,1028.0 1375.3,1027.9 1375.6,1027.9 1375.9,1028.7 1376.2,1026.5 1376.5,1028.3 1376.8,1028.0 1377.1,1027.9 1377.4,1027.2 1377.7,1027.6 1378.0,1028.0 1378.3,1028.2 1378.6,1027.1 1378.9,1027.7 1379.2,1026.7 1379.5,1027.6 1379.8,1027.3 1380.1,1027.5 1380.4,1027.2 1380.7,1026.8 1381.0,1028.0 1381.3,1027.1 1381.6,1027.7 1381.9,1028.7 1382.2,1027.9 1382.5,1027.2 1382.8,1027.6 1383.1,1027.6 1383.4,1028.1 1383.7,1026.3 1384.0,1028.1 1384.3,1028.1 1384.6,1026.9 1384.9,1028.8 1385.2,1028.1 1385.5,1027.9 1385.8,1028.0 1386.1,1027.8 1386.4,1028.3 1386.7,1029.0 1387.0,1028.1 1387.3,1028.5 1387.6,1028.8 1387.9,1028.2 1388.2,1027.4 1388.5,1027.9 1388.8,1028.8 1389.1,1029.0 1389.4,1028.5 1389.7,1027.3 1390.0,1028.8 1390.3,1029.4 1390.6,1028.6 1390.9,1029.0 1391.2,1027.7 1391.5,1029.1 1391.8,1029.2 1392.1,1029.0 1392.4,1029.2 1392.7,1029.0 1393.0,1029.7 1393.3,1029.4 1393.5,1030.2 1393.6,1029.0 1393.9,1028.8 1394.2,1030.5 1394.5,1029.8 1394.8,1029.8 1395.1,1029.0 1395.4,1030.0 1395.7,1029.4 1396.0,1030.0 1396.3,1029.4 1396.6,1029.2 1396.9,1029.7 1397.2,1029.6 1397.5,1029.9 1397.8,1029.0 1398.1,1030.7 1398.4,1029.2 1398.7,1029.5 1399.0,1028.7 1399.3,1030.8 1399.6,1030.0 1399.9,1029.7 1400.2,1029.9 1400.5,1029.3 1400.8,1030.5 1401.1,1029.4 1401.4,1030.4 1401.7,1030.6 1402.0,1029.9 1402.3,1030.4 1402.6,1029.8 1402.9,1029.3 1403.2,1030.4 1403.5,1030.3 1403.8,1030.2 1404.1,1028.6 1404.4,1030.0 1404.7,1030.1 1405.0,1029.8 1405.3,1030.8 1405.6,1029.5 1405.9,1028.9 1406.2,1029.2 1406.5,1029.9 1406.8,1030.0 1407.1,1029.4 1407.4,1030.7 1407.7,1030.8 1408.0,1030.2 1408.3,1029.8 1408.6,1029.6 1408.9,1029.6 1409.2,1029.9 1409.5,1029.7 1409.8,1030.0 1410.1,1029.8 1410.4,1029.8 1410.7,1031.0 1411.0,1030.0 1411.3,1030.3 1411.6,1030.3 1411.9,1030.0 1412.2,1030.0 1412.5,1029.5 1412.8,1029.6 1413.1,1031.1 1413.4,1030.0 1413.7,1030.3 1414.0,1030.7 1414.3,1030.2 1414.6,1030.4 1414.9,1029.8 1415.2,1029.9 1415.5,1028.8 1415.8,1031.2 1416.1,1030.4 1416.4,1030.3 1416.7,1029.8 1417.0,1030.4 1417.3,1028.9 1417.6,1031.2 1417.9,1030.1 1418.2,1029.4 1418.5,1029.8 1418.8,1030.0 1419.1,1029.7 1419.4,1029.6 1419.7,1031.3 1420.0,1029.5 1420.3,1029.0 1420.6,1029.9 1420.9,1030.2 1421.2,1030.6 1421.5,1029.9 1421.8,1030.6 1422.1,1029.3 1422.4,1030.3 1422.7,1030.3 1423.0,1029.9 1423.3,1030.0 1423.6,1030.2 1423.9,1029.4 1424.2,1029.4 1424.5,1029.4 1424.8,1029.5 1425.1,1029.8 1425.4,1029.1 1425.7,1029.4 1426.0,1029.6 1426.3,1029.7 1426.6,1030.1 1426.9,1030.1 1427.2,1029.3 1427.5,1029.4 1427.8,1030.4 1428.1,1028.6 1428.4,1029.4 1428.7,1029.1 1429.0,1029.3 1429.3,1028.6 1429.6,1029.4 1429.9,1030.5 1430.2,1029.8 1430.5,1029.7 1430.8,1028.2 1431.1,1029.0 1431.4,1029.1 1431.7,1029.6 1432.0,1028.7 1432.3,1029.2 1432.6,1028.8 1432.9,1029.9 1433.2,1028.7 1433.5,1029.5 1433.8,1028.9 1434.1,1029.8 1434.4,1029.6 1434.7,1029.7 1435.0,1029.9 1435.3,1029.5 1435.6,1029.0 1435.9,1029.7 1436.2,1030.1 1436.5,1028.5 1436.8,1029.4 1437.1,1029.8 1437.4,1029.5 1437.7,1030.0 1438.0,1029.6 1438.3,1029.5 1438.6,1030.2 1438.9,1030.4 1439.2,1029.0 1439.5,1030.6 1439.8,1030.4 1440.1,1030.0 1440.4,1029.6 1440.7,1029.7 1441.0,1031.0 1441.3,1029.9 1441.6,1029.4 1441.9,1029.8 1442.2,1030.1 1442.5,1030.5 1442.8,1029.8 1443.1,1028.7 1443.4,1029.1 1443.7,1029.9 1444.0,1029.1 1444.3,1029.6 1444.6,1030.0 1444.9,1030.4 1445.2,1029.6 1445.5,1030.1 1445.8,1029.1 1446.1,1030.7 1446.4,1029.6 1446.7,1031.1 1447.0,1029.8 1447.3,1030.0 1447.6,1029.4 1447.9,1029.3 1448.2,1030.8 1448.5,1029.4 1448.8,1029.8 1449.1,1030.4 1449.4,1030.3 1449.7,1030.4 1450.0,1030.4 1450.3,1029.8 1450.6,1030.1 1450.9,1030.9 1451.2,1030.9 1451.5,1029.1 1451.8,1029.9 1452.1,1031.0 1452.4,1030.6 1452.7,1029.0 1453.0,1030.6 1453.3,1029.7 1453.6,1030.5 1453.9,1029.4 1454.2,1029.8 1454.5,1029.6 1454.8,1030.0 1455.1,1029.8 1455.4,1029.1 1455.7,1028.1 1456.0,1029.6 1456.3,1030.9 1456.6,1030.6 1456.9,1029.4 1457.2,1029.1 1457.5,1030.4 1457.8,1029.6 1458.1,1030.3 1458.4,1030.7 1458.7,1029.7 1459.0,1029.4 1459.3,1029.6 1459.6,1029.3 1459.9,1030.6 1460.2,1030.4 1460.5,1030.1 1460.8,1030.2 1461.1,1030.3 1461.4,1029.9 1461.7,1030.0 1462.0,1029.2 1462.3,1030.7 1462.6,1029.2 1462.9,1028.7 1463.2,1028.7 1463.5,1029.7 1463.8,1029.0 1464.1,1030.2 1464.4,1028.6 1464.7,1028.9 1465.0,1029.3 1465.3,1029.7 1465.6,1028.5 1465.9,1029.6 1466.2,1029.5 1466.5,1029.0 1466.8,1029.9 1467.1,1029.5 1467.4,1029.5 1467.7,1029.6 1468.0,1028.8 1468.3,1029.2 1468.6,1028.6 1468.9,1029.3 1469.2,1028.9 1469.5,1029.5 1469.8,1029.9 1470.1,1029.9 1470.4,1029.0 1470.7,1029.6 1471.0,1028.9 1471.3,1029.2 1471.6,1029.2 1471.9,1029.2 1472.2,1029.1 1472.5,1029.4 1472.8,1028.9 1473.1,1029.9 1473.4,1029.7 1473.7,1029.6 1474.0,1030.3 1474.3,1029.5 1474.6,1031.7 1474.9,1028.9 1475.2,1029.0 1475.5,1031.4 1475.8,1030.6 1476.1,1030.5 1476.4,1029.3 1476.7,1029.9 1477.0,1030.5 1477.3,1030.5 1477.6,1030.4 1477.9,1029.0 1478.2,1029.0 1478.5,1030.1 1478.8,1029.6 1479.1,1030.2 1479.4,1030.7 1479.7,1030.0 1480.0,1029.7 1480.3,1029.3 1480.6,1030.2 1480.9,1029.6 1481.2,1030.0 1481.5,1029.5 1481.8,1029.9 1482.1,1029.2 1482.4,1029.1 1482.7,1030.1 1483.0,1030.2 1483.3,1030.0 1483.6,1030.5 1483.8,1029.9 1483.9,1030.2 1484.2,1030.3 1484.5,1030.6 1484.8,1029.7 1485.1,1030.1 1485.4,1029.6 1485.7,1029.5 1486.0,1029.2 1486.3,1030.9 1486.6,1029.8 1486.9,1031.2 1487.2,1029.6 1487.5,1030.3 1487.8,1031.1 1488.1,1030.5 1488.4,1030.4 1488.7,1030.6 1489.0,1030.4 1489.3,1029.9 1489.6,1029.9 1489.9,1029.8 1490.2,1029.6 1490.5,1031.2 1490.8,1029.4 1491.1,1030.3 1491.4,1030.3 1491.7,1029.1 1492.0,1030.5 1492.3,1030.9 1492.6,1030.8 1492.9,1030.8 1493.2,1030.5 1493.5,1030.0 1493.8,1030.3 1494.1,1030.5 1494.4,1030.0 1494.7,1030.1 1495.0,1030.4 1495.3,1030.9 1495.6,1030.3 1495.9,1030.5 1496.2,1030.8 1496.5,1030.1 1496.8,1030.2 1497.1,1029.7 1497.4,1030.2 1497.7,1030.4 1498.0,1030.7 1498.3,1030.6 1498.6,1029.5 1498.9,1030.3 1499.2,1030.0 1499.5,1029.7 1499.8,1028.7 1500.1,1030.0 1500.4,1030.3 1500.7,1029.7 1501.0,1030.8 1501.3,1029.6 1501.6,1030.5 1501.9,1030.6 1502.2,1030.8 1502.5,1030.5 1502.8,1030.7 1503.1,1030.4 1503.4,1030.3 1503.7,1030.6"/>
<path d="M906.2,969.0 L910.4,973.4 L906.2,977.8 L902.0,973.4Z"/>
<path d="M910.8,974.4 L915.0,978.8 L910.8,983.2 L906.6,978.8Z"/>
<path d="M917.3,972.6 L921.5,977.0 L917.3,981.4 L913.1,977.0Z"/>
<path d="M938.1,1011.4 L942.3,1015.8 L938.1,1020.2 L933.9,1015.8Z"/>
<path d="M956.4,1010.3 L960.6,1014.7 L956.4,1019.1 L952.2,1014.7Z"/>
<path d="M997.2,1000.3 L1001.4,1004.7 L997.2,1009.1 L993.0,1004.7Z"/>
<path d="M1005.4,990.9 L1009.6,995.3 L1005.4,999.7 L1001.2,995.3Z"/>
<path d="M1017.2,1016.0 L1021.4,1020.4 L1017.2,1024.8 L1013.0,1020.4Z"/>
<path d="M1071.5,1012.9 L1075.7,1017.3 L1071.5,1021.7 L1067.3,1017.3Z"/>
<path d="M1095.4,1017.8 L1099.6,1022.2 L1095.4,1026.6 L1091.2,1022.2Z"/>
<path d="M1100.5,1016.0 L1104.7,1020.4 L1100.5,1024.8 L1096.3,1020.4Z"/>
<path d="M1106.3,1017.8 L1110.5,1022.2 L1106.3,1026.6 L1102.1,1022.2Z"/>
<path d="M1121.8,1014.4 L1126.0,1018.8 L1121.8,1023.2 L1117.6,1018.8Z"/>
<path d="M1131.5,1014.4 L1135.7,1018.8 L1131.5,1023.2 L1127.3,1018.8Z"/>
<path d="M1145.6,1004.4 L1149.8,1008.8 L1145.6,1013.2 L1141.4,1008.8Z"/>
<path d="M1150.2,1011.3 L1154.4,1015.7 L1150.2,1020.1 L1146.0,1015.7Z"/>
<path d="M1176.8,1013.9 L1181.0,1018.3 L1176.8,1022.7 L1172.6,1018.3Z"/>
<path d="M1183.0,1013.6 L1187.2,1018.0 L1183.0,1022.4 L1178.8,1018.0Z"/>
<path d="M1189.1,1012.4 L1193.3,1016.8 L1189.1,1021.2 L1184.9,1016.8Z"/>
<path d="M1199.4,1005.5 L1203.6,1009.9 L1199.4,1014.3 L1195.2,1009.9Z"/>
<path d="M1237.2,1016.2 L1241.4,1020.6 L1237.2,1025.0 L1233.0,1020.6Z"/>
<path d="M1246.7,1016.7 L1250.9,1021.1 L1246.7,1025.5 L1242.5,1021.1Z"/>
<path d="M1255.5,1012.9 L1259.7,1017.3 L1255.5,1021.7 L1251.3,1017.3Z"/>
<path d="M1299.8,1018.6 L1304.0,1023.0 L1299.8,1027.4 L1295.6,1023.0Z"/>
<path d="M1342.2,1016.0 L1346.4,1020.4 L1342.2,1024.8 L1338.0,1020.4Z"/>
<path d="M1357.7,1018.1 L1361.9,1022.5 L1357.7,1026.9 L1353.5,1022.5Z"/>
<path d="M1383.9,1014.3 L1388.1,1018.7 L1383.9,1023.1 L1379.7,1018.7Z"/>
<path d="M1401.8,1017.4 L1406.0,1021.8 L1401.8,1026.2 L1397.6,1021.8Z"/>
<path d="M1428.5,1017.4 L1432.7,1021.8 L1428.5,1026.2 L1424.3,1021.8Z"/>
<path d="M1444.8,1016.2 L1449.0,1020.6 L1444.8,1025.0 L1440.6,1020.6Z"/>
<path d="M1468.4,1016.2 L1472.6,1020.6 L1468.4,1025.0 L1464.2,1020.6Z"/>
<path d="M1479.9,1016.2 L1484.1,1020.6 L1479.9,1025.0 L1475.7,1020.6Z"/>
</svg></body></html>
